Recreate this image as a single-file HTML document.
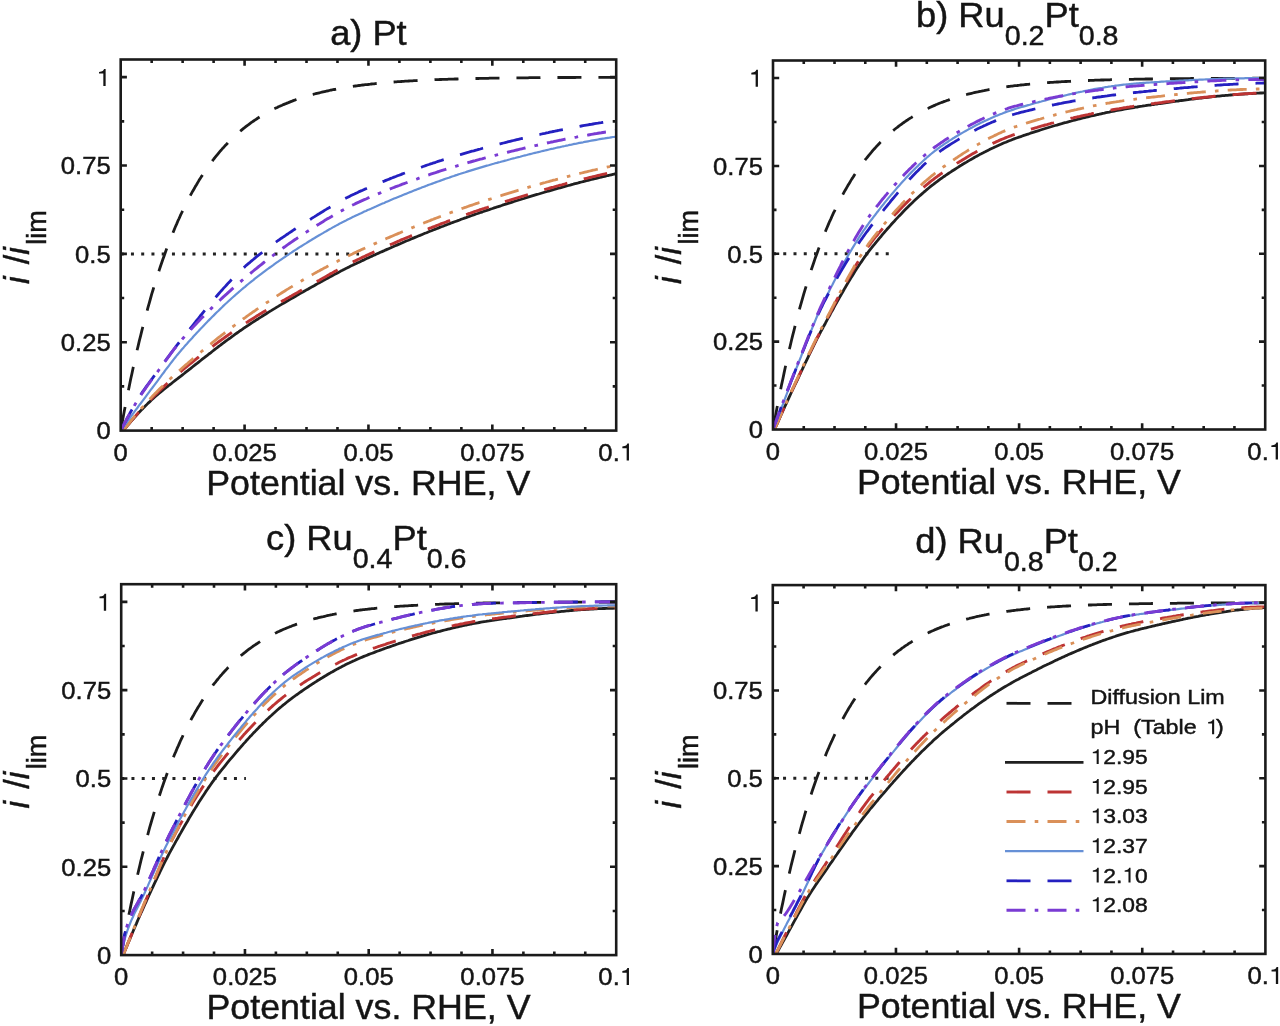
<!DOCTYPE html>
<html><head><meta charset="utf-8"><title>Figure</title>
<style>html,body{margin:0;padding:0;background:#fff;width:1280px;height:1026px;overflow:hidden}svg{display:block;filter:blur(0.45px)}
text{font-family:"Liberation Sans", sans-serif}</style></head>
<body>
<svg width="1280" height="1026" viewBox="0 0 1280 1026">
<rect width="1280" height="1026" fill="#ffffff"/>
<defs>
<clipPath id="clipa"><rect x="120.7" y="59.5" width="495.50000000000006" height="371.1"/></clipPath>
<clipPath id="clipb"><rect x="773.0" y="60.5" width="492.20000000000005" height="369.0"/></clipPath>
<clipPath id="clipc"><rect x="121.2" y="584.2" width="495.00000000000006" height="370.9"/></clipPath>
<clipPath id="clipd"><rect x="772.8" y="585.1" width="492.60000000000014" height="368.79999999999995"/></clipPath>
</defs>
<g clip-path="url(#clipa)" fill="none" stroke-linejoin="round">
<path d="M120.7 430.6 L121.9 423.8 L123.2 417.1 L124.4 410.5 L125.7 404.1 L126.9 397.8 L128.2 391.6 L129.4 385.5 L130.6 379.5 L131.9 373.7 L133.1 368.0 L134.4 362.3 L135.6 356.8 L136.8 351.4 L138.1 346.1 L139.3 340.9 L140.6 335.8 L141.8 330.8 L143.1 325.9 L144.3 321.1 L145.5 316.4 L146.8 311.8 L148.0 307.3 L149.3 302.8 L150.5 298.5 L151.7 294.2 L153.0 290.0 L154.2 285.9 L155.5 281.8 L156.7 277.9 L158.0 274.0 L159.2 270.2 L160.4 266.5 L161.7 262.8 L162.9 259.2 L164.2 255.7 L165.4 252.3 L166.6 248.9 L167.9 245.6 L169.1 242.3 L170.4 239.1 L171.6 236.0 L172.9 232.9 L174.1 229.9 L175.3 227.0 L176.6 224.1 L177.8 221.2 L179.1 218.5 L180.3 215.7 L181.6 213.0 L182.8 210.4 L184.0 207.8 L185.3 205.3 L186.5 202.8 L187.8 200.4 L189.0 198.0 L190.2 195.7 L191.5 193.4 L192.7 191.2 L194.0 189.0 L195.2 186.8 L196.5 184.7 L197.7 182.6 L198.9 180.6 L200.2 178.6 L201.4 176.6 L202.7 174.7 L203.9 172.8 L205.1 171.0 L206.4 169.2 L207.6 167.4 L208.9 165.6 L210.1 163.9 L211.4 162.2 L212.6 160.6 L213.8 159.0 L215.1 157.4 L216.3 155.9 L217.6 154.3 L218.8 152.8 L220.0 151.4 L221.3 150.0 L222.5 148.5 L223.8 147.2 L225.0 145.8 L226.3 144.5 L227.5 143.2 L228.7 141.9 L230.0 140.7 L231.2 139.4 L232.5 138.2 L233.7 137.1 L235.0 135.9 L236.2 134.8 L237.4 133.6 L238.7 132.6 L239.9 131.5 L241.2 130.4 L242.4 129.4 L243.6 128.4 L244.9 127.4 L246.1 126.4 L247.4 125.5 L248.6 124.6 L249.9 123.6 L251.1 122.7 L252.3 121.9 L253.6 121.0 L254.8 120.2 L256.1 119.3 L257.3 118.5 L258.5 117.7 L259.8 116.9 L261.0 116.2 L262.3 115.4 L263.5 114.7 L264.8 113.9 L266.0 113.2 L267.2 112.5 L268.5 111.9 L269.7 111.2 L271.0 110.5 L272.2 109.9 L273.4 109.2 L274.7 108.6 L275.9 108.0 L277.2 107.4 L278.4 106.8 L279.7 106.3 L280.9 105.7 L282.1 105.2 L283.4 104.6 L284.6 104.1 L285.9 103.6 L287.1 103.1 L288.4 102.6 L289.6 102.1 L290.8 101.6 L292.1 101.1 L293.3 100.6 L294.6 100.2 L295.8 99.7 L297.0 99.3 L298.3 98.9 L299.5 98.5 L300.8 98.1 L302.0 97.7 L303.3 97.3 L304.5 96.9 L305.7 96.5 L307.0 96.1 L308.2 95.7 L309.5 95.4 L310.7 95.0 L311.9 94.7 L313.2 94.4 L314.4 94.0 L315.7 93.7 L316.9 93.4 L318.2 93.1 L319.4 92.8 L320.6 92.5 L321.9 92.2 L323.1 91.9 L324.4 91.6 L325.6 91.3 L326.8 91.0 L328.1 90.8 L329.3 90.5 L330.6 90.2 L331.8 90.0 L333.1 89.7 L334.3 89.5 L335.5 89.3 L336.8 89.0 L338.0 88.8 L339.3 88.6 L340.5 88.4 L341.8 88.1 L343.0 87.9 L344.2 87.7 L345.5 87.5 L346.7 87.3 L348.0 87.1 L349.2 86.9 L350.4 86.7 L351.7 86.6 L352.9 86.4 L354.2 86.2 L355.4 86.0 L356.7 85.9 L357.9 85.7 L359.1 85.5 L360.4 85.4 L361.6 85.2 L362.9 85.0 L364.1 84.9 L365.3 84.7 L366.6 84.6 L367.8 84.5 L369.1 84.3 L370.3 84.2 L371.6 84.0 L372.8 83.9 L374.0 83.8 L375.3 83.6 L376.5 83.5 L377.8 83.4 L379.0 83.3 L380.2 83.2 L381.5 83.0 L382.7 82.9 L384.0 82.8 L385.2 82.7 L386.5 82.6 L387.7 82.5 L388.9 82.4 L390.2 82.3 L391.4 82.2 L392.7 82.1 L393.9 82.0 L395.1 81.9 L396.4 81.8 L397.6 81.7 L398.9 81.6 L400.1 81.6 L401.4 81.5 L402.6 81.4 L403.8 81.3 L405.1 81.2 L406.3 81.1 L407.6 81.1 L408.8 81.0 L410.1 80.9 L411.3 80.9 L412.5 80.8 L413.8 80.7 L415.0 80.6 L416.3 80.6 L417.5 80.5 L418.7 80.4 L420.0 80.4 L421.2 80.3 L422.5 80.3 L423.7 80.2 L425.0 80.1 L426.2 80.1 L427.4 80.0 L428.7 80.0 L429.9 79.9 L431.2 79.9 L432.4 79.8 L433.6 79.8 L434.9 79.7 L436.1 79.7 L437.4 79.6 L438.6 79.6 L439.9 79.5 L441.1 79.5 L442.3 79.4 L443.6 79.4 L444.8 79.3 L446.1 79.3 L447.3 79.3 L448.5 79.2 L449.8 79.2 L451.0 79.1 L452.3 79.1 L453.5 79.1 L454.8 79.0 L456.0 79.0 L457.2 79.0 L458.5 78.9 L459.7 78.9 L461.0 78.9 L462.2 78.8 L463.5 78.8 L464.7 78.8 L465.9 78.7 L467.2 78.7 L468.4 78.7 L469.7 78.6 L470.9 78.6 L472.1 78.6 L473.4 78.6 L474.6 78.5 L475.9 78.5 L477.1 78.5 L478.4 78.5 L479.6 78.4 L480.8 78.4 L482.1 78.4 L483.3 78.4 L484.6 78.3 L485.8 78.3 L487.0 78.3 L488.3 78.3 L489.5 78.2 L490.8 78.2 L492.0 78.2 L493.3 78.2 L494.5 78.2 L495.7 78.1 L497.0 78.1 L498.2 78.1 L499.5 78.1 L500.7 78.1 L501.9 78.1 L503.2 78.0 L504.4 78.0 L505.7 78.0 L506.9 78.0 L508.2 78.0 L509.4 78.0 L510.6 77.9 L511.9 77.9 L513.1 77.9 L514.4 77.9 L515.6 77.9 L516.9 77.9 L518.1 77.9 L519.3 77.8 L520.6 77.8 L521.8 77.8 L523.1 77.8 L524.3 77.8 L525.5 77.8 L526.8 77.8 L528.0 77.8 L529.3 77.7 L530.5 77.7 L531.8 77.7 L533.0 77.7 L534.2 77.7 L535.5 77.7 L536.7 77.7 L538.0 77.7 L539.2 77.7 L540.4 77.7 L541.7 77.6 L542.9 77.6 L544.2 77.6 L545.4 77.6 L546.7 77.6 L547.9 77.6 L549.1 77.6 L550.4 77.6 L551.6 77.6 L552.9 77.6 L554.1 77.6 L555.3 77.6 L556.6 77.5 L557.8 77.5 L559.1 77.5 L560.3 77.5 L561.6 77.5 L562.8 77.5 L564.0 77.5 L565.3 77.5 L566.5 77.5 L567.8 77.5 L569.0 77.5 L570.3 77.5 L571.5 77.5 L572.7 77.5 L574.0 77.5 L575.2 77.5 L576.5 77.4 L577.7 77.4 L578.9 77.4 L580.2 77.4 L581.4 77.4 L582.7 77.4 L583.9 77.4 L585.2 77.4 L586.4 77.4 L587.6 77.4 L588.9 77.4 L590.1 77.4 L591.4 77.4 L592.6 77.4 L593.8 77.4 L595.1 77.4 L596.3 77.4 L597.6 77.4 L598.8 77.4 L600.1 77.4 L601.3 77.4 L602.5 77.4 L603.8 77.4 L605.0 77.3 L606.3 77.3 L607.5 77.3 L608.7 77.3 L610.0 77.3 L611.2 77.3 L612.5 77.3 L613.7 77.3 L615.0 77.3 L616.2 77.3" stroke="#1c1c1c" stroke-width="2.8" stroke-dasharray="24 17"/>
<path d="M120.70 253.89 H359.04" stroke="#222" stroke-width="3" stroke-dasharray="3 7.25"/>
<path d="M123.2 430.6 L124.8 428.6 L126.5 426.7 L128.1 424.7 L129.8 422.8 L131.4 420.9 L133.1 419.1 L134.7 417.2 L136.4 415.4 L138.0 413.6 L139.7 411.8 L141.3 410.1 L143.0 408.4 L144.6 406.7 L146.3 405.1 L147.9 403.4 L149.6 401.9 L151.2 400.3 L152.9 398.8 L154.5 397.3 L156.2 395.8 L157.8 394.4 L159.5 393.0 L161.1 391.6 L162.8 390.3 L164.4 388.9 L166.0 387.6 L167.7 386.3 L169.3 385.0 L171.0 383.8 L172.6 382.5 L174.3 381.2 L175.9 379.9 L177.6 378.7 L179.2 377.4 L180.9 376.1 L182.5 374.8 L184.2 373.5 L185.8 372.2 L187.5 370.9 L189.1 369.6 L190.8 368.3 L192.4 367.0 L194.1 365.7 L195.7 364.4 L197.4 363.1 L199.0 361.8 L200.7 360.5 L202.3 359.2 L204.0 357.9 L205.6 356.6 L207.3 355.3 L208.9 354.0 L210.6 352.8 L212.2 351.5 L213.9 350.2 L215.5 348.9 L217.2 347.7 L218.8 346.4 L220.5 345.2 L222.1 343.9 L223.8 342.7 L225.4 341.4 L227.1 340.2 L228.7 339.0 L230.4 337.8 L232.0 336.6 L233.7 335.4 L235.3 334.2 L237.0 333.0 L238.6 331.9 L240.2 330.7 L241.9 329.6 L243.5 328.4 L245.2 327.3 L246.8 326.2 L248.5 325.1 L250.1 324.0 L251.8 322.9 L253.4 321.9 L255.1 320.8 L256.7 319.7 L258.4 318.7 L260.0 317.6 L261.7 316.6 L263.3 315.5 L265.0 314.5 L266.6 313.5 L268.3 312.4 L269.9 311.4 L271.6 310.4 L273.2 309.4 L274.9 308.4 L276.5 307.4 L278.2 306.4 L279.8 305.4 L281.5 304.4 L283.1 303.4 L284.8 302.5 L286.4 301.5 L288.1 300.5 L289.7 299.6 L291.4 298.6 L293.0 297.7 L294.7 296.7 L296.3 295.7 L298.0 294.8 L299.6 293.9 L301.3 292.9 L302.9 292.0 L304.6 291.0 L306.2 290.1 L307.9 289.2 L309.5 288.2 L311.2 287.3 L312.8 286.4 L314.5 285.5 L316.1 284.5 L317.7 283.6 L319.4 282.7 L321.0 281.8 L322.7 280.9 L324.3 280.0 L326.0 279.1 L327.6 278.2 L329.3 277.3 L330.9 276.4 L332.6 275.5 L334.2 274.6 L335.9 273.7 L337.5 272.9 L339.2 272.0 L340.8 271.1 L342.5 270.3 L344.1 269.4 L345.8 268.6 L347.4 267.8 L349.1 266.9 L350.7 266.1 L352.4 265.3 L354.0 264.5 L355.7 263.7 L357.3 262.9 L359.0 262.2 L360.6 261.4 L362.3 260.6 L363.9 259.9 L365.6 259.1 L367.2 258.3 L368.9 257.6 L370.5 256.8 L372.2 256.1 L373.8 255.3 L375.5 254.6 L377.1 253.8 L378.8 253.1 L380.4 252.3 L382.1 251.6 L383.7 250.9 L385.4 250.1 L387.0 249.4 L388.7 248.7 L390.3 248.0 L391.9 247.2 L393.6 246.5 L395.2 245.8 L396.9 245.1 L398.5 244.4 L400.2 243.7 L401.8 243.0 L403.5 242.2 L405.1 241.5 L406.8 240.8 L408.4 240.2 L410.1 239.5 L411.7 238.8 L413.4 238.1 L415.0 237.4 L416.7 236.7 L418.3 236.0 L420.0 235.4 L421.6 234.7 L423.3 234.0 L424.9 233.3 L426.6 232.7 L428.2 232.0 L429.9 231.3 L431.5 230.7 L433.2 230.0 L434.8 229.4 L436.5 228.7 L438.1 228.1 L439.8 227.4 L441.4 226.8 L443.1 226.2 L444.7 225.5 L446.4 224.9 L448.0 224.3 L449.7 223.6 L451.3 223.0 L453.0 222.4 L454.6 221.8 L456.3 221.2 L457.9 220.6 L459.6 220.0 L461.2 219.3 L462.9 218.7 L464.5 218.1 L466.1 217.6 L467.8 217.0 L469.4 216.4 L471.1 215.8 L472.7 215.2 L474.4 214.6 L476.0 214.0 L477.7 213.5 L479.3 212.9 L481.0 212.3 L482.6 211.8 L484.3 211.2 L485.9 210.7 L487.6 210.1 L489.2 209.6 L490.9 209.0 L492.5 208.5 L494.2 207.9 L495.8 207.4 L497.5 206.8 L499.1 206.3 L500.8 205.8 L502.4 205.2 L504.1 204.7 L505.7 204.2 L507.4 203.6 L509.0 203.1 L510.7 202.6 L512.3 202.1 L514.0 201.5 L515.6 201.0 L517.3 200.5 L518.9 200.0 L520.6 199.5 L522.2 199.0 L523.9 198.5 L525.5 197.9 L527.2 197.4 L528.8 196.9 L530.5 196.4 L532.1 195.9 L533.8 195.4 L535.4 194.9 L537.1 194.4 L538.7 194.0 L540.4 193.5 L542.0 193.0 L543.6 192.5 L545.3 192.0 L546.9 191.5 L548.6 191.1 L550.2 190.6 L551.9 190.1 L553.5 189.6 L555.2 189.2 L556.8 188.7 L558.5 188.2 L560.1 187.8 L561.8 187.3 L563.4 186.9 L565.1 186.4 L566.7 186.0 L568.4 185.5 L570.0 185.1 L571.7 184.6 L573.3 184.2 L575.0 183.7 L576.6 183.3 L578.3 182.9 L579.9 182.4 L581.6 182.0 L583.2 181.6 L584.9 181.2 L586.5 180.7 L588.2 180.3 L589.8 179.9 L591.5 179.5 L593.1 179.1 L594.8 178.7 L596.4 178.3 L598.1 177.9 L599.7 177.5 L601.4 177.1 L603.0 176.7 L604.7 176.3 L606.3 175.9 L608.0 175.5 L609.6 175.2 L611.3 174.8 L612.9 174.4 L614.6 174.0 L616.2 173.7" stroke="#202020" stroke-width="2.8"/>
<path d="M123.2 430.6 L124.8 428.6 L126.5 426.6 L128.1 424.6 L129.8 422.7 L131.4 420.7 L133.1 418.8 L134.7 416.9 L136.4 415.0 L138.0 413.1 L139.7 411.3 L141.3 409.5 L143.0 407.6 L144.6 405.9 L146.3 404.1 L147.9 402.4 L149.6 400.6 L151.2 399.0 L152.9 397.3 L154.5 395.6 L156.2 394.0 L157.8 392.4 L159.5 390.8 L161.1 389.2 L162.8 387.6 L164.4 386.1 L166.0 384.5 L167.7 383.0 L169.3 381.5 L171.0 380.0 L172.6 378.6 L174.3 377.1 L175.9 375.7 L177.6 374.3 L179.2 372.8 L180.9 371.5 L182.5 370.1 L184.2 368.7 L185.8 367.3 L187.5 366.0 L189.1 364.6 L190.8 363.3 L192.4 362.0 L194.1 360.6 L195.7 359.3 L197.4 358.0 L199.0 356.7 L200.7 355.4 L202.3 354.1 L204.0 352.9 L205.6 351.6 L207.3 350.3 L208.9 349.1 L210.6 347.8 L212.2 346.6 L213.9 345.4 L215.5 344.1 L217.2 342.9 L218.8 341.7 L220.5 340.5 L222.1 339.3 L223.8 338.2 L225.4 337.0 L227.1 335.8 L228.7 334.6 L230.4 333.5 L232.0 332.3 L233.7 331.2 L235.3 330.1 L237.0 329.0 L238.6 327.8 L240.2 326.7 L241.9 325.6 L243.5 324.5 L245.2 323.5 L246.8 322.4 L248.5 321.3 L250.1 320.3 L251.8 319.2 L253.4 318.2 L255.1 317.1 L256.7 316.1 L258.4 315.1 L260.0 314.1 L261.7 313.1 L263.3 312.1 L265.0 311.1 L266.6 310.1 L268.3 309.2 L269.9 308.2 L271.6 307.2 L273.2 306.3 L274.9 305.3 L276.5 304.4 L278.2 303.4 L279.8 302.5 L281.5 301.5 L283.1 300.6 L284.8 299.7 L286.4 298.7 L288.1 297.8 L289.7 296.9 L291.4 296.0 L293.0 295.0 L294.7 294.1 L296.3 293.2 L298.0 292.3 L299.6 291.3 L301.3 290.4 L302.9 289.5 L304.6 288.6 L306.2 287.6 L307.9 286.7 L309.5 285.8 L311.2 284.8 L312.8 283.9 L314.5 283.0 L316.1 282.0 L317.7 281.1 L319.4 280.2 L321.0 279.2 L322.7 278.3 L324.3 277.4 L326.0 276.4 L327.6 275.5 L329.3 274.6 L330.9 273.6 L332.6 272.7 L334.2 271.8 L335.9 270.9 L337.5 270.0 L339.2 269.1 L340.8 268.2 L342.5 267.3 L344.1 266.5 L345.8 265.6 L347.4 264.7 L349.1 263.9 L350.7 263.0 L352.4 262.2 L354.0 261.4 L355.7 260.6 L357.3 259.8 L359.0 259.0 L360.6 258.2 L362.3 257.4 L363.9 256.7 L365.6 255.9 L367.2 255.1 L368.9 254.4 L370.5 253.6 L372.2 252.9 L373.8 252.1 L375.5 251.4 L377.1 250.6 L378.8 249.9 L380.4 249.1 L382.1 248.4 L383.7 247.6 L385.4 246.9 L387.0 246.2 L388.7 245.5 L390.3 244.7 L391.9 244.0 L393.6 243.3 L395.2 242.6 L396.9 241.9 L398.5 241.2 L400.2 240.4 L401.8 239.7 L403.5 239.0 L405.1 238.3 L406.8 237.7 L408.4 237.0 L410.1 236.3 L411.7 235.6 L413.4 234.9 L415.0 234.2 L416.7 233.5 L418.3 232.9 L420.0 232.2 L421.6 231.5 L423.3 230.9 L424.9 230.2 L426.6 229.5 L428.2 228.9 L429.9 228.2 L431.5 227.6 L433.2 226.9 L434.8 226.3 L436.5 225.6 L438.1 225.0 L439.8 224.4 L441.4 223.7 L443.1 223.1 L444.7 222.5 L446.4 221.9 L448.0 221.2 L449.7 220.6 L451.3 220.0 L453.0 219.4 L454.6 218.8 L456.3 218.2 L457.9 217.6 L459.6 217.0 L461.2 216.4 L462.9 215.8 L464.5 215.2 L466.1 214.6 L467.8 214.0 L469.4 213.5 L471.1 212.9 L472.7 212.3 L474.4 211.7 L476.0 211.2 L477.7 210.6 L479.3 210.0 L481.0 209.5 L482.6 208.9 L484.3 208.4 L485.9 207.8 L487.6 207.3 L489.2 206.7 L490.9 206.2 L492.5 205.6 L494.2 205.1 L495.8 204.6 L497.5 204.0 L499.1 203.5 L500.8 203.0 L502.4 202.5 L504.1 201.9 L505.7 201.4 L507.4 200.9 L509.0 200.4 L510.7 199.8 L512.3 199.3 L514.0 198.8 L515.6 198.3 L517.3 197.8 L518.9 197.3 L520.6 196.8 L522.2 196.3 L523.9 195.8 L525.5 195.3 L527.2 194.8 L528.8 194.3 L530.5 193.8 L532.1 193.3 L533.8 192.8 L535.4 192.3 L537.1 191.8 L538.7 191.3 L540.4 190.8 L542.0 190.4 L543.6 189.9 L545.3 189.4 L546.9 188.9 L548.6 188.5 L550.2 188.0 L551.9 187.5 L553.5 187.1 L555.2 186.6 L556.8 186.1 L558.5 185.7 L560.1 185.2 L561.8 184.8 L563.4 184.3 L565.1 183.9 L566.7 183.4 L568.4 183.0 L570.0 182.6 L571.7 182.1 L573.3 181.7 L575.0 181.3 L576.6 180.8 L578.3 180.4 L579.9 180.0 L581.6 179.6 L583.2 179.1 L584.9 178.7 L586.5 178.3 L588.2 177.9 L589.8 177.5 L591.5 177.1 L593.1 176.7 L594.8 176.3 L596.4 175.9 L598.1 175.5 L599.7 175.1 L601.4 174.7 L603.0 174.3 L604.7 174.0 L606.3 173.6 L608.0 173.2 L609.6 172.8 L611.3 172.5 L612.9 172.1 L614.6 171.7 L616.2 171.4" stroke="#bd3434" stroke-width="2.9" stroke-dasharray="24 17"/>
<path d="M123.2 430.6 L124.8 428.5 L126.5 426.4 L128.1 424.3 L129.8 422.3 L131.4 420.2 L133.1 418.2 L134.7 416.2 L136.4 414.3 L138.0 412.3 L139.7 410.4 L141.3 408.5 L143.0 406.6 L144.6 404.8 L146.3 402.9 L147.9 401.1 L149.6 399.3 L151.2 397.6 L152.9 395.8 L154.5 394.1 L156.2 392.4 L157.8 390.8 L159.5 389.1 L161.1 387.5 L162.8 385.9 L164.4 384.3 L166.0 382.7 L167.7 381.2 L169.3 379.7 L171.0 378.1 L172.6 376.6 L174.3 375.1 L175.9 373.6 L177.6 372.2 L179.2 370.7 L180.9 369.2 L182.5 367.8 L184.2 366.3 L185.8 364.9 L187.5 363.5 L189.1 362.0 L190.8 360.6 L192.4 359.2 L194.1 357.8 L195.7 356.4 L197.4 355.0 L199.0 353.6 L200.7 352.2 L202.3 350.8 L204.0 349.5 L205.6 348.1 L207.3 346.7 L208.9 345.4 L210.6 344.1 L212.2 342.7 L213.9 341.4 L215.5 340.1 L217.2 338.7 L218.8 337.4 L220.5 336.1 L222.1 334.8 L223.8 333.6 L225.4 332.3 L227.1 331.0 L228.7 329.7 L230.4 328.5 L232.0 327.2 L233.7 326.0 L235.3 324.8 L237.0 323.5 L238.6 322.3 L240.2 321.1 L241.9 319.9 L243.5 318.7 L245.2 317.6 L246.8 316.4 L248.5 315.2 L250.1 314.0 L251.8 312.9 L253.4 311.7 L255.1 310.6 L256.7 309.4 L258.4 308.3 L260.0 307.2 L261.7 306.0 L263.3 304.9 L265.0 303.8 L266.6 302.7 L268.3 301.6 L269.9 300.5 L271.6 299.4 L273.2 298.3 L274.9 297.3 L276.5 296.2 L278.2 295.1 L279.8 294.1 L281.5 293.0 L283.1 292.0 L284.8 291.0 L286.4 289.9 L288.1 288.9 L289.7 287.9 L291.4 286.9 L293.0 285.9 L294.7 284.9 L296.3 283.9 L298.0 282.9 L299.6 281.9 L301.3 281.0 L302.9 280.0 L304.6 279.0 L306.2 278.1 L307.9 277.2 L309.5 276.2 L311.2 275.3 L312.8 274.4 L314.5 273.4 L316.1 272.5 L317.7 271.6 L319.4 270.7 L321.0 269.8 L322.7 268.9 L324.3 268.0 L326.0 267.2 L327.6 266.3 L329.3 265.4 L330.9 264.6 L332.6 263.7 L334.2 262.9 L335.9 262.0 L337.5 261.2 L339.2 260.3 L340.8 259.5 L342.5 258.7 L344.1 257.9 L345.8 257.1 L347.4 256.3 L349.1 255.5 L350.7 254.7 L352.4 253.9 L354.0 253.1 L355.7 252.4 L357.3 251.6 L359.0 250.8 L360.6 250.1 L362.3 249.3 L363.9 248.6 L365.6 247.8 L367.2 247.1 L368.9 246.4 L370.5 245.6 L372.2 244.9 L373.8 244.1 L375.5 243.4 L377.1 242.7 L378.8 242.0 L380.4 241.2 L382.1 240.5 L383.7 239.8 L385.4 239.1 L387.0 238.3 L388.7 237.6 L390.3 236.9 L391.9 236.2 L393.6 235.5 L395.2 234.8 L396.9 234.1 L398.5 233.4 L400.2 232.7 L401.8 232.0 L403.5 231.3 L405.1 230.6 L406.8 229.9 L408.4 229.2 L410.1 228.6 L411.7 227.9 L413.4 227.2 L415.0 226.5 L416.7 225.8 L418.3 225.2 L420.0 224.5 L421.6 223.8 L423.3 223.2 L424.9 222.5 L426.6 221.9 L428.2 221.2 L429.9 220.6 L431.5 219.9 L433.2 219.3 L434.8 218.6 L436.5 218.0 L438.1 217.4 L439.8 216.7 L441.4 216.1 L443.1 215.5 L444.7 214.9 L446.4 214.2 L448.0 213.6 L449.7 213.0 L451.3 212.4 L453.0 211.8 L454.6 211.2 L456.3 210.6 L457.9 210.0 L459.6 209.4 L461.2 208.8 L462.9 208.2 L464.5 207.6 L466.1 207.1 L467.8 206.5 L469.4 205.9 L471.1 205.3 L472.7 204.8 L474.4 204.2 L476.0 203.6 L477.7 203.1 L479.3 202.5 L481.0 202.0 L482.6 201.4 L484.3 200.9 L485.9 200.4 L487.6 199.8 L489.2 199.3 L490.9 198.8 L492.5 198.2 L494.2 197.7 L495.8 197.2 L497.5 196.7 L499.1 196.2 L500.8 195.7 L502.4 195.1 L504.1 194.6 L505.7 194.1 L507.4 193.6 L509.0 193.1 L510.7 192.6 L512.3 192.1 L514.0 191.6 L515.6 191.1 L517.3 190.6 L518.9 190.1 L520.6 189.6 L522.2 189.1 L523.9 188.6 L525.5 188.1 L527.2 187.7 L528.8 187.2 L530.5 186.7 L532.1 186.2 L533.8 185.7 L535.4 185.3 L537.1 184.8 L538.7 184.3 L540.4 183.9 L542.0 183.4 L543.6 182.9 L545.3 182.5 L546.9 182.0 L548.6 181.6 L550.2 181.1 L551.9 180.7 L553.5 180.2 L555.2 179.8 L556.8 179.3 L558.5 178.9 L560.1 178.4 L561.8 178.0 L563.4 177.6 L565.1 177.1 L566.7 176.7 L568.4 176.3 L570.0 175.9 L571.7 175.5 L573.3 175.0 L575.0 174.6 L576.6 174.2 L578.3 173.8 L579.9 173.4 L581.6 173.0 L583.2 172.6 L584.9 172.2 L586.5 171.8 L588.2 171.4 L589.8 171.0 L591.5 170.6 L593.1 170.2 L594.8 169.9 L596.4 169.5 L598.1 169.1 L599.7 168.7 L601.4 168.4 L603.0 168.0 L604.7 167.6 L606.3 167.3 L608.0 166.9 L609.6 166.6 L611.3 166.2 L612.9 165.9 L614.6 165.5 L616.2 165.2" stroke="#da9059" stroke-width="2.8" stroke-dasharray="19 9.2 3.6 9.2"/>
<path d="M120.7 430.6 L122.4 428.3 L124.0 426.0 L125.7 423.8 L127.3 421.5 L129.0 419.2 L130.6 417.0 L132.3 414.7 L134.0 412.4 L135.6 410.2 L137.3 408.0 L138.9 405.7 L140.6 403.5 L142.2 401.3 L143.9 399.1 L145.6 396.8 L147.2 394.6 L148.9 392.4 L150.5 390.2 L152.2 388.0 L153.8 385.8 L155.5 383.6 L157.2 381.4 L158.8 379.2 L160.5 376.9 L162.1 374.7 L163.8 372.5 L165.4 370.2 L167.1 368.0 L168.8 365.8 L170.4 363.7 L172.1 361.5 L173.7 359.4 L175.4 357.3 L177.0 355.2 L178.7 353.2 L180.4 351.3 L182.0 349.3 L183.7 347.4 L185.3 345.5 L187.0 343.7 L188.6 341.8 L190.3 340.0 L192.0 338.2 L193.6 336.3 L195.3 334.5 L196.9 332.7 L198.6 331.0 L200.2 329.2 L201.9 327.5 L203.6 325.7 L205.2 324.0 L206.9 322.3 L208.5 320.6 L210.2 318.9 L211.8 317.2 L213.5 315.6 L215.2 313.9 L216.8 312.3 L218.5 310.7 L220.1 309.1 L221.8 307.5 L223.4 305.9 L225.1 304.3 L226.8 302.8 L228.4 301.3 L230.1 299.7 L231.7 298.2 L233.4 296.7 L235.0 295.3 L236.7 293.8 L238.4 292.4 L240.0 291.0 L241.7 289.5 L243.3 288.1 L245.0 286.8 L246.6 285.4 L248.3 284.0 L250.0 282.7 L251.6 281.4 L253.3 280.1 L254.9 278.7 L256.6 277.4 L258.2 276.2 L259.9 274.9 L261.6 273.6 L263.2 272.4 L264.9 271.1 L266.5 269.9 L268.2 268.7 L269.8 267.5 L271.5 266.3 L273.2 265.1 L274.8 263.9 L276.5 262.7 L278.1 261.6 L279.8 260.4 L281.4 259.3 L283.1 258.1 L284.8 257.0 L286.4 255.9 L288.1 254.8 L289.7 253.7 L291.4 252.6 L293.0 251.5 L294.7 250.4 L296.4 249.3 L298.0 248.3 L299.7 247.2 L301.3 246.2 L303.0 245.1 L304.6 244.1 L306.3 243.1 L308.0 242.0 L309.6 241.0 L311.3 240.0 L312.9 239.0 L314.6 238.0 L316.2 237.0 L317.9 236.0 L319.6 235.0 L321.2 234.1 L322.9 233.1 L324.5 232.1 L326.2 231.2 L327.8 230.2 L329.5 229.3 L331.2 228.4 L332.8 227.4 L334.5 226.5 L336.1 225.6 L337.8 224.7 L339.4 223.8 L341.1 222.9 L342.8 222.1 L344.4 221.2 L346.1 220.4 L347.7 219.5 L349.4 218.7 L351.0 217.9 L352.7 217.1 L354.4 216.3 L356.0 215.5 L357.7 214.7 L359.3 213.9 L361.0 213.2 L362.6 212.4 L364.3 211.6 L366.0 210.9 L367.6 210.1 L369.3 209.4 L370.9 208.7 L372.6 207.9 L374.3 207.2 L375.9 206.5 L377.6 205.7 L379.2 205.0 L380.9 204.3 L382.5 203.6 L384.2 202.9 L385.9 202.1 L387.5 201.4 L389.2 200.7 L390.8 200.0 L392.5 199.3 L394.1 198.6 L395.8 197.9 L397.5 197.2 L399.1 196.6 L400.8 195.9 L402.4 195.2 L404.1 194.5 L405.7 193.9 L407.4 193.2 L409.1 192.5 L410.7 191.9 L412.4 191.2 L414.0 190.5 L415.7 189.9 L417.3 189.2 L419.0 188.6 L420.7 188.0 L422.3 187.3 L424.0 186.7 L425.6 186.1 L427.3 185.4 L428.9 184.8 L430.6 184.2 L432.3 183.6 L433.9 183.0 L435.6 182.4 L437.2 181.8 L438.9 181.2 L440.5 180.6 L442.2 180.0 L443.9 179.4 L445.5 178.8 L447.2 178.2 L448.8 177.7 L450.5 177.1 L452.1 176.5 L453.8 176.0 L455.5 175.4 L457.1 174.9 L458.8 174.3 L460.4 173.8 L462.1 173.2 L463.7 172.7 L465.4 172.2 L467.1 171.6 L468.7 171.1 L470.4 170.6 L472.0 170.1 L473.7 169.6 L475.3 169.1 L477.0 168.6 L478.7 168.1 L480.3 167.6 L482.0 167.1 L483.6 166.6 L485.3 166.1 L486.9 165.6 L488.6 165.2 L490.3 164.7 L491.9 164.2 L493.6 163.8 L495.2 163.3 L496.9 162.9 L498.5 162.4 L500.2 162.0 L501.9 161.5 L503.5 161.1 L505.2 160.6 L506.8 160.2 L508.5 159.7 L510.1 159.3 L511.8 158.8 L513.5 158.4 L515.1 158.0 L516.8 157.5 L518.4 157.1 L520.1 156.7 L521.7 156.2 L523.4 155.8 L525.1 155.4 L526.7 155.0 L528.4 154.5 L530.0 154.1 L531.7 153.7 L533.3 153.3 L535.0 152.9 L536.7 152.5 L538.3 152.1 L540.0 151.7 L541.6 151.3 L543.3 150.9 L544.9 150.5 L546.6 150.1 L548.3 149.7 L549.9 149.3 L551.6 148.9 L553.2 148.6 L554.9 148.2 L556.5 147.8 L558.2 147.4 L559.9 147.1 L561.5 146.7 L563.2 146.3 L564.8 146.0 L566.5 145.6 L568.1 145.3 L569.8 144.9 L571.5 144.6 L573.1 144.2 L574.8 143.9 L576.4 143.6 L578.1 143.2 L579.7 142.9 L581.4 142.6 L583.1 142.3 L584.7 141.9 L586.4 141.6 L588.0 141.3 L589.7 141.0 L591.3 140.7 L593.0 140.4 L594.7 140.1 L596.3 139.8 L598.0 139.5 L599.6 139.2 L601.3 138.9 L602.9 138.6 L604.6 138.4 L606.3 138.1 L607.9 137.8 L609.6 137.6 L611.2 137.3 L612.9 137.0 L614.5 136.8 L616.2 136.5" stroke="#6690d6" stroke-width="2.2"/>
<path d="M120.7 430.6 L122.4 427.4 L124.0 424.2 L125.7 421.1 L127.3 418.0 L129.0 415.0 L130.6 412.0 L132.3 409.0 L134.0 406.1 L135.6 403.2 L137.3 400.4 L138.9 397.7 L140.6 395.0 L142.2 392.4 L143.9 390.0 L145.6 387.6 L147.2 385.3 L148.9 383.0 L150.5 380.8 L152.2 378.6 L153.8 376.4 L155.5 374.2 L157.2 372.0 L158.8 369.7 L160.5 367.4 L162.1 365.2 L163.8 362.9 L165.4 360.7 L167.1 358.4 L168.8 356.2 L170.4 353.9 L172.1 351.7 L173.7 349.5 L175.4 347.3 L177.0 345.1 L178.7 343.0 L180.4 340.9 L182.0 338.8 L183.7 336.7 L185.3 334.6 L187.0 332.6 L188.6 330.5 L190.3 328.4 L192.0 326.3 L193.6 324.3 L195.3 322.2 L196.9 320.1 L198.6 318.1 L200.2 316.0 L201.9 314.0 L203.6 311.9 L205.2 309.9 L206.9 307.8 L208.5 305.8 L210.2 303.8 L211.8 301.8 L213.5 299.9 L215.2 297.9 L216.8 296.0 L218.5 294.0 L220.1 292.1 L221.8 290.3 L223.4 288.4 L225.1 286.6 L226.8 284.7 L228.4 282.9 L230.1 281.2 L231.7 279.4 L233.4 277.7 L235.0 276.0 L236.7 274.4 L238.4 272.8 L240.0 271.2 L241.7 269.6 L243.3 268.1 L245.0 266.6 L246.6 265.1 L248.3 263.7 L250.0 262.3 L251.6 260.9 L253.3 259.5 L254.9 258.1 L256.6 256.7 L258.2 255.4 L259.9 254.1 L261.6 252.8 L263.2 251.5 L264.9 250.2 L266.5 249.0 L268.2 247.7 L269.8 246.5 L271.5 245.3 L273.2 244.1 L274.8 242.9 L276.5 241.7 L278.1 240.5 L279.8 239.4 L281.4 238.2 L283.1 237.1 L284.8 236.0 L286.4 234.8 L288.1 233.7 L289.7 232.6 L291.4 231.5 L293.0 230.4 L294.7 229.3 L296.4 228.2 L298.0 227.2 L299.7 226.1 L301.3 225.0 L303.0 224.0 L304.6 222.9 L306.3 221.9 L308.0 220.8 L309.6 219.7 L311.3 218.7 L312.9 217.6 L314.6 216.6 L316.2 215.6 L317.9 214.5 L319.6 213.5 L321.2 212.5 L322.9 211.5 L324.5 210.4 L326.2 209.4 L327.8 208.4 L329.5 207.5 L331.2 206.5 L332.8 205.5 L334.5 204.5 L336.1 203.6 L337.8 202.6 L339.4 201.7 L341.1 200.8 L342.8 199.9 L344.4 199.0 L346.1 198.1 L347.7 197.3 L349.4 196.4 L351.0 195.6 L352.7 194.8 L354.4 194.0 L356.0 193.2 L357.7 192.4 L359.3 191.6 L361.0 190.9 L362.6 190.2 L364.3 189.4 L366.0 188.7 L367.6 188.0 L369.3 187.3 L370.9 186.6 L372.6 185.9 L374.3 185.2 L375.9 184.5 L377.6 183.8 L379.2 183.1 L380.9 182.4 L382.5 181.7 L384.2 181.1 L385.9 180.4 L387.5 179.7 L389.2 179.1 L390.8 178.4 L392.5 177.8 L394.1 177.1 L395.8 176.5 L397.5 175.8 L399.1 175.2 L400.8 174.6 L402.4 173.9 L404.1 173.3 L405.7 172.7 L407.4 172.1 L409.1 171.5 L410.7 170.9 L412.4 170.3 L414.0 169.7 L415.7 169.1 L417.3 168.5 L419.0 167.9 L420.7 167.3 L422.3 166.8 L424.0 166.2 L425.6 165.6 L427.3 165.0 L428.9 164.5 L430.6 163.9 L432.3 163.4 L433.9 162.8 L435.6 162.3 L437.2 161.7 L438.9 161.2 L440.5 160.7 L442.2 160.1 L443.9 159.6 L445.5 159.1 L447.2 158.6 L448.8 158.1 L450.5 157.5 L452.1 157.0 L453.8 156.5 L455.5 156.0 L457.1 155.5 L458.8 155.0 L460.4 154.6 L462.1 154.1 L463.7 153.6 L465.4 153.1 L467.1 152.6 L468.7 152.2 L470.4 151.7 L472.0 151.2 L473.7 150.8 L475.3 150.3 L477.0 149.9 L478.7 149.4 L480.3 149.0 L482.0 148.5 L483.6 148.1 L485.3 147.6 L486.9 147.2 L488.6 146.8 L490.3 146.3 L491.9 145.9 L493.6 145.5 L495.2 145.1 L496.9 144.6 L498.5 144.2 L500.2 143.8 L501.9 143.4 L503.5 143.0 L505.2 142.6 L506.8 142.2 L508.5 141.7 L510.1 141.3 L511.8 140.9 L513.5 140.5 L515.1 140.1 L516.8 139.7 L518.4 139.3 L520.1 138.9 L521.7 138.5 L523.4 138.2 L525.1 137.8 L526.7 137.4 L528.4 137.0 L530.0 136.6 L531.7 136.2 L533.3 135.9 L535.0 135.5 L536.7 135.1 L538.3 134.7 L540.0 134.4 L541.6 134.0 L543.3 133.6 L544.9 133.3 L546.6 132.9 L548.3 132.6 L549.9 132.2 L551.6 131.8 L553.2 131.5 L554.9 131.2 L556.5 130.8 L558.2 130.5 L559.9 130.1 L561.5 129.8 L563.2 129.5 L564.8 129.1 L566.5 128.8 L568.1 128.5 L569.8 128.2 L571.5 127.8 L573.1 127.5 L574.8 127.2 L576.4 126.9 L578.1 126.6 L579.7 126.3 L581.4 126.0 L583.1 125.7 L584.7 125.4 L586.4 125.1 L588.0 124.8 L589.7 124.5 L591.3 124.3 L593.0 124.0 L594.7 123.7 L596.3 123.4 L598.0 123.2 L599.6 122.9 L601.3 122.7 L602.9 122.4 L604.6 122.1 L606.3 121.9 L607.9 121.6 L609.6 121.4 L611.2 121.2 L612.9 120.9 L614.5 120.7 L616.2 120.5" stroke="#2420c0" stroke-width="2.8" stroke-dasharray="24 17"/>
<path d="M120.7 430.6 L122.4 427.3 L124.0 424.1 L125.7 421.0 L127.3 417.9 L129.0 414.9 L130.6 412.0 L132.3 409.1 L134.0 406.3 L135.6 403.6 L137.3 400.9 L138.9 398.2 L140.6 395.7 L142.2 393.1 L143.9 390.7 L145.6 388.3 L147.2 385.9 L148.9 383.6 L150.5 381.3 L152.2 379.1 L153.8 376.8 L155.5 374.6 L157.2 372.3 L158.8 370.0 L160.5 367.7 L162.1 365.4 L163.8 363.1 L165.4 360.9 L167.1 358.6 L168.8 356.3 L170.4 354.1 L172.1 351.9 L173.7 349.7 L175.4 347.5 L177.0 345.4 L178.7 343.4 L180.4 341.4 L182.0 339.4 L183.7 337.5 L185.3 335.6 L187.0 333.8 L188.6 331.9 L190.3 330.1 L192.0 328.3 L193.6 326.5 L195.3 324.8 L196.9 323.0 L198.6 321.3 L200.2 319.5 L201.9 317.8 L203.6 316.1 L205.2 314.5 L206.9 312.8 L208.5 311.1 L210.2 309.5 L211.8 307.9 L213.5 306.3 L215.2 304.7 L216.8 303.1 L218.5 301.5 L220.1 300.0 L221.8 298.4 L223.4 296.9 L225.1 295.4 L226.8 293.9 L228.4 292.4 L230.1 290.9 L231.7 289.4 L233.4 287.9 L235.0 286.5 L236.7 285.0 L238.4 283.6 L240.0 282.2 L241.7 280.7 L243.3 279.3 L245.0 277.9 L246.6 276.5 L248.3 275.1 L250.0 273.8 L251.6 272.4 L253.3 271.0 L254.9 269.7 L256.6 268.3 L258.2 267.0 L259.9 265.7 L261.6 264.3 L263.2 263.0 L264.9 261.7 L266.5 260.4 L268.2 259.1 L269.8 257.9 L271.5 256.6 L273.2 255.3 L274.8 254.1 L276.5 252.9 L278.1 251.6 L279.8 250.4 L281.4 249.2 L283.1 248.0 L284.8 246.8 L286.4 245.6 L288.1 244.4 L289.7 243.3 L291.4 242.1 L293.0 241.0 L294.7 239.8 L296.4 238.7 L298.0 237.6 L299.7 236.5 L301.3 235.4 L303.0 234.3 L304.6 233.2 L306.3 232.1 L308.0 231.0 L309.6 230.0 L311.3 228.9 L312.9 227.9 L314.6 226.8 L316.2 225.8 L317.9 224.7 L319.6 223.7 L321.2 222.7 L322.9 221.7 L324.5 220.6 L326.2 219.6 L327.8 218.6 L329.5 217.7 L331.2 216.7 L332.8 215.7 L334.5 214.7 L336.1 213.8 L337.8 212.9 L339.4 211.9 L341.1 211.0 L342.8 210.1 L344.4 209.2 L346.1 208.4 L347.7 207.5 L349.4 206.6 L351.0 205.8 L352.7 205.0 L354.4 204.2 L356.0 203.4 L357.7 202.6 L359.3 201.9 L361.0 201.1 L362.6 200.4 L364.3 199.7 L366.0 199.0 L367.6 198.2 L369.3 197.5 L370.9 196.8 L372.6 196.1 L374.3 195.4 L375.9 194.7 L377.6 194.0 L379.2 193.3 L380.9 192.7 L382.5 192.0 L384.2 191.3 L385.9 190.6 L387.5 190.0 L389.2 189.3 L390.8 188.7 L392.5 188.0 L394.1 187.4 L395.8 186.7 L397.5 186.1 L399.1 185.5 L400.8 184.8 L402.4 184.2 L404.1 183.6 L405.7 183.0 L407.4 182.4 L409.1 181.7 L410.7 181.1 L412.4 180.5 L414.0 179.9 L415.7 179.3 L417.3 178.8 L419.0 178.2 L420.7 177.6 L422.3 177.0 L424.0 176.4 L425.6 175.9 L427.3 175.3 L428.9 174.8 L430.6 174.2 L432.3 173.6 L433.9 173.1 L435.6 172.6 L437.2 172.0 L438.9 171.5 L440.5 170.9 L442.2 170.4 L443.9 169.9 L445.5 169.4 L447.2 168.8 L448.8 168.3 L450.5 167.8 L452.1 167.3 L453.8 166.8 L455.5 166.3 L457.1 165.8 L458.8 165.3 L460.4 164.8 L462.1 164.3 L463.7 163.9 L465.4 163.4 L467.1 162.9 L468.7 162.4 L470.4 162.0 L472.0 161.5 L473.7 161.0 L475.3 160.6 L477.0 160.1 L478.7 159.7 L480.3 159.2 L482.0 158.8 L483.6 158.3 L485.3 157.9 L486.9 157.5 L488.6 157.0 L490.3 156.6 L491.9 156.2 L493.6 155.7 L495.2 155.3 L496.9 154.9 L498.5 154.5 L500.2 154.0 L501.9 153.6 L503.5 153.2 L505.2 152.8 L506.8 152.4 L508.5 152.0 L510.1 151.6 L511.8 151.2 L513.5 150.8 L515.1 150.4 L516.8 150.0 L518.4 149.6 L520.1 149.2 L521.7 148.8 L523.4 148.4 L525.1 148.0 L526.7 147.6 L528.4 147.2 L530.0 146.8 L531.7 146.4 L533.3 146.1 L535.0 145.7 L536.7 145.3 L538.3 144.9 L540.0 144.6 L541.6 144.2 L543.3 143.8 L544.9 143.5 L546.6 143.1 L548.3 142.7 L549.9 142.4 L551.6 142.0 L553.2 141.7 L554.9 141.3 L556.5 141.0 L558.2 140.6 L559.9 140.3 L561.5 140.0 L563.2 139.6 L564.8 139.3 L566.5 139.0 L568.1 138.6 L569.8 138.3 L571.5 138.0 L573.1 137.7 L574.8 137.4 L576.4 137.1 L578.1 136.7 L579.7 136.4 L581.4 136.1 L583.1 135.8 L584.7 135.5 L586.4 135.2 L588.0 135.0 L589.7 134.7 L591.3 134.4 L593.0 134.1 L594.7 133.8 L596.3 133.6 L598.0 133.3 L599.6 133.0 L601.3 132.8 L602.9 132.5 L604.6 132.2 L606.3 132.0 L607.9 131.7 L609.6 131.5 L611.2 131.2 L612.9 131.0 L614.5 130.8 L616.2 130.5" stroke="#7a3bd3" stroke-width="2.9" stroke-dasharray="19 9.2 3.6 9.2"/>
</g>
<g stroke="#1a1a1a" stroke-width="2.6" fill="none">
<rect x="120.7" y="59.5" width="495.50" height="371.10"/>
<path d="M151.67 430.60V427.10M151.67 59.50V63.00M182.64 430.60V427.10M182.64 59.50V63.00M213.61 430.60V427.10M213.61 59.50V63.00M244.58 430.60V424.40M244.58 59.50V65.70M275.54 430.60V427.10M275.54 59.50V63.00M306.51 430.60V427.10M306.51 59.50V63.00M337.48 430.60V427.10M337.48 59.50V63.00M368.45 430.60V424.40M368.45 59.50V65.70M399.42 430.60V427.10M399.42 59.50V63.00M430.39 430.60V427.10M430.39 59.50V63.00M461.36 430.60V427.10M461.36 59.50V63.00M492.33 430.60V424.40M492.33 59.50V65.70M523.29 430.60V427.10M523.29 59.50V63.00M554.26 430.60V427.10M554.26 59.50V63.00M585.23 430.60V427.10M585.23 59.50V63.00M120.70 386.42H124.20M616.20 386.42H612.70M120.70 342.24H126.90M616.20 342.24H610.00M120.70 298.06H124.20M616.20 298.06H612.70M120.70 253.89H126.90M616.20 253.89H610.00M120.70 209.71H124.20M616.20 209.71H612.70M120.70 165.53H126.90M616.20 165.53H610.00M120.70 121.35H124.20M616.20 121.35H612.70M120.70 77.17H126.90M616.20 77.17H610.00"/>
</g>
<g font-family="'Liberation Sans', sans-serif" fill="#141414" stroke="#141414" stroke-width="0.45">
<text transform="translate(110.70,439.40) scale(1.06,1)" font-size="24.2" text-anchor="end" >0</text>
<text transform="translate(110.70,351.04) scale(1.06,1)" font-size="24.2" text-anchor="end" >0.25</text>
<text transform="translate(110.70,262.69) scale(1.06,1)" font-size="24.2" text-anchor="end" >0.5</text>
<text transform="translate(110.70,174.33) scale(1.06,1)" font-size="24.2" text-anchor="end" >0.75</text>
<text transform="translate(96.43,85.97) scale(1.06,1)" font-size="24.2" text-anchor="start" >&#8199;</text><path transform="translate(96.43,85.97) scale(0.02565,-0.02420)" d="M359 0L359 703L297 703C282 640 238 590 101 582L101 514L269 514L269 0Z"/>
<text transform="translate(120.70,460.60) scale(1.06,1)" font-size="24.2" text-anchor="middle" >0</text>
<text transform="translate(244.58,460.60) scale(1.06,1)" font-size="24.2" text-anchor="middle" >0.025</text>
<text transform="translate(368.45,460.60) scale(1.06,1)" font-size="24.2" text-anchor="middle" >0.05</text>
<text transform="translate(492.32,460.60) scale(1.06,1)" font-size="24.2" text-anchor="middle" >0.075</text>
<text transform="translate(598.37,460.60) scale(1.06,1)" font-size="24.2" text-anchor="start" >0.&#8199;</text><path transform="translate(619.76,460.60) scale(0.02565,-0.02420)" d="M359 0L359 703L297 703C282 640 238 590 101 582L101 514L269 514L269 0Z"/>
<text transform="translate(368.25,494.80) scale(1.046,1)" font-size="34.2" text-anchor="middle" >Potential vs. RHE, V</text>
<text transform="translate(28.70,247.05) rotate(-90)" font-size="34.2" text-anchor="middle"><tspan font-style="italic">i</tspan><tspan dx="2.6"> /</tspan><tspan font-style="italic">i</tspan><tspan font-size="27" dx="2.5" dy="17">lim</tspan></text>
</g>
<g clip-path="url(#clipb)" fill="none" stroke-linejoin="round">
<path d="M773.0 429.5 L774.2 422.7 L775.5 416.1 L776.7 409.5 L777.9 403.1 L779.2 396.8 L780.4 390.7 L781.6 384.6 L782.9 378.7 L784.1 372.9 L785.3 367.2 L786.6 361.6 L787.8 356.1 L789.0 350.8 L790.3 345.5 L791.5 340.3 L792.7 335.3 L794.0 330.3 L795.2 325.4 L796.4 320.7 L797.7 316.0 L798.9 311.4 L800.1 306.9 L801.4 302.4 L802.6 298.1 L803.8 293.9 L805.1 289.7 L806.3 285.6 L807.5 281.6 L808.8 277.7 L810.0 273.8 L811.2 270.0 L812.5 266.3 L813.7 262.7 L814.9 259.1 L816.2 255.6 L817.4 252.2 L818.6 248.8 L819.9 245.5 L821.1 242.3 L822.3 239.1 L823.6 236.0 L824.8 232.9 L826.0 230.0 L827.3 227.0 L828.5 224.1 L829.7 221.3 L831.0 218.6 L832.2 215.8 L833.4 213.2 L834.7 210.6 L835.9 208.0 L837.1 205.5 L838.4 203.0 L839.6 200.6 L840.8 198.3 L842.1 195.9 L843.3 193.7 L844.5 191.4 L845.8 189.2 L847.0 187.1 L848.2 185.0 L849.5 182.9 L850.7 180.9 L851.9 178.9 L853.2 177.0 L854.4 175.0 L855.7 173.2 L856.9 171.3 L858.1 169.5 L859.4 167.8 L860.6 166.0 L861.8 164.3 L863.1 162.7 L864.3 161.0 L865.5 159.4 L866.8 157.9 L868.0 156.3 L869.2 154.8 L870.5 153.3 L871.7 151.9 L872.9 150.4 L874.2 149.0 L875.4 147.7 L876.6 146.3 L877.9 145.0 L879.1 143.7 L880.3 142.4 L881.6 141.2 L882.8 140.0 L884.0 138.8 L885.3 137.6 L886.5 136.5 L887.7 135.3 L889.0 134.2 L890.2 133.1 L891.4 132.1 L892.7 131.0 L893.9 130.0 L895.1 129.0 L896.4 128.0 L897.6 127.1 L898.8 126.1 L900.1 125.2 L901.3 124.3 L902.5 123.4 L903.8 122.5 L905.0 121.7 L906.2 120.8 L907.5 120.0 L908.7 119.2 L909.9 118.4 L911.2 117.6 L912.4 116.8 L913.6 116.1 L914.9 115.4 L916.1 114.6 L917.3 113.9 L918.6 113.2 L919.8 112.6 L921.0 111.9 L922.3 111.2 L923.5 110.6 L924.7 110.0 L926.0 109.3 L927.2 108.7 L928.4 108.2 L929.7 107.6 L930.9 107.0 L932.1 106.4 L933.4 105.9 L934.6 105.4 L935.8 104.8 L937.1 104.3 L938.3 103.8 L939.5 103.3 L940.8 102.8 L942.0 102.3 L943.2 101.9 L944.5 101.4 L945.7 101.0 L946.9 100.5 L948.2 100.1 L949.4 99.7 L950.6 99.2 L951.9 98.8 L953.1 98.4 L954.3 98.0 L955.6 97.7 L956.8 97.3 L958.0 96.9 L959.3 96.5 L960.5 96.2 L961.7 95.8 L963.0 95.5 L964.2 95.2 L965.4 94.8 L966.7 94.5 L967.9 94.2 L969.1 93.9 L970.4 93.6 L971.6 93.3 L972.8 93.0 L974.1 92.7 L975.3 92.4 L976.5 92.1 L977.8 91.9 L979.0 91.6 L980.2 91.3 L981.5 91.1 L982.7 90.8 L983.9 90.6 L985.2 90.3 L986.4 90.1 L987.6 89.9 L988.9 89.6 L990.1 89.4 L991.3 89.2 L992.6 89.0 L993.8 88.8 L995.0 88.6 L996.3 88.4 L997.5 88.2 L998.7 88.0 L1000.0 87.8 L1001.2 87.6 L1002.4 87.4 L1003.7 87.2 L1004.9 87.0 L1006.1 86.9 L1007.4 86.7 L1008.6 86.5 L1009.8 86.4 L1011.1 86.2 L1012.3 86.1 L1013.5 85.9 L1014.8 85.7 L1016.0 85.6 L1017.2 85.5 L1018.5 85.3 L1019.7 85.2 L1021.0 85.0 L1022.2 84.9 L1023.4 84.8 L1024.7 84.6 L1025.9 84.5 L1027.1 84.4 L1028.4 84.3 L1029.6 84.1 L1030.8 84.0 L1032.1 83.9 L1033.3 83.8 L1034.5 83.7 L1035.8 83.6 L1037.0 83.5 L1038.2 83.4 L1039.5 83.3 L1040.7 83.2 L1041.9 83.1 L1043.2 83.0 L1044.4 82.9 L1045.6 82.8 L1046.9 82.7 L1048.1 82.6 L1049.3 82.5 L1050.6 82.4 L1051.8 82.3 L1053.0 82.3 L1054.3 82.2 L1055.5 82.1 L1056.7 82.0 L1058.0 82.0 L1059.2 81.9 L1060.4 81.8 L1061.7 81.7 L1062.9 81.7 L1064.1 81.6 L1065.4 81.5 L1066.6 81.5 L1067.8 81.4 L1069.1 81.3 L1070.3 81.3 L1071.5 81.2 L1072.8 81.1 L1074.0 81.1 L1075.2 81.0 L1076.5 81.0 L1077.7 80.9 L1078.9 80.9 L1080.2 80.8 L1081.4 80.7 L1082.6 80.7 L1083.9 80.6 L1085.1 80.6 L1086.3 80.5 L1087.6 80.5 L1088.8 80.5 L1090.0 80.4 L1091.3 80.4 L1092.5 80.3 L1093.7 80.3 L1095.0 80.2 L1096.2 80.2 L1097.4 80.1 L1098.7 80.1 L1099.9 80.1 L1101.1 80.0 L1102.4 80.0 L1103.6 80.0 L1104.8 79.9 L1106.1 79.9 L1107.3 79.8 L1108.5 79.8 L1109.8 79.8 L1111.0 79.7 L1112.2 79.7 L1113.5 79.7 L1114.7 79.7 L1115.9 79.6 L1117.2 79.6 L1118.4 79.6 L1119.6 79.5 L1120.9 79.5 L1122.1 79.5 L1123.3 79.5 L1124.6 79.4 L1125.8 79.4 L1127.0 79.4 L1128.3 79.3 L1129.5 79.3 L1130.7 79.3 L1132.0 79.3 L1133.2 79.3 L1134.4 79.2 L1135.7 79.2 L1136.9 79.2 L1138.1 79.2 L1139.4 79.1 L1140.6 79.1 L1141.8 79.1 L1143.1 79.1 L1144.3 79.1 L1145.5 79.0 L1146.8 79.0 L1148.0 79.0 L1149.2 79.0 L1150.5 79.0 L1151.7 79.0 L1152.9 78.9 L1154.2 78.9 L1155.4 78.9 L1156.6 78.9 L1157.9 78.9 L1159.1 78.9 L1160.3 78.8 L1161.6 78.8 L1162.8 78.8 L1164.0 78.8 L1165.3 78.8 L1166.5 78.8 L1167.7 78.8 L1169.0 78.7 L1170.2 78.7 L1171.4 78.7 L1172.7 78.7 L1173.9 78.7 L1175.1 78.7 L1176.4 78.7 L1177.6 78.7 L1178.8 78.6 L1180.1 78.6 L1181.3 78.6 L1182.5 78.6 L1183.8 78.6 L1185.0 78.6 L1186.3 78.6 L1187.5 78.6 L1188.7 78.6 L1190.0 78.6 L1191.2 78.5 L1192.4 78.5 L1193.7 78.5 L1194.9 78.5 L1196.1 78.5 L1197.4 78.5 L1198.6 78.5 L1199.8 78.5 L1201.1 78.5 L1202.3 78.5 L1203.5 78.5 L1204.8 78.5 L1206.0 78.4 L1207.2 78.4 L1208.5 78.4 L1209.7 78.4 L1210.9 78.4 L1212.2 78.4 L1213.4 78.4 L1214.6 78.4 L1215.9 78.4 L1217.1 78.4 L1218.3 78.4 L1219.6 78.4 L1220.8 78.4 L1222.0 78.4 L1223.3 78.4 L1224.5 78.3 L1225.7 78.3 L1227.0 78.3 L1228.2 78.3 L1229.4 78.3 L1230.7 78.3 L1231.9 78.3 L1233.1 78.3 L1234.4 78.3 L1235.6 78.3 L1236.8 78.3 L1238.1 78.3 L1239.3 78.3 L1240.5 78.3 L1241.8 78.3 L1243.0 78.3 L1244.2 78.3 L1245.5 78.3 L1246.7 78.3 L1247.9 78.3 L1249.2 78.3 L1250.4 78.3 L1251.6 78.3 L1252.9 78.2 L1254.1 78.2 L1255.3 78.2 L1256.6 78.2 L1257.8 78.2 L1259.0 78.2 L1260.3 78.2 L1261.5 78.2 L1262.7 78.2 L1264.0 78.2 L1265.2 78.2" stroke="#1c1c1c" stroke-width="2.8" stroke-dasharray="24 17"/>
<path d="M773.00 253.79 H889.16" stroke="#222" stroke-width="3" stroke-dasharray="3 7.25"/>
<path d="M774.5 429.5 L776.1 425.8 L777.8 422.2 L779.4 418.6 L781.0 414.9 L782.7 411.3 L784.3 407.7 L786.0 404.2 L787.6 400.6 L789.2 397.1 L790.9 393.5 L792.5 390.0 L794.2 386.5 L795.8 383.0 L797.5 379.6 L799.1 376.1 L800.7 372.6 L802.4 369.2 L804.0 365.7 L805.7 362.2 L807.3 358.8 L808.9 355.3 L810.6 351.9 L812.2 348.6 L813.9 345.2 L815.5 341.9 L817.1 338.7 L818.8 335.5 L820.4 332.3 L822.1 329.3 L823.7 326.2 L825.4 323.2 L827.0 320.2 L828.6 317.2 L830.3 314.2 L831.9 311.2 L833.6 308.2 L835.2 305.2 L836.8 302.3 L838.5 299.4 L840.1 296.4 L841.8 293.6 L843.4 290.7 L845.0 287.9 L846.7 285.1 L848.3 282.3 L850.0 279.6 L851.6 276.9 L853.3 274.2 L854.9 271.6 L856.5 269.0 L858.2 266.5 L859.8 264.0 L861.5 261.6 L863.1 259.2 L864.7 256.9 L866.4 254.6 L868.0 252.4 L869.7 250.2 L871.3 248.2 L872.9 246.1 L874.6 244.1 L876.2 242.1 L877.9 240.1 L879.5 238.1 L881.2 236.2 L882.8 234.2 L884.4 232.3 L886.1 230.4 L887.7 228.5 L889.4 226.7 L891.0 224.8 L892.6 223.0 L894.3 221.2 L895.9 219.4 L897.6 217.6 L899.2 215.9 L900.9 214.2 L902.5 212.5 L904.1 210.8 L905.8 209.1 L907.4 207.5 L909.1 205.8 L910.7 204.2 L912.3 202.7 L914.0 201.1 L915.6 199.6 L917.3 198.0 L918.9 196.5 L920.5 195.1 L922.2 193.6 L923.8 192.2 L925.5 190.8 L927.1 189.4 L928.8 188.0 L930.4 186.7 L932.0 185.4 L933.7 184.1 L935.3 182.8 L937.0 181.6 L938.6 180.3 L940.2 179.1 L941.9 178.0 L943.5 176.8 L945.2 175.7 L946.8 174.6 L948.4 173.5 L950.1 172.4 L951.7 171.3 L953.4 170.2 L955.0 169.2 L956.7 168.1 L958.3 167.1 L959.9 166.0 L961.6 165.0 L963.2 164.0 L964.9 163.0 L966.5 162.1 L968.1 161.1 L969.8 160.1 L971.4 159.2 L973.1 158.3 L974.7 157.3 L976.3 156.4 L978.0 155.5 L979.6 154.6 L981.3 153.8 L982.9 152.9 L984.6 152.1 L986.2 151.2 L987.8 150.4 L989.5 149.6 L991.1 148.8 L992.8 148.0 L994.4 147.2 L996.0 146.5 L997.7 145.7 L999.3 145.0 L1001.0 144.3 L1002.6 143.5 L1004.2 142.8 L1005.9 142.2 L1007.5 141.5 L1009.2 140.8 L1010.8 140.2 L1012.5 139.5 L1014.1 138.9 L1015.7 138.3 L1017.4 137.7 L1019.0 137.1 L1020.7 136.6 L1022.3 136.0 L1023.9 135.4 L1025.6 134.9 L1027.2 134.3 L1028.9 133.8 L1030.5 133.2 L1032.1 132.7 L1033.8 132.1 L1035.4 131.6 L1037.1 131.1 L1038.7 130.6 L1040.4 130.0 L1042.0 129.5 L1043.6 129.0 L1045.3 128.5 L1046.9 128.0 L1048.6 127.5 L1050.2 127.0 L1051.8 126.5 L1053.5 126.0 L1055.1 125.5 L1056.8 125.1 L1058.4 124.6 L1060.0 124.1 L1061.7 123.7 L1063.3 123.2 L1065.0 122.7 L1066.6 122.3 L1068.3 121.8 L1069.9 121.4 L1071.5 121.0 L1073.2 120.5 L1074.8 120.1 L1076.5 119.7 L1078.1 119.2 L1079.7 118.8 L1081.4 118.4 L1083.0 118.0 L1084.7 117.6 L1086.3 117.2 L1087.9 116.8 L1089.6 116.4 L1091.2 116.0 L1092.9 115.6 L1094.5 115.3 L1096.2 114.9 L1097.8 114.5 L1099.4 114.2 L1101.1 113.8 L1102.7 113.4 L1104.4 113.1 L1106.0 112.7 L1107.6 112.4 L1109.3 112.1 L1110.9 111.7 L1112.6 111.4 L1114.2 111.1 L1115.8 110.7 L1117.5 110.4 L1119.1 110.1 L1120.8 109.8 L1122.4 109.5 L1124.1 109.2 L1125.7 108.9 L1127.3 108.6 L1129.0 108.3 L1130.6 108.0 L1132.3 107.8 L1133.9 107.5 L1135.5 107.2 L1137.2 107.0 L1138.8 106.7 L1140.5 106.4 L1142.1 106.2 L1143.8 105.9 L1145.4 105.7 L1147.0 105.4 L1148.7 105.2 L1150.3 105.0 L1152.0 104.7 L1153.6 104.5 L1155.2 104.2 L1156.9 104.0 L1158.5 103.7 L1160.2 103.5 L1161.8 103.3 L1163.4 103.0 L1165.1 102.8 L1166.7 102.6 L1168.4 102.3 L1170.0 102.1 L1171.7 101.9 L1173.3 101.6 L1174.9 101.4 L1176.6 101.2 L1178.2 101.0 L1179.9 100.7 L1181.5 100.5 L1183.1 100.3 L1184.8 100.1 L1186.4 99.9 L1188.1 99.7 L1189.7 99.4 L1191.3 99.2 L1193.0 99.0 L1194.6 98.8 L1196.3 98.6 L1197.9 98.4 L1199.6 98.2 L1201.2 98.0 L1202.8 97.8 L1204.5 97.7 L1206.1 97.5 L1207.8 97.3 L1209.4 97.1 L1211.0 96.9 L1212.7 96.7 L1214.3 96.6 L1216.0 96.4 L1217.6 96.2 L1219.2 96.1 L1220.9 95.9 L1222.5 95.7 L1224.2 95.6 L1225.8 95.4 L1227.5 95.3 L1229.1 95.1 L1230.7 95.0 L1232.4 94.9 L1234.0 94.7 L1235.7 94.6 L1237.3 94.5 L1238.9 94.3 L1240.6 94.2 L1242.2 94.1 L1243.9 94.0 L1245.5 93.9 L1247.1 93.8 L1248.8 93.7 L1250.4 93.6 L1252.1 93.5 L1253.7 93.4 L1255.4 93.3 L1257.0 93.2 L1258.6 93.1 L1260.3 93.0 L1261.9 93.0 L1263.6 92.9 L1265.2 92.8" stroke="#202020" stroke-width="2.8"/>
<path d="M774.5 429.5 L776.1 425.8 L777.8 422.1 L779.4 418.4 L781.0 414.7 L782.7 411.0 L784.3 407.4 L786.0 403.8 L787.6 400.2 L789.2 396.6 L790.9 393.0 L792.5 389.4 L794.2 385.9 L795.8 382.4 L797.5 378.9 L799.1 375.4 L800.7 371.9 L802.4 368.4 L804.0 364.9 L805.7 361.5 L807.3 358.0 L808.9 354.6 L810.6 351.2 L812.2 347.8 L813.9 344.4 L815.5 341.1 L817.1 337.8 L818.8 334.6 L820.4 331.4 L822.1 328.2 L823.7 325.1 L825.4 321.9 L827.0 318.8 L828.6 315.6 L830.3 312.5 L831.9 309.3 L833.6 306.1 L835.2 303.0 L836.8 299.8 L838.5 296.7 L840.1 293.6 L841.8 290.5 L843.4 287.4 L845.0 284.4 L846.7 281.4 L848.3 278.4 L850.0 275.5 L851.6 272.6 L853.3 269.8 L854.9 267.0 L856.5 264.2 L858.2 261.5 L859.8 258.9 L861.5 256.3 L863.1 253.8 L864.7 251.4 L866.4 249.0 L868.0 246.7 L869.7 244.5 L871.3 242.4 L872.9 240.3 L874.6 238.2 L876.2 236.2 L877.9 234.2 L879.5 232.2 L881.2 230.3 L882.8 228.3 L884.4 226.4 L886.1 224.5 L887.7 222.7 L889.4 220.8 L891.0 219.0 L892.6 217.2 L894.3 215.4 L895.9 213.6 L897.6 211.9 L899.2 210.2 L900.9 208.5 L902.5 206.8 L904.1 205.2 L905.8 203.5 L907.4 201.9 L909.1 200.3 L910.7 198.8 L912.3 197.2 L914.0 195.7 L915.6 194.2 L917.3 192.7 L918.9 191.3 L920.5 189.9 L922.2 188.4 L923.8 187.1 L925.5 185.7 L927.1 184.3 L928.8 183.0 L930.4 181.7 L932.0 180.4 L933.7 179.2 L935.3 177.9 L937.0 176.7 L938.6 175.5 L940.2 174.3 L941.9 173.2 L943.5 172.0 L945.2 170.9 L946.8 169.8 L948.4 168.7 L950.1 167.7 L951.7 166.6 L953.4 165.5 L955.0 164.5 L956.7 163.4 L958.3 162.4 L959.9 161.4 L961.6 160.4 L963.2 159.4 L964.9 158.4 L966.5 157.4 L968.1 156.5 L969.8 155.5 L971.4 154.6 L973.1 153.6 L974.7 152.7 L976.3 151.8 L978.0 150.9 L979.6 150.0 L981.3 149.1 L982.9 148.3 L984.6 147.4 L986.2 146.6 L987.8 145.8 L989.5 145.0 L991.1 144.2 L992.8 143.4 L994.4 142.7 L996.0 141.9 L997.7 141.2 L999.3 140.4 L1001.0 139.7 L1002.6 139.0 L1004.2 138.4 L1005.9 137.7 L1007.5 137.0 L1009.2 136.4 L1010.8 135.8 L1012.5 135.2 L1014.1 134.6 L1015.7 134.0 L1017.4 133.5 L1019.0 132.9 L1020.7 132.4 L1022.3 131.9 L1023.9 131.3 L1025.6 130.8 L1027.2 130.3 L1028.9 129.8 L1030.5 129.3 L1032.1 128.8 L1033.8 128.3 L1035.4 127.8 L1037.1 127.4 L1038.7 126.9 L1040.4 126.4 L1042.0 125.9 L1043.6 125.5 L1045.3 125.0 L1046.9 124.6 L1048.6 124.1 L1050.2 123.7 L1051.8 123.2 L1053.5 122.8 L1055.1 122.3 L1056.8 121.9 L1058.4 121.5 L1060.0 121.1 L1061.7 120.7 L1063.3 120.2 L1065.0 119.8 L1066.6 119.4 L1068.3 119.0 L1069.9 118.6 L1071.5 118.2 L1073.2 117.9 L1074.8 117.5 L1076.5 117.1 L1078.1 116.7 L1079.7 116.4 L1081.4 116.0 L1083.0 115.6 L1084.7 115.3 L1086.3 114.9 L1087.9 114.6 L1089.6 114.2 L1091.2 113.9 L1092.9 113.5 L1094.5 113.2 L1096.2 112.9 L1097.8 112.6 L1099.4 112.2 L1101.1 111.9 L1102.7 111.6 L1104.4 111.3 L1106.0 111.0 L1107.6 110.7 L1109.3 110.4 L1110.9 110.1 L1112.6 109.8 L1114.2 109.5 L1115.8 109.2 L1117.5 108.9 L1119.1 108.7 L1120.8 108.4 L1122.4 108.1 L1124.1 107.8 L1125.7 107.6 L1127.3 107.3 L1129.0 107.1 L1130.6 106.8 L1132.3 106.6 L1133.9 106.3 L1135.5 106.1 L1137.2 105.8 L1138.8 105.6 L1140.5 105.4 L1142.1 105.1 L1143.8 104.9 L1145.4 104.7 L1147.0 104.5 L1148.7 104.2 L1150.3 104.0 L1152.0 103.8 L1153.6 103.6 L1155.2 103.3 L1156.9 103.1 L1158.5 102.9 L1160.2 102.7 L1161.8 102.5 L1163.4 102.2 L1165.1 102.0 L1166.7 101.8 L1168.4 101.6 L1170.0 101.4 L1171.7 101.2 L1173.3 101.0 L1174.9 100.8 L1176.6 100.6 L1178.2 100.4 L1179.9 100.2 L1181.5 100.0 L1183.1 99.8 L1184.8 99.6 L1186.4 99.4 L1188.1 99.2 L1189.7 99.0 L1191.3 98.8 L1193.0 98.6 L1194.6 98.4 L1196.3 98.2 L1197.9 98.0 L1199.6 97.9 L1201.2 97.7 L1202.8 97.5 L1204.5 97.3 L1206.1 97.2 L1207.8 97.0 L1209.4 96.8 L1211.0 96.7 L1212.7 96.5 L1214.3 96.3 L1216.0 96.2 L1217.6 96.0 L1219.2 95.9 L1220.9 95.7 L1222.5 95.6 L1224.2 95.4 L1225.8 95.3 L1227.5 95.2 L1229.1 95.0 L1230.7 94.9 L1232.4 94.8 L1234.0 94.6 L1235.7 94.5 L1237.3 94.4 L1238.9 94.3 L1240.6 94.2 L1242.2 94.0 L1243.9 93.9 L1245.5 93.8 L1247.1 93.7 L1248.8 93.6 L1250.4 93.5 L1252.1 93.4 L1253.7 93.3 L1255.4 93.3 L1257.0 93.2 L1258.6 93.1 L1260.3 93.0 L1261.9 93.0 L1263.6 92.9 L1265.2 92.8" stroke="#bd3434" stroke-width="2.9" stroke-dasharray="24 17"/>
<path d="M774.5 429.5 L776.1 425.7 L777.8 421.9 L779.4 418.2 L781.0 414.5 L782.7 410.7 L784.3 407.1 L786.0 403.4 L787.6 399.7 L789.2 396.1 L790.9 392.5 L792.5 388.9 L794.2 385.3 L795.8 381.7 L797.5 378.2 L799.1 374.6 L800.7 371.1 L802.4 367.6 L804.0 364.1 L805.7 360.6 L807.3 357.1 L808.9 353.7 L810.6 350.3 L812.2 346.9 L813.9 343.5 L815.5 340.1 L817.1 336.8 L818.8 333.6 L820.4 330.3 L822.1 327.2 L823.7 324.0 L825.4 320.8 L827.0 317.7 L828.6 314.5 L830.3 311.3 L831.9 308.1 L833.6 304.9 L835.2 301.7 L836.8 298.6 L838.5 295.4 L840.1 292.3 L841.8 289.2 L843.4 286.1 L845.0 283.0 L846.7 280.0 L848.3 277.0 L850.0 274.0 L851.6 271.1 L853.3 268.2 L854.9 265.3 L856.5 262.6 L858.2 259.8 L859.8 257.1 L861.5 254.5 L863.1 252.0 L864.7 249.5 L866.4 247.1 L868.0 244.7 L869.7 242.4 L871.3 240.3 L872.9 238.1 L874.6 236.0 L876.2 233.9 L877.9 231.8 L879.5 229.8 L881.2 227.8 L882.8 225.7 L884.4 223.8 L886.1 221.8 L887.7 219.9 L889.4 217.9 L891.0 216.0 L892.6 214.2 L894.3 212.3 L895.9 210.5 L897.6 208.6 L899.2 206.9 L900.9 205.1 L902.5 203.3 L904.1 201.6 L905.8 199.9 L907.4 198.2 L909.1 196.6 L910.7 194.9 L912.3 193.3 L914.0 191.7 L915.6 190.2 L917.3 188.6 L918.9 187.1 L920.5 185.6 L922.2 184.1 L923.8 182.6 L925.5 181.2 L927.1 179.8 L928.8 178.4 L930.4 177.0 L932.0 175.6 L933.7 174.3 L935.3 173.0 L937.0 171.7 L938.6 170.5 L940.2 169.2 L941.9 168.0 L943.5 166.8 L945.2 165.7 L946.8 164.5 L948.4 163.4 L950.1 162.2 L951.7 161.1 L953.4 160.0 L955.0 158.9 L956.7 157.8 L958.3 156.7 L959.9 155.6 L961.6 154.5 L963.2 153.4 L964.9 152.4 L966.5 151.4 L968.1 150.3 L969.8 149.3 L971.4 148.3 L973.1 147.3 L974.7 146.3 L976.3 145.4 L978.0 144.4 L979.6 143.5 L981.3 142.6 L982.9 141.6 L984.6 140.7 L986.2 139.9 L987.8 139.0 L989.5 138.1 L991.1 137.3 L992.8 136.5 L994.4 135.6 L996.0 134.9 L997.7 134.1 L999.3 133.3 L1001.0 132.6 L1002.6 131.8 L1004.2 131.1 L1005.9 130.4 L1007.5 129.8 L1009.2 129.1 L1010.8 128.5 L1012.5 127.8 L1014.1 127.2 L1015.7 126.7 L1017.4 126.1 L1019.0 125.5 L1020.7 125.0 L1022.3 124.5 L1023.9 124.0 L1025.6 123.4 L1027.2 122.9 L1028.9 122.4 L1030.5 121.9 L1032.1 121.4 L1033.8 120.9 L1035.4 120.4 L1037.1 119.9 L1038.7 119.4 L1040.4 119.0 L1042.0 118.5 L1043.6 118.0 L1045.3 117.5 L1046.9 117.1 L1048.6 116.6 L1050.2 116.2 L1051.8 115.7 L1053.5 115.3 L1055.1 114.8 L1056.8 114.4 L1058.4 114.0 L1060.0 113.6 L1061.7 113.1 L1063.3 112.7 L1065.0 112.3 L1066.6 111.9 L1068.3 111.5 L1069.9 111.1 L1071.5 110.7 L1073.2 110.3 L1074.8 109.9 L1076.5 109.6 L1078.1 109.2 L1079.7 108.8 L1081.4 108.5 L1083.0 108.1 L1084.7 107.7 L1086.3 107.4 L1087.9 107.0 L1089.6 106.7 L1091.2 106.4 L1092.9 106.0 L1094.5 105.7 L1096.2 105.4 L1097.8 105.1 L1099.4 104.7 L1101.1 104.4 L1102.7 104.1 L1104.4 103.8 L1106.0 103.5 L1107.6 103.2 L1109.3 103.0 L1110.9 102.7 L1112.6 102.4 L1114.2 102.1 L1115.8 101.9 L1117.5 101.6 L1119.1 101.4 L1120.8 101.1 L1122.4 100.9 L1124.1 100.6 L1125.7 100.4 L1127.3 100.1 L1129.0 99.9 L1130.6 99.7 L1132.3 99.5 L1133.9 99.3 L1135.5 99.1 L1137.2 98.9 L1138.8 98.7 L1140.5 98.5 L1142.1 98.3 L1143.8 98.1 L1145.4 97.9 L1147.0 97.7 L1148.7 97.5 L1150.3 97.4 L1152.0 97.2 L1153.6 97.0 L1155.2 96.8 L1156.9 96.6 L1158.5 96.4 L1160.2 96.3 L1161.8 96.1 L1163.4 95.9 L1165.1 95.7 L1166.7 95.5 L1168.4 95.4 L1170.0 95.2 L1171.7 95.0 L1173.3 94.8 L1174.9 94.7 L1176.6 94.5 L1178.2 94.3 L1179.9 94.2 L1181.5 94.0 L1183.1 93.8 L1184.8 93.7 L1186.4 93.5 L1188.1 93.4 L1189.7 93.2 L1191.3 93.0 L1193.0 92.9 L1194.6 92.7 L1196.3 92.6 L1197.9 92.4 L1199.6 92.3 L1201.2 92.1 L1202.8 92.0 L1204.5 91.9 L1206.1 91.7 L1207.8 91.6 L1209.4 91.5 L1211.0 91.3 L1212.7 91.2 L1214.3 91.1 L1216.0 91.0 L1217.6 90.8 L1219.2 90.7 L1220.9 90.6 L1222.5 90.5 L1224.2 90.4 L1225.8 90.3 L1227.5 90.2 L1229.1 90.1 L1230.7 90.0 L1232.4 89.9 L1234.0 89.8 L1235.7 89.8 L1237.3 89.7 L1238.9 89.6 L1240.6 89.5 L1242.2 89.5 L1243.9 89.4 L1245.5 89.3 L1247.1 89.3 L1248.8 89.2 L1250.4 89.2 L1252.1 89.1 L1253.7 89.1 L1255.4 89.1 L1257.0 89.0 L1258.6 89.0 L1260.3 89.0 L1261.9 89.0 L1263.6 89.0 L1265.2 89.0" stroke="#da9059" stroke-width="2.8" stroke-dasharray="19 9.2 3.6 9.2"/>
<path d="M773.0 429.5 L774.6 425.6 L776.3 421.5 L777.9 417.3 L779.6 413.0 L781.2 408.7 L782.9 404.3 L784.5 399.9 L786.2 395.5 L787.8 391.0 L789.5 386.6 L791.1 382.2 L792.8 377.8 L794.4 373.5 L796.0 369.2 L797.7 365.0 L799.3 360.8 L801.0 356.6 L802.6 352.3 L804.3 348.1 L805.9 343.9 L807.6 339.7 L809.2 335.5 L810.9 331.3 L812.5 327.3 L814.2 323.3 L815.8 319.3 L817.4 315.5 L819.1 311.8 L820.7 308.2 L822.4 304.8 L824.0 301.4 L825.7 298.0 L827.3 294.7 L829.0 291.4 L830.6 288.1 L832.3 284.9 L833.9 281.7 L835.6 278.5 L837.2 275.4 L838.8 272.3 L840.5 269.2 L842.1 266.2 L843.8 263.2 L845.4 260.3 L847.1 257.3 L848.7 254.5 L850.4 251.7 L852.0 248.9 L853.7 246.1 L855.3 243.5 L857.0 240.8 L858.6 238.2 L860.2 235.7 L861.9 233.2 L863.5 230.7 L865.2 228.3 L866.8 226.0 L868.5 223.7 L870.1 221.4 L871.8 219.3 L873.4 217.1 L875.1 215.0 L876.7 212.8 L878.4 210.7 L880.0 208.6 L881.6 206.5 L883.3 204.5 L884.9 202.4 L886.6 200.4 L888.2 198.4 L889.9 196.4 L891.5 194.4 L893.2 192.5 L894.8 190.6 L896.5 188.6 L898.1 186.8 L899.8 184.9 L901.4 183.0 L903.0 181.2 L904.7 179.4 L906.3 177.6 L908.0 175.9 L909.6 174.1 L911.3 172.4 L912.9 170.8 L914.6 169.1 L916.2 167.5 L917.9 165.9 L919.5 164.3 L921.2 162.7 L922.8 161.2 L924.4 159.7 L926.1 158.3 L927.7 156.8 L929.4 155.4 L931.0 154.0 L932.7 152.7 L934.3 151.4 L936.0 150.1 L937.6 148.8 L939.3 147.6 L940.9 146.4 L942.6 145.3 L944.2 144.1 L945.8 143.1 L947.5 142.0 L949.1 140.9 L950.8 139.9 L952.4 138.8 L954.1 137.8 L955.7 136.8 L957.4 135.8 L959.0 134.8 L960.7 133.8 L962.3 132.9 L964.0 131.9 L965.6 131.0 L967.2 130.1 L968.9 129.1 L970.5 128.2 L972.2 127.4 L973.8 126.5 L975.5 125.6 L977.1 124.8 L978.8 123.9 L980.4 123.1 L982.1 122.3 L983.7 121.5 L985.4 120.7 L987.0 120.0 L988.6 119.2 L990.3 118.5 L991.9 117.7 L993.6 117.0 L995.2 116.3 L996.9 115.6 L998.5 115.0 L1000.2 114.3 L1001.8 113.7 L1003.5 113.0 L1005.1 112.4 L1006.8 111.8 L1008.4 111.2 L1010.0 110.7 L1011.7 110.1 L1013.3 109.6 L1015.0 109.0 L1016.6 108.5 L1018.3 108.0 L1019.9 107.5 L1021.6 107.0 L1023.2 106.6 L1024.9 106.1 L1026.5 105.6 L1028.2 105.1 L1029.8 104.7 L1031.4 104.2 L1033.1 103.7 L1034.7 103.3 L1036.4 102.8 L1038.0 102.4 L1039.7 101.9 L1041.3 101.5 L1043.0 101.0 L1044.6 100.6 L1046.3 100.1 L1047.9 99.7 L1049.6 99.3 L1051.2 98.8 L1052.8 98.4 L1054.5 98.0 L1056.1 97.6 L1057.8 97.2 L1059.4 96.8 L1061.1 96.4 L1062.7 95.9 L1064.4 95.6 L1066.0 95.2 L1067.7 94.8 L1069.3 94.4 L1071.0 94.0 L1072.6 93.6 L1074.2 93.3 L1075.9 92.9 L1077.5 92.5 L1079.2 92.2 L1080.8 91.8 L1082.5 91.5 L1084.1 91.1 L1085.8 90.8 L1087.4 90.5 L1089.1 90.2 L1090.7 89.8 L1092.4 89.5 L1094.0 89.2 L1095.6 88.9 L1097.3 88.6 L1098.9 88.3 L1100.6 88.0 L1102.2 87.8 L1103.9 87.5 L1105.5 87.2 L1107.2 87.0 L1108.8 86.7 L1110.5 86.5 L1112.1 86.2 L1113.8 86.0 L1115.4 85.7 L1117.0 85.5 L1118.7 85.3 L1120.3 85.1 L1122.0 84.9 L1123.6 84.7 L1125.3 84.5 L1126.9 84.3 L1128.6 84.2 L1130.2 84.0 L1131.9 83.8 L1133.5 83.7 L1135.2 83.5 L1136.8 83.4 L1138.4 83.3 L1140.1 83.1 L1141.7 83.0 L1143.4 82.9 L1145.0 82.8 L1146.7 82.7 L1148.3 82.6 L1150.0 82.5 L1151.6 82.4 L1153.3 82.3 L1154.9 82.2 L1156.6 82.1 L1158.2 82.0 L1159.8 81.8 L1161.5 81.7 L1163.1 81.6 L1164.8 81.5 L1166.4 81.4 L1168.1 81.4 L1169.7 81.3 L1171.4 81.2 L1173.0 81.1 L1174.7 81.0 L1176.3 80.9 L1178.0 80.8 L1179.6 80.7 L1181.2 80.6 L1182.9 80.5 L1184.5 80.4 L1186.2 80.3 L1187.8 80.3 L1189.5 80.2 L1191.1 80.1 L1192.8 80.0 L1194.4 79.9 L1196.1 79.9 L1197.7 79.8 L1199.4 79.7 L1201.0 79.6 L1202.6 79.6 L1204.3 79.5 L1205.9 79.4 L1207.6 79.3 L1209.2 79.3 L1210.9 79.2 L1212.5 79.1 L1214.2 79.1 L1215.8 79.0 L1217.5 79.0 L1219.1 78.9 L1220.8 78.8 L1222.4 78.8 L1224.0 78.7 L1225.7 78.7 L1227.3 78.6 L1229.0 78.6 L1230.6 78.6 L1232.3 78.5 L1233.9 78.5 L1235.6 78.4 L1237.2 78.4 L1238.9 78.4 L1240.5 78.3 L1242.2 78.3 L1243.8 78.3 L1245.4 78.2 L1247.1 78.2 L1248.7 78.2 L1250.4 78.2 L1252.0 78.1 L1253.7 78.1 L1255.3 78.1 L1257.0 78.1 L1258.6 78.1 L1260.3 78.1 L1261.9 78.1 L1263.6 78.1 L1265.2 78.1" stroke="#6690d6" stroke-width="2.2"/>
<path d="M773.0 429.5 L774.6 424.8 L776.3 420.3 L777.9 415.8 L779.6 411.4 L781.2 407.0 L782.9 402.6 L784.5 398.3 L786.2 394.0 L787.8 389.7 L789.5 385.5 L791.1 381.3 L792.8 377.1 L794.4 372.9 L796.0 368.8 L797.7 364.6 L799.3 360.5 L801.0 356.3 L802.6 352.1 L804.3 347.9 L805.9 343.7 L807.6 339.6 L809.2 335.5 L810.9 331.4 L812.5 327.4 L814.2 323.4 L815.8 319.6 L817.4 315.9 L819.1 312.3 L820.7 308.8 L822.4 305.5 L824.0 302.2 L825.7 299.0 L827.3 295.9 L829.0 292.8 L830.6 289.7 L832.3 286.7 L833.9 283.7 L835.6 280.7 L837.2 277.8 L838.8 274.9 L840.5 272.1 L842.1 269.3 L843.8 266.5 L845.4 263.8 L847.1 261.1 L848.7 258.5 L850.4 255.9 L852.0 253.3 L853.7 250.8 L855.3 248.3 L857.0 245.8 L858.6 243.4 L860.2 241.0 L861.9 238.7 L863.5 236.3 L865.2 234.0 L866.8 231.8 L868.5 229.6 L870.1 227.4 L871.8 225.2 L873.4 223.1 L875.1 221.0 L876.7 218.9 L878.4 216.7 L880.0 214.6 L881.6 212.6 L883.3 210.5 L884.9 208.4 L886.6 206.3 L888.2 204.3 L889.9 202.3 L891.5 200.2 L893.2 198.3 L894.8 196.3 L896.5 194.3 L898.1 192.4 L899.8 190.4 L901.4 188.5 L903.0 186.6 L904.7 184.8 L906.3 182.9 L908.0 181.1 L909.6 179.3 L911.3 177.5 L912.9 175.8 L914.6 174.0 L916.2 172.3 L917.9 170.7 L919.5 169.0 L921.2 167.4 L922.8 165.8 L924.4 164.3 L926.1 162.8 L927.7 161.3 L929.4 159.8 L931.0 158.4 L932.7 157.0 L934.3 155.7 L936.0 154.4 L937.6 153.1 L939.3 151.8 L940.9 150.6 L942.6 149.5 L944.2 148.4 L945.8 147.3 L947.5 146.2 L949.1 145.2 L950.8 144.1 L952.4 143.1 L954.1 142.1 L955.7 141.1 L957.4 140.1 L959.0 139.1 L960.7 138.1 L962.3 137.2 L964.0 136.2 L965.6 135.3 L967.2 134.4 L968.9 133.5 L970.5 132.6 L972.2 131.7 L973.8 130.8 L975.5 130.0 L977.1 129.1 L978.8 128.3 L980.4 127.5 L982.1 126.7 L983.7 125.9 L985.4 125.2 L987.0 124.4 L988.6 123.7 L990.3 123.0 L991.9 122.2 L993.6 121.6 L995.2 120.9 L996.9 120.2 L998.5 119.6 L1000.2 118.9 L1001.8 118.3 L1003.5 117.7 L1005.1 117.1 L1006.8 116.6 L1008.4 116.0 L1010.0 115.5 L1011.7 115.0 L1013.3 114.5 L1015.0 114.0 L1016.6 113.5 L1018.3 113.1 L1019.9 112.6 L1021.6 112.2 L1023.2 111.8 L1024.9 111.4 L1026.5 111.0 L1028.2 110.6 L1029.8 110.2 L1031.4 109.8 L1033.1 109.4 L1034.7 109.0 L1036.4 108.6 L1038.0 108.2 L1039.7 107.8 L1041.3 107.5 L1043.0 107.1 L1044.6 106.7 L1046.3 106.4 L1047.9 106.0 L1049.6 105.7 L1051.2 105.3 L1052.8 105.0 L1054.5 104.7 L1056.1 104.3 L1057.8 104.0 L1059.4 103.7 L1061.1 103.4 L1062.7 103.0 L1064.4 102.7 L1066.0 102.4 L1067.7 102.1 L1069.3 101.8 L1071.0 101.5 L1072.6 101.2 L1074.2 100.9 L1075.9 100.7 L1077.5 100.4 L1079.2 100.1 L1080.8 99.8 L1082.5 99.5 L1084.1 99.3 L1085.8 99.0 L1087.4 98.7 L1089.1 98.5 L1090.7 98.2 L1092.4 98.0 L1094.0 97.7 L1095.6 97.5 L1097.3 97.2 L1098.9 97.0 L1100.6 96.8 L1102.2 96.5 L1103.9 96.3 L1105.5 96.1 L1107.2 95.9 L1108.8 95.6 L1110.5 95.4 L1112.1 95.2 L1113.8 95.0 L1115.4 94.8 L1117.0 94.6 L1118.7 94.4 L1120.3 94.2 L1122.0 94.0 L1123.6 93.8 L1125.3 93.6 L1126.9 93.4 L1128.6 93.2 L1130.2 93.0 L1131.9 92.9 L1133.5 92.7 L1135.2 92.5 L1136.8 92.3 L1138.4 92.2 L1140.1 92.0 L1141.7 91.8 L1143.4 91.7 L1145.0 91.5 L1146.7 91.3 L1148.3 91.2 L1150.0 91.0 L1151.6 90.8 L1153.3 90.7 L1154.9 90.5 L1156.6 90.3 L1158.2 90.2 L1159.8 90.0 L1161.5 89.9 L1163.1 89.7 L1164.8 89.5 L1166.4 89.4 L1168.1 89.2 L1169.7 89.1 L1171.4 88.9 L1173.0 88.8 L1174.7 88.6 L1176.3 88.5 L1178.0 88.3 L1179.6 88.2 L1181.2 88.0 L1182.9 87.9 L1184.5 87.7 L1186.2 87.6 L1187.8 87.5 L1189.5 87.3 L1191.1 87.2 L1192.8 87.0 L1194.4 86.9 L1196.1 86.8 L1197.7 86.6 L1199.4 86.5 L1201.0 86.4 L1202.6 86.2 L1204.3 86.1 L1205.9 86.0 L1207.6 85.9 L1209.2 85.7 L1210.9 85.6 L1212.5 85.5 L1214.2 85.4 L1215.8 85.3 L1217.5 85.2 L1219.1 85.1 L1220.8 85.0 L1222.4 84.9 L1224.0 84.7 L1225.7 84.6 L1227.3 84.6 L1229.0 84.5 L1230.6 84.4 L1232.3 84.3 L1233.9 84.2 L1235.6 84.1 L1237.2 84.0 L1238.9 83.9 L1240.5 83.8 L1242.2 83.8 L1243.8 83.7 L1245.4 83.6 L1247.1 83.6 L1248.7 83.5 L1250.4 83.4 L1252.0 83.4 L1253.7 83.3 L1255.3 83.3 L1257.0 83.2 L1258.6 83.2 L1260.3 83.1 L1261.9 83.1 L1263.6 83.0 L1265.2 83.0" stroke="#2420c0" stroke-width="2.8" stroke-dasharray="24 17"/>
<path d="M773.0 429.5 L774.6 424.8 L776.3 420.3 L777.9 415.8 L779.6 411.3 L781.2 406.8 L782.9 402.4 L784.5 398.1 L786.2 393.7 L787.8 389.4 L789.5 385.1 L791.1 380.8 L792.8 376.6 L794.4 372.3 L796.0 368.1 L797.7 363.9 L799.3 359.7 L801.0 355.5 L802.6 351.3 L804.3 347.0 L805.9 342.8 L807.6 338.6 L809.2 334.4 L810.9 330.3 L812.5 326.2 L814.2 322.2 L815.8 318.2 L817.4 314.3 L819.1 310.6 L820.7 306.9 L822.4 303.3 L824.0 299.8 L825.7 296.3 L827.3 292.8 L829.0 289.4 L830.6 285.9 L832.3 282.5 L833.9 279.1 L835.6 275.7 L837.2 272.4 L838.8 269.1 L840.5 265.8 L842.1 262.5 L843.8 259.3 L845.4 256.2 L847.1 253.0 L848.7 249.9 L850.4 246.9 L852.0 243.9 L853.7 241.0 L855.3 238.1 L857.0 235.3 L858.6 232.6 L860.2 229.9 L861.9 227.2 L863.5 224.7 L865.2 222.2 L866.8 219.7 L868.5 217.4 L870.1 215.1 L871.8 212.9 L873.4 210.8 L875.1 208.7 L876.7 206.5 L878.4 204.5 L880.0 202.4 L881.6 200.3 L883.3 198.3 L884.9 196.3 L886.6 194.4 L888.2 192.4 L889.9 190.5 L891.5 188.6 L893.2 186.7 L894.8 184.8 L896.5 183.0 L898.1 181.2 L899.8 179.4 L901.4 177.6 L903.0 175.9 L904.7 174.1 L906.3 172.4 L908.0 170.8 L909.6 169.1 L911.3 167.5 L912.9 165.9 L914.6 164.3 L916.2 162.8 L917.9 161.3 L919.5 159.8 L921.2 158.3 L922.8 156.9 L924.4 155.5 L926.1 154.1 L927.7 152.7 L929.4 151.4 L931.0 150.1 L932.7 148.8 L934.3 147.5 L936.0 146.3 L937.6 145.1 L939.3 144.0 L940.9 142.8 L942.6 141.7 L944.2 140.6 L945.8 139.6 L947.5 138.5 L949.1 137.5 L950.8 136.4 L952.4 135.4 L954.1 134.4 L955.7 133.4 L957.4 132.4 L959.0 131.5 L960.7 130.5 L962.3 129.5 L964.0 128.6 L965.6 127.6 L967.2 126.7 L968.9 125.8 L970.5 124.9 L972.2 124.0 L973.8 123.2 L975.5 122.3 L977.1 121.4 L978.8 120.6 L980.4 119.8 L982.1 119.0 L983.7 118.2 L985.4 117.4 L987.0 116.7 L988.6 115.9 L990.3 115.2 L991.9 114.5 L993.6 113.8 L995.2 113.1 L996.9 112.4 L998.5 111.8 L1000.2 111.1 L1001.8 110.5 L1003.5 109.9 L1005.1 109.3 L1006.8 108.8 L1008.4 108.2 L1010.0 107.7 L1011.7 107.2 L1013.3 106.7 L1015.0 106.2 L1016.6 105.8 L1018.3 105.3 L1019.9 104.9 L1021.6 104.5 L1023.2 104.1 L1024.9 103.7 L1026.5 103.3 L1028.2 102.9 L1029.8 102.6 L1031.4 102.2 L1033.1 101.8 L1034.7 101.4 L1036.4 101.1 L1038.0 100.7 L1039.7 100.3 L1041.3 100.0 L1043.0 99.6 L1044.6 99.3 L1046.3 98.9 L1047.9 98.6 L1049.6 98.2 L1051.2 97.9 L1052.8 97.6 L1054.5 97.3 L1056.1 96.9 L1057.8 96.6 L1059.4 96.3 L1061.1 96.0 L1062.7 95.7 L1064.4 95.4 L1066.0 95.1 L1067.7 94.8 L1069.3 94.5 L1071.0 94.2 L1072.6 93.9 L1074.2 93.6 L1075.9 93.4 L1077.5 93.1 L1079.2 92.8 L1080.8 92.6 L1082.5 92.3 L1084.1 92.1 L1085.8 91.8 L1087.4 91.6 L1089.1 91.3 L1090.7 91.1 L1092.4 90.8 L1094.0 90.6 L1095.6 90.4 L1097.3 90.2 L1098.9 89.9 L1100.6 89.7 L1102.2 89.5 L1103.9 89.3 L1105.5 89.1 L1107.2 88.9 L1108.8 88.7 L1110.5 88.5 L1112.1 88.3 L1113.8 88.1 L1115.4 87.9 L1117.0 87.7 L1118.7 87.6 L1120.3 87.4 L1122.0 87.2 L1123.6 87.1 L1125.3 86.9 L1126.9 86.7 L1128.6 86.6 L1130.2 86.4 L1131.9 86.3 L1133.5 86.1 L1135.2 86.0 L1136.8 85.9 L1138.4 85.7 L1140.1 85.6 L1141.7 85.5 L1143.4 85.4 L1145.0 85.2 L1146.7 85.1 L1148.3 85.0 L1150.0 84.9 L1151.6 84.8 L1153.3 84.6 L1154.9 84.5 L1156.6 84.4 L1158.2 84.3 L1159.8 84.1 L1161.5 84.0 L1163.1 83.9 L1164.8 83.8 L1166.4 83.7 L1168.1 83.6 L1169.7 83.4 L1171.4 83.3 L1173.0 83.2 L1174.7 83.1 L1176.3 83.0 L1178.0 82.9 L1179.6 82.8 L1181.2 82.7 L1182.9 82.6 L1184.5 82.5 L1186.2 82.4 L1187.8 82.2 L1189.5 82.1 L1191.1 82.0 L1192.8 81.9 L1194.4 81.8 L1196.1 81.7 L1197.7 81.7 L1199.4 81.6 L1201.0 81.5 L1202.6 81.4 L1204.3 81.3 L1205.9 81.2 L1207.6 81.1 L1209.2 81.0 L1210.9 80.9 L1212.5 80.9 L1214.2 80.8 L1215.8 80.7 L1217.5 80.6 L1219.1 80.6 L1220.8 80.5 L1222.4 80.4 L1224.0 80.4 L1225.7 80.3 L1227.3 80.2 L1229.0 80.2 L1230.6 80.1 L1232.3 80.1 L1233.9 80.0 L1235.6 79.9 L1237.2 79.9 L1238.9 79.9 L1240.5 79.8 L1242.2 79.8 L1243.8 79.7 L1245.4 79.7 L1247.1 79.7 L1248.7 79.6 L1250.4 79.6 L1252.0 79.6 L1253.7 79.6 L1255.3 79.5 L1257.0 79.5 L1258.6 79.5 L1260.3 79.5 L1261.9 79.5 L1263.6 79.5 L1265.2 79.5" stroke="#7a3bd3" stroke-width="2.9" stroke-dasharray="19 9.2 3.6 9.2"/>
</g>
<g stroke="#1a1a1a" stroke-width="2.6" fill="none">
<rect x="773.0" y="60.5" width="492.20" height="369.00"/>
<path d="M803.76 429.50V426.00M803.76 60.50V64.00M834.52 429.50V426.00M834.52 60.50V64.00M865.29 429.50V426.00M865.29 60.50V64.00M896.05 429.50V423.30M896.05 60.50V66.70M926.81 429.50V426.00M926.81 60.50V64.00M957.58 429.50V426.00M957.58 60.50V64.00M988.34 429.50V426.00M988.34 60.50V64.00M1019.10 429.50V423.30M1019.10 60.50V66.70M1049.86 429.50V426.00M1049.86 60.50V64.00M1080.62 429.50V426.00M1080.62 60.50V64.00M1111.39 429.50V426.00M1111.39 60.50V64.00M1142.15 429.50V423.30M1142.15 60.50V66.70M1172.91 429.50V426.00M1172.91 60.50V64.00M1203.68 429.50V426.00M1203.68 60.50V64.00M1234.44 429.50V426.00M1234.44 60.50V64.00M773.00 385.57H776.50M1265.20 385.57H1261.70M773.00 341.64H779.20M1265.20 341.64H1259.00M773.00 297.71H776.50M1265.20 297.71H1261.70M773.00 253.79H779.20M1265.20 253.79H1259.00M773.00 209.86H776.50M1265.20 209.86H1261.70M773.00 165.93H779.20M1265.20 165.93H1259.00M773.00 122.00H776.50M1265.20 122.00H1261.70M773.00 78.07H779.20M1265.20 78.07H1259.00"/>
</g>
<g font-family="'Liberation Sans', sans-serif" fill="#141414" stroke="#141414" stroke-width="0.45">
<text transform="translate(763.00,438.30) scale(1.06,1)" font-size="24.2" text-anchor="end" >0</text>
<text transform="translate(763.00,350.44) scale(1.06,1)" font-size="24.2" text-anchor="end" >0.25</text>
<text transform="translate(763.00,262.59) scale(1.06,1)" font-size="24.2" text-anchor="end" >0.5</text>
<text transform="translate(763.00,174.73) scale(1.06,1)" font-size="24.2" text-anchor="end" >0.75</text>
<text transform="translate(748.73,86.87) scale(1.06,1)" font-size="24.2" text-anchor="start" >&#8199;</text><path transform="translate(748.73,86.87) scale(0.02565,-0.02420)" d="M359 0L359 703L297 703C282 640 238 590 101 582L101 514L269 514L269 0Z"/>
<text transform="translate(773.00,459.50) scale(1.06,1)" font-size="24.2" text-anchor="middle" >0</text>
<text transform="translate(896.05,459.50) scale(1.06,1)" font-size="24.2" text-anchor="middle" >0.025</text>
<text transform="translate(1019.10,459.50) scale(1.06,1)" font-size="24.2" text-anchor="middle" >0.05</text>
<text transform="translate(1142.15,459.50) scale(1.06,1)" font-size="24.2" text-anchor="middle" >0.075</text>
<text transform="translate(1247.37,459.50) scale(1.06,1)" font-size="24.2" text-anchor="start" >0.&#8199;</text><path transform="translate(1268.76,459.50) scale(0.02565,-0.02420)" d="M359 0L359 703L297 703C282 640 238 590 101 582L101 514L269 514L269 0Z"/>
<text transform="translate(1018.90,493.70) scale(1.046,1)" font-size="34.2" text-anchor="middle" >Potential vs. RHE, V</text>
<text transform="translate(681.00,247.00) rotate(-90)" font-size="34.2" text-anchor="middle"><tspan font-style="italic">i</tspan><tspan dx="2.6"> /</tspan><tspan font-style="italic">i</tspan><tspan font-size="27" dx="2.5" dy="17">lim</tspan></text>
</g>
<g clip-path="url(#clipc)" fill="none" stroke-linejoin="round">
<path d="M121.2 955.1 L122.4 948.3 L123.7 941.6 L124.9 935.0 L126.2 928.6 L127.4 922.3 L128.6 916.1 L129.9 910.0 L131.1 904.1 L132.4 898.2 L133.6 892.5 L134.8 886.9 L136.1 881.4 L137.3 876.0 L138.6 870.7 L139.8 865.5 L141.0 860.4 L142.3 855.4 L143.5 850.5 L144.8 845.7 L146.0 841.0 L147.3 836.4 L148.5 831.8 L149.7 827.4 L151.0 823.0 L152.2 818.8 L153.5 814.6 L154.7 810.5 L155.9 806.4 L157.2 802.5 L158.4 798.6 L159.7 794.8 L160.9 791.1 L162.1 787.4 L163.4 783.8 L164.6 780.3 L165.9 776.9 L167.1 773.5 L168.3 770.2 L169.6 766.9 L170.8 763.7 L172.1 760.6 L173.3 757.5 L174.5 754.5 L175.8 751.6 L177.0 748.7 L178.3 745.9 L179.5 743.1 L180.7 740.3 L182.0 737.7 L183.2 735.0 L184.5 732.5 L185.7 729.9 L187.0 727.5 L188.2 725.0 L189.4 722.7 L190.7 720.3 L191.9 718.0 L193.2 715.8 L194.4 713.6 L195.6 711.4 L196.9 709.3 L198.1 707.2 L199.4 705.2 L200.6 703.2 L201.8 701.3 L203.1 699.3 L204.3 697.5 L205.6 695.6 L206.8 693.8 L208.0 692.0 L209.3 690.3 L210.5 688.6 L211.8 686.9 L213.0 685.2 L214.2 683.6 L215.5 682.1 L216.7 680.5 L218.0 679.0 L219.2 677.5 L220.4 676.0 L221.7 674.6 L222.9 673.2 L224.2 671.8 L225.4 670.5 L226.7 669.1 L227.9 667.8 L229.1 666.6 L230.4 665.3 L231.6 664.1 L232.9 662.9 L234.1 661.7 L235.3 660.6 L236.6 659.4 L237.8 658.3 L239.1 657.2 L240.3 656.1 L241.5 655.1 L242.8 654.1 L244.0 653.1 L245.3 652.1 L246.5 651.1 L247.7 650.2 L249.0 649.2 L250.2 648.3 L251.5 647.4 L252.7 646.5 L253.9 645.7 L255.2 644.8 L256.4 644.0 L257.7 643.2 L258.9 642.4 L260.1 641.6 L261.4 640.8 L262.6 640.1 L263.9 639.3 L265.1 638.6 L266.4 637.9 L267.6 637.2 L268.8 636.5 L270.1 635.9 L271.3 635.2 L272.6 634.6 L273.8 633.9 L275.0 633.3 L276.3 632.7 L277.5 632.1 L278.8 631.5 L280.0 630.9 L281.2 630.4 L282.5 629.8 L283.7 629.3 L285.0 628.8 L286.2 628.2 L287.4 627.7 L288.7 627.2 L289.9 626.7 L291.2 626.3 L292.4 625.8 L293.6 625.3 L294.9 624.9 L296.1 624.4 L297.4 624.0 L298.6 623.6 L299.8 623.1 L301.1 622.7 L302.3 622.3 L303.6 621.9 L304.8 621.5 L306.0 621.2 L307.3 620.8 L308.5 620.4 L309.8 620.1 L311.0 619.7 L312.3 619.4 L313.5 619.0 L314.7 618.7 L316.0 618.4 L317.2 618.1 L318.5 617.7 L319.7 617.4 L320.9 617.1 L322.2 616.8 L323.4 616.6 L324.7 616.3 L325.9 616.0 L327.1 615.7 L328.4 615.4 L329.6 615.2 L330.9 614.9 L332.1 614.7 L333.3 614.4 L334.6 614.2 L335.8 613.9 L337.1 613.7 L338.3 613.5 L339.5 613.3 L340.8 613.0 L342.0 612.8 L343.3 612.6 L344.5 612.4 L345.7 612.2 L347.0 612.0 L348.2 611.8 L349.5 611.6 L350.7 611.4 L352.0 611.2 L353.2 611.1 L354.4 610.9 L355.7 610.7 L356.9 610.5 L358.2 610.4 L359.4 610.2 L360.6 610.0 L361.9 609.9 L363.1 609.7 L364.4 609.6 L365.6 609.4 L366.8 609.3 L368.1 609.1 L369.3 609.0 L370.6 608.9 L371.8 608.7 L373.0 608.6 L374.3 608.5 L375.5 608.3 L376.8 608.2 L378.0 608.1 L379.2 608.0 L380.5 607.9 L381.7 607.7 L383.0 607.6 L384.2 607.5 L385.4 607.4 L386.7 607.3 L387.9 607.2 L389.2 607.1 L390.4 607.0 L391.7 606.9 L392.9 606.8 L394.1 606.7 L395.4 606.6 L396.6 606.5 L397.9 606.4 L399.1 606.3 L400.3 606.2 L401.6 606.2 L402.8 606.1 L404.1 606.0 L405.3 605.9 L406.5 605.8 L407.8 605.8 L409.0 605.7 L410.3 605.6 L411.5 605.5 L412.7 605.5 L414.0 605.4 L415.2 605.3 L416.5 605.3 L417.7 605.2 L418.9 605.1 L420.2 605.1 L421.4 605.0 L422.7 604.9 L423.9 604.9 L425.1 604.8 L426.4 604.8 L427.6 604.7 L428.9 604.7 L430.1 604.6 L431.4 604.6 L432.6 604.5 L433.8 604.5 L435.1 604.4 L436.3 604.4 L437.6 604.3 L438.8 604.3 L440.0 604.2 L441.3 604.2 L442.5 604.1 L443.8 604.1 L445.0 604.0 L446.2 604.0 L447.5 604.0 L448.7 603.9 L450.0 603.9 L451.2 603.8 L452.4 603.8 L453.7 603.8 L454.9 603.7 L456.2 603.7 L457.4 603.6 L458.6 603.6 L459.9 603.6 L461.1 603.5 L462.4 603.5 L463.6 603.5 L464.8 603.5 L466.1 603.4 L467.3 603.4 L468.6 603.4 L469.8 603.3 L471.0 603.3 L472.3 603.3 L473.5 603.2 L474.8 603.2 L476.0 603.2 L477.3 603.2 L478.5 603.1 L479.7 603.1 L481.0 603.1 L482.2 603.1 L483.5 603.0 L484.7 603.0 L485.9 603.0 L487.2 603.0 L488.4 603.0 L489.7 602.9 L490.9 602.9 L492.1 602.9 L493.4 602.9 L494.6 602.9 L495.9 602.8 L497.1 602.8 L498.3 602.8 L499.6 602.8 L500.8 602.8 L502.1 602.7 L503.3 602.7 L504.5 602.7 L505.8 602.7 L507.0 602.7 L508.3 602.7 L509.5 602.6 L510.7 602.6 L512.0 602.6 L513.2 602.6 L514.5 602.6 L515.7 602.6 L517.0 602.6 L518.2 602.5 L519.4 602.5 L520.7 602.5 L521.9 602.5 L523.2 602.5 L524.4 602.5 L525.6 602.5 L526.9 602.5 L528.1 602.4 L529.4 602.4 L530.6 602.4 L531.8 602.4 L533.1 602.4 L534.3 602.4 L535.6 602.4 L536.8 602.4 L538.0 602.4 L539.3 602.4 L540.5 602.3 L541.8 602.3 L543.0 602.3 L544.2 602.3 L545.5 602.3 L546.7 602.3 L548.0 602.3 L549.2 602.3 L550.4 602.3 L551.7 602.3 L552.9 602.3 L554.2 602.3 L555.4 602.2 L556.7 602.2 L557.9 602.2 L559.1 602.2 L560.4 602.2 L561.6 602.2 L562.9 602.2 L564.1 602.2 L565.3 602.2 L566.6 602.2 L567.8 602.2 L569.1 602.2 L570.3 602.2 L571.5 602.2 L572.8 602.2 L574.0 602.1 L575.3 602.1 L576.5 602.1 L577.7 602.1 L579.0 602.1 L580.2 602.1 L581.5 602.1 L582.7 602.1 L583.9 602.1 L585.2 602.1 L586.4 602.1 L587.7 602.1 L588.9 602.1 L590.1 602.1 L591.4 602.1 L592.6 602.1 L593.9 602.1 L595.1 602.1 L596.4 602.1 L597.6 602.1 L598.8 602.1 L600.1 602.1 L601.3 602.0 L602.6 602.0 L603.8 602.0 L605.0 602.0 L606.3 602.0 L607.5 602.0 L608.8 602.0 L610.0 602.0 L611.2 602.0 L612.5 602.0 L613.7 602.0 L615.0 602.0 L616.2 602.0" stroke="#1c1c1c" stroke-width="2.8" stroke-dasharray="24 17"/>
<path d="M121.20 778.48 H245.94" stroke="#222" stroke-width="3" stroke-dasharray="3 7.25"/>
<path d="M123.2 955.1 L124.8 951.0 L126.5 947.0 L128.1 943.0 L129.8 939.1 L131.4 935.2 L133.1 931.3 L134.7 927.4 L136.4 923.6 L138.0 919.8 L139.7 916.0 L141.3 912.3 L143.0 908.6 L144.6 904.9 L146.3 901.3 L147.9 897.6 L149.6 894.0 L151.2 890.5 L152.9 886.9 L154.5 883.4 L156.2 879.9 L157.8 876.4 L159.5 873.0 L161.1 869.6 L162.8 866.2 L164.4 862.9 L166.1 859.7 L167.7 856.5 L169.3 853.4 L171.0 850.4 L172.6 847.4 L174.3 844.4 L175.9 841.4 L177.6 838.5 L179.2 835.5 L180.9 832.6 L182.5 829.7 L184.2 826.8 L185.8 824.0 L187.5 821.2 L189.1 818.3 L190.8 815.6 L192.4 812.8 L194.1 810.1 L195.7 807.4 L197.4 804.7 L199.0 802.1 L200.7 799.5 L202.3 797.0 L204.0 794.4 L205.6 791.9 L207.3 789.5 L208.9 787.1 L210.6 784.7 L212.2 782.4 L213.9 780.1 L215.5 777.9 L217.2 775.7 L218.8 773.5 L220.5 771.4 L222.1 769.4 L223.8 767.3 L225.4 765.3 L227.1 763.2 L228.7 761.2 L230.4 759.2 L232.0 757.3 L233.7 755.3 L235.3 753.4 L237.0 751.4 L238.6 749.5 L240.3 747.6 L241.9 745.8 L243.5 743.9 L245.2 742.1 L246.8 740.2 L248.5 738.4 L250.1 736.6 L251.8 734.9 L253.4 733.1 L255.1 731.4 L256.7 729.7 L258.4 728.0 L260.0 726.3 L261.7 724.7 L263.3 723.0 L265.0 721.4 L266.6 719.8 L268.3 718.3 L269.9 716.7 L271.6 715.2 L273.2 713.7 L274.9 712.2 L276.5 710.8 L278.2 709.3 L279.8 707.9 L281.5 706.5 L283.1 705.1 L284.8 703.8 L286.4 702.5 L288.1 701.2 L289.7 699.9 L291.4 698.6 L293.0 697.4 L294.7 696.2 L296.3 695.0 L298.0 693.8 L299.6 692.7 L301.3 691.5 L302.9 690.4 L304.6 689.2 L306.2 688.1 L307.9 687.0 L309.5 685.9 L311.2 684.8 L312.8 683.7 L314.5 682.6 L316.1 681.6 L317.7 680.5 L319.4 679.5 L321.0 678.5 L322.7 677.5 L324.3 676.5 L326.0 675.5 L327.6 674.5 L329.3 673.5 L330.9 672.6 L332.6 671.7 L334.2 670.7 L335.9 669.8 L337.5 668.9 L339.2 668.0 L340.8 667.2 L342.5 666.3 L344.1 665.5 L345.8 664.6 L347.4 663.8 L349.1 663.0 L350.7 662.2 L352.4 661.4 L354.0 660.7 L355.7 659.9 L357.3 659.2 L359.0 658.5 L360.6 657.8 L362.3 657.1 L363.9 656.4 L365.6 655.7 L367.2 655.1 L368.9 654.4 L370.5 653.8 L372.2 653.2 L373.8 652.6 L375.5 651.9 L377.1 651.3 L378.8 650.7 L380.4 650.1 L382.1 649.5 L383.7 648.9 L385.4 648.3 L387.0 647.7 L388.7 647.2 L390.3 646.6 L392.0 646.0 L393.6 645.4 L395.2 644.9 L396.9 644.3 L398.5 643.7 L400.2 643.2 L401.8 642.6 L403.5 642.1 L405.1 641.5 L406.8 641.0 L408.4 640.5 L410.1 639.9 L411.7 639.4 L413.4 638.9 L415.0 638.4 L416.7 637.9 L418.3 637.4 L420.0 636.9 L421.6 636.4 L423.3 635.9 L424.9 635.4 L426.6 634.9 L428.2 634.4 L429.9 634.0 L431.5 633.5 L433.2 633.0 L434.8 632.6 L436.5 632.1 L438.1 631.7 L439.8 631.3 L441.4 630.8 L443.1 630.4 L444.7 630.0 L446.4 629.6 L448.0 629.2 L449.7 628.8 L451.3 628.4 L453.0 628.0 L454.6 627.6 L456.3 627.2 L457.9 626.8 L459.6 626.4 L461.2 626.1 L462.9 625.7 L464.5 625.4 L466.2 625.0 L467.8 624.7 L469.4 624.4 L471.1 624.0 L472.7 623.7 L474.4 623.4 L476.0 623.1 L477.7 622.8 L479.3 622.5 L481.0 622.2 L482.6 621.9 L484.3 621.6 L485.9 621.4 L487.6 621.1 L489.2 620.9 L490.9 620.6 L492.5 620.4 L494.2 620.1 L495.8 619.9 L497.5 619.6 L499.1 619.4 L500.8 619.2 L502.4 618.9 L504.1 618.7 L505.7 618.5 L507.4 618.2 L509.0 618.0 L510.7 617.8 L512.3 617.5 L514.0 617.3 L515.6 617.1 L517.3 616.8 L518.9 616.6 L520.6 616.4 L522.2 616.2 L523.9 615.9 L525.5 615.7 L527.2 615.5 L528.8 615.3 L530.5 615.1 L532.1 614.9 L533.8 614.6 L535.4 614.4 L537.1 614.2 L538.7 614.0 L540.4 613.8 L542.0 613.6 L543.6 613.4 L545.3 613.2 L546.9 613.0 L548.6 612.8 L550.2 612.7 L551.9 612.5 L553.5 612.3 L555.2 612.1 L556.8 611.9 L558.5 611.8 L560.1 611.6 L561.8 611.4 L563.4 611.3 L565.1 611.1 L566.7 610.9 L568.4 610.8 L570.0 610.6 L571.7 610.5 L573.3 610.4 L575.0 610.2 L576.6 610.1 L578.3 609.9 L579.9 609.8 L581.6 609.7 L583.2 609.6 L584.9 609.5 L586.5 609.4 L588.2 609.3 L589.8 609.2 L591.5 609.1 L593.1 609.0 L594.8 608.9 L596.4 608.8 L598.1 608.7 L599.7 608.7 L601.4 608.6 L603.0 608.5 L604.7 608.5 L606.3 608.4 L608.0 608.4 L609.6 608.3 L611.3 608.3 L612.9 608.3 L614.6 608.2 L616.2 608.2" stroke="#202020" stroke-width="2.8"/>
<path d="M123.2 955.1 L124.8 951.0 L126.5 947.0 L128.1 942.9 L129.8 938.9 L131.4 934.9 L133.1 930.8 L134.7 926.8 L136.4 922.9 L138.0 918.9 L139.7 914.9 L141.3 911.0 L143.0 907.0 L144.6 903.1 L146.3 899.2 L147.9 895.3 L149.6 891.4 L151.2 887.5 L152.9 883.5 L154.5 879.6 L156.2 875.6 L157.8 871.6 L159.5 867.6 L161.1 863.6 L162.8 859.8 L164.4 856.0 L166.1 852.3 L167.7 848.7 L169.3 845.3 L171.0 842.0 L172.6 838.8 L174.3 835.7 L175.9 832.6 L177.6 829.5 L179.2 826.4 L180.9 823.4 L182.5 820.4 L184.2 817.5 L185.8 814.6 L187.5 811.7 L189.1 808.9 L190.8 806.1 L192.4 803.3 L194.1 800.6 L195.7 797.9 L197.4 795.3 L199.0 792.7 L200.7 790.1 L202.3 787.6 L204.0 785.1 L205.6 782.6 L207.3 780.2 L208.9 777.9 L210.6 775.5 L212.2 773.2 L213.9 771.0 L215.5 768.8 L217.2 766.6 L218.8 764.5 L220.5 762.4 L222.1 760.4 L223.8 758.3 L225.4 756.3 L227.1 754.3 L228.7 752.3 L230.4 750.3 L232.0 748.4 L233.7 746.4 L235.3 744.5 L237.0 742.6 L238.6 740.7 L240.3 738.8 L241.9 737.0 L243.5 735.1 L245.2 733.3 L246.8 731.5 L248.5 729.7 L250.1 728.0 L251.8 726.2 L253.4 724.5 L255.1 722.8 L256.7 721.1 L258.4 719.4 L260.0 717.8 L261.7 716.2 L263.3 714.6 L265.0 713.0 L266.6 711.4 L268.3 709.9 L269.9 708.4 L271.6 706.9 L273.2 705.4 L274.9 704.0 L276.5 702.6 L278.2 701.2 L279.8 699.8 L281.5 698.5 L283.1 697.1 L284.8 695.9 L286.4 694.6 L288.1 693.3 L289.7 692.1 L291.4 690.9 L293.0 689.8 L294.7 688.6 L296.3 687.5 L298.0 686.4 L299.6 685.3 L301.3 684.2 L302.9 683.1 L304.6 682.0 L306.2 681.0 L307.9 679.9 L309.5 678.9 L311.2 677.9 L312.8 676.9 L314.5 675.9 L316.1 674.9 L317.7 673.9 L319.4 672.9 L321.0 672.0 L322.7 671.1 L324.3 670.1 L326.0 669.2 L327.6 668.3 L329.3 667.4 L330.9 666.5 L332.6 665.7 L334.2 664.8 L335.9 664.0 L337.5 663.2 L339.2 662.3 L340.8 661.5 L342.5 660.7 L344.1 660.0 L345.8 659.2 L347.4 658.4 L349.1 657.7 L350.7 657.0 L352.4 656.3 L354.0 655.6 L355.7 654.9 L357.3 654.2 L359.0 653.5 L360.6 652.9 L362.3 652.3 L363.9 651.6 L365.6 651.0 L367.2 650.4 L368.9 649.8 L370.5 649.3 L372.2 648.7 L373.8 648.1 L375.5 647.6 L377.1 647.0 L378.8 646.4 L380.4 645.9 L382.1 645.3 L383.7 644.8 L385.4 644.3 L387.0 643.7 L388.7 643.2 L390.3 642.7 L392.0 642.1 L393.6 641.6 L395.2 641.1 L396.9 640.6 L398.5 640.1 L400.2 639.5 L401.8 639.0 L403.5 638.5 L405.1 638.1 L406.8 637.6 L408.4 637.1 L410.1 636.6 L411.7 636.1 L413.4 635.6 L415.0 635.2 L416.7 634.7 L418.3 634.2 L420.0 633.8 L421.6 633.3 L423.3 632.9 L424.9 632.5 L426.6 632.0 L428.2 631.6 L429.9 631.2 L431.5 630.7 L433.2 630.3 L434.8 629.9 L436.5 629.5 L438.1 629.1 L439.8 628.7 L441.4 628.3 L443.1 627.9 L444.7 627.5 L446.4 627.1 L448.0 626.8 L449.7 626.4 L451.3 626.0 L453.0 625.7 L454.6 625.3 L456.3 625.0 L457.9 624.7 L459.6 624.3 L461.2 624.0 L462.9 623.7 L464.5 623.3 L466.2 623.0 L467.8 622.7 L469.4 622.4 L471.1 622.1 L472.7 621.8 L474.4 621.5 L476.0 621.3 L477.7 621.0 L479.3 620.7 L481.0 620.5 L482.6 620.2 L484.3 620.0 L485.9 619.7 L487.6 619.5 L489.2 619.2 L490.9 619.0 L492.5 618.8 L494.2 618.6 L495.8 618.4 L497.5 618.2 L499.1 617.9 L500.8 617.7 L502.4 617.5 L504.1 617.3 L505.7 617.1 L507.4 616.9 L509.0 616.7 L510.7 616.5 L512.3 616.2 L514.0 616.0 L515.6 615.8 L517.3 615.6 L518.9 615.4 L520.6 615.2 L522.2 615.0 L523.9 614.8 L525.5 614.6 L527.2 614.4 L528.8 614.2 L530.5 614.0 L532.1 613.8 L533.8 613.6 L535.4 613.4 L537.1 613.3 L538.7 613.1 L540.4 612.9 L542.0 612.7 L543.6 612.5 L545.3 612.4 L546.9 612.2 L548.6 612.0 L550.2 611.8 L551.9 611.7 L553.5 611.5 L555.2 611.3 L556.8 611.2 L558.5 611.0 L560.1 610.9 L561.8 610.7 L563.4 610.6 L565.1 610.4 L566.7 610.3 L568.4 610.2 L570.0 610.0 L571.7 609.9 L573.3 609.8 L575.0 609.6 L576.6 609.5 L578.3 609.4 L579.9 609.3 L581.6 609.2 L583.2 609.1 L584.9 609.0 L586.5 608.9 L588.2 608.8 L589.8 608.7 L591.5 608.6 L593.1 608.5 L594.8 608.4 L596.4 608.4 L598.1 608.3 L599.7 608.2 L601.4 608.2 L603.0 608.1 L604.7 608.1 L606.3 608.0 L608.0 608.0 L609.6 608.0 L611.3 607.9 L612.9 607.9 L614.6 607.9 L616.2 607.9" stroke="#bd3434" stroke-width="2.9" stroke-dasharray="24 17"/>
<path d="M123.2 955.1 L124.8 950.9 L126.5 946.8 L128.1 942.6 L129.8 938.5 L131.4 934.4 L133.1 930.4 L134.7 926.3 L136.4 922.3 L138.0 918.3 L139.7 914.3 L141.3 910.3 L143.0 906.3 L144.6 902.4 L146.3 898.5 L147.9 894.6 L149.6 890.7 L151.2 886.8 L152.9 882.9 L154.5 879.0 L156.2 875.1 L157.8 871.2 L159.5 867.3 L161.1 863.5 L162.8 859.7 L164.4 856.0 L166.1 852.3 L167.7 848.8 L169.3 845.3 L171.0 842.0 L172.6 838.7 L174.3 835.4 L175.9 832.2 L177.6 829.0 L179.2 825.7 L180.9 822.6 L182.5 819.4 L184.2 816.3 L185.8 813.2 L187.5 810.1 L189.1 807.0 L190.8 804.0 L192.4 801.0 L194.1 798.1 L195.7 795.2 L197.4 792.3 L199.0 789.4 L200.7 786.6 L202.3 783.9 L204.0 781.2 L205.6 778.5 L207.3 775.8 L208.9 773.3 L210.6 770.7 L212.2 768.2 L213.9 765.8 L215.5 763.4 L217.2 761.1 L218.8 758.8 L220.5 756.6 L222.1 754.4 L223.8 752.2 L225.4 750.0 L227.1 747.9 L228.7 745.8 L230.4 743.6 L232.0 741.5 L233.7 739.5 L235.3 737.4 L237.0 735.3 L238.6 733.3 L240.3 731.3 L241.9 729.3 L243.5 727.3 L245.2 725.4 L246.8 723.5 L248.5 721.5 L250.1 719.7 L251.8 717.8 L253.4 715.9 L255.1 714.1 L256.7 712.3 L258.4 710.5 L260.0 708.8 L261.7 707.0 L263.3 705.3 L265.0 703.6 L266.6 702.0 L268.3 700.4 L269.9 698.7 L271.6 697.2 L273.2 695.6 L274.9 694.1 L276.5 692.6 L278.2 691.1 L279.8 689.7 L281.5 688.3 L283.1 686.9 L284.8 685.5 L286.4 684.2 L288.1 682.9 L289.7 681.6 L291.4 680.4 L293.0 679.2 L294.7 678.0 L296.3 676.9 L298.0 675.7 L299.6 674.6 L301.3 673.5 L302.9 672.3 L304.6 671.2 L306.2 670.1 L307.9 669.1 L309.5 668.0 L311.2 666.9 L312.8 665.9 L314.5 664.9 L316.1 663.8 L317.7 662.8 L319.4 661.8 L321.0 660.8 L322.7 659.9 L324.3 658.9 L326.0 658.0 L327.6 657.0 L329.3 656.1 L330.9 655.2 L332.6 654.3 L334.2 653.5 L335.9 652.6 L337.5 651.8 L339.2 650.9 L340.8 650.1 L342.5 649.3 L344.1 648.6 L345.8 647.8 L347.4 647.1 L349.1 646.3 L350.7 645.6 L352.4 644.9 L354.0 644.3 L355.7 643.6 L357.3 643.0 L359.0 642.3 L360.6 641.7 L362.3 641.1 L363.9 640.6 L365.6 640.0 L367.2 639.5 L368.9 639.0 L370.5 638.5 L372.2 638.0 L373.8 637.5 L375.5 637.1 L377.1 636.6 L378.8 636.1 L380.4 635.6 L382.1 635.2 L383.7 634.7 L385.4 634.3 L387.0 633.8 L388.7 633.4 L390.3 632.9 L392.0 632.5 L393.6 632.0 L395.2 631.6 L396.9 631.2 L398.5 630.8 L400.2 630.4 L401.8 629.9 L403.5 629.5 L405.1 629.1 L406.8 628.7 L408.4 628.3 L410.1 628.0 L411.7 627.6 L413.4 627.2 L415.0 626.8 L416.7 626.4 L418.3 626.1 L420.0 625.7 L421.6 625.4 L423.3 625.0 L424.9 624.7 L426.6 624.3 L428.2 624.0 L429.9 623.6 L431.5 623.3 L433.2 623.0 L434.8 622.7 L436.5 622.3 L438.1 622.0 L439.8 621.7 L441.4 621.4 L443.1 621.1 L444.7 620.8 L446.4 620.5 L448.0 620.3 L449.7 620.0 L451.3 619.7 L453.0 619.4 L454.6 619.2 L456.3 618.9 L457.9 618.6 L459.6 618.4 L461.2 618.1 L462.9 617.9 L464.5 617.6 L466.2 617.4 L467.8 617.2 L469.4 616.9 L471.1 616.7 L472.7 616.5 L474.4 616.3 L476.0 616.1 L477.7 615.9 L479.3 615.7 L481.0 615.5 L482.6 615.3 L484.3 615.1 L485.9 614.9 L487.6 614.7 L489.2 614.6 L490.9 614.4 L492.5 614.2 L494.2 614.1 L495.8 613.9 L497.5 613.7 L499.1 613.6 L500.8 613.4 L502.4 613.2 L504.1 613.1 L505.7 612.9 L507.4 612.8 L509.0 612.6 L510.7 612.4 L512.3 612.3 L514.0 612.1 L515.6 612.0 L517.3 611.8 L518.9 611.7 L520.6 611.5 L522.2 611.3 L523.9 611.2 L525.5 611.0 L527.2 610.9 L528.8 610.7 L530.5 610.6 L532.1 610.4 L533.8 610.3 L535.4 610.2 L537.1 610.0 L538.7 609.9 L540.4 609.7 L542.0 609.6 L543.6 609.5 L545.3 609.3 L546.9 609.2 L548.6 609.1 L550.2 608.9 L551.9 608.8 L553.5 608.7 L555.2 608.6 L556.8 608.4 L558.5 608.3 L560.1 608.2 L561.8 608.1 L563.4 608.0 L565.1 607.9 L566.7 607.8 L568.4 607.7 L570.0 607.6 L571.7 607.5 L573.3 607.4 L575.0 607.3 L576.6 607.2 L578.3 607.1 L579.9 607.0 L581.6 607.0 L583.2 606.9 L584.9 606.8 L586.5 606.7 L588.2 606.7 L589.8 606.6 L591.5 606.6 L593.1 606.5 L594.8 606.4 L596.4 606.4 L598.1 606.3 L599.7 606.3 L601.4 606.3 L603.0 606.2 L604.7 606.2 L606.3 606.2 L608.0 606.2 L609.6 606.1 L611.3 606.1 L612.9 606.1 L614.6 606.1 L616.2 606.1" stroke="#da9059" stroke-width="2.8" stroke-dasharray="19 9.2 3.6 9.2"/>
<path d="M121.2 955.1 L122.9 947.0 L124.5 939.8 L126.2 934.3 L127.8 929.4 L129.5 925.0 L131.1 920.9 L132.8 917.2 L134.4 913.6 L136.1 910.3 L137.8 907.0 L139.4 903.7 L141.1 900.4 L142.7 897.0 L144.4 893.5 L146.0 889.8 L147.7 886.1 L149.3 882.4 L151.0 878.7 L152.7 874.9 L154.3 871.2 L156.0 867.6 L157.6 863.9 L159.3 860.3 L160.9 856.7 L162.6 853.2 L164.2 849.7 L165.9 846.3 L167.6 842.9 L169.2 839.6 L170.9 836.4 L172.5 833.3 L174.2 830.2 L175.8 827.0 L177.5 823.9 L179.1 820.8 L180.8 817.8 L182.5 814.7 L184.1 811.7 L185.8 808.7 L187.4 805.7 L189.1 802.7 L190.7 799.8 L192.4 796.9 L194.0 794.0 L195.7 791.2 L197.4 788.4 L199.0 785.6 L200.7 782.9 L202.3 780.2 L204.0 777.5 L205.6 774.9 L207.3 772.3 L208.9 769.8 L210.6 767.3 L212.3 764.8 L213.9 762.4 L215.6 760.1 L217.2 757.8 L218.9 755.5 L220.5 753.3 L222.2 751.1 L223.8 749.0 L225.5 746.8 L227.2 744.7 L228.8 742.5 L230.5 740.4 L232.1 738.3 L233.8 736.2 L235.4 734.2 L237.1 732.1 L238.7 730.1 L240.4 728.1 L242.1 726.0 L243.7 724.1 L245.4 722.1 L247.0 720.1 L248.7 718.2 L250.3 716.3 L252.0 714.4 L253.6 712.5 L255.3 710.7 L257.0 708.9 L258.6 707.1 L260.3 705.3 L261.9 703.5 L263.6 701.8 L265.2 700.1 L266.9 698.5 L268.5 696.8 L270.2 695.2 L271.9 693.6 L273.5 692.0 L275.2 690.5 L276.8 689.0 L278.5 687.5 L280.1 686.1 L281.8 684.7 L283.4 683.3 L285.1 681.9 L286.8 680.6 L288.4 679.4 L290.1 678.1 L291.7 676.9 L293.4 675.7 L295.0 674.6 L296.7 673.5 L298.3 672.4 L300.0 671.3 L301.7 670.2 L303.3 669.1 L305.0 668.0 L306.6 667.0 L308.3 665.9 L309.9 664.9 L311.6 663.9 L313.2 662.9 L314.9 661.9 L316.6 660.9 L318.2 659.9 L319.9 659.0 L321.5 658.0 L323.2 657.1 L324.8 656.2 L326.5 655.3 L328.1 654.4 L329.8 653.6 L331.5 652.7 L333.1 651.9 L334.8 651.0 L336.4 650.2 L338.1 649.4 L339.7 648.6 L341.4 647.9 L343.0 647.1 L344.7 646.4 L346.4 645.7 L348.0 645.0 L349.7 644.3 L351.3 643.6 L353.0 642.9 L354.6 642.3 L356.3 641.7 L357.9 641.1 L359.6 640.5 L361.3 639.9 L362.9 639.3 L364.6 638.8 L366.2 638.3 L367.9 637.8 L369.5 637.3 L371.2 636.8 L372.8 636.3 L374.5 635.9 L376.1 635.4 L377.8 634.9 L379.5 634.5 L381.1 634.0 L382.8 633.6 L384.4 633.1 L386.1 632.7 L387.7 632.2 L389.4 631.8 L391.0 631.4 L392.7 630.9 L394.4 630.5 L396.0 630.1 L397.7 629.7 L399.3 629.3 L401.0 628.9 L402.6 628.5 L404.3 628.1 L405.9 627.7 L407.6 627.3 L409.3 626.9 L410.9 626.5 L412.6 626.2 L414.2 625.8 L415.9 625.4 L417.5 625.1 L419.2 624.7 L420.8 624.3 L422.5 624.0 L424.2 623.7 L425.8 623.3 L427.5 623.0 L429.1 622.6 L430.8 622.3 L432.4 622.0 L434.1 621.7 L435.7 621.4 L437.4 621.1 L439.1 620.7 L440.7 620.4 L442.4 620.1 L444.0 619.9 L445.7 619.6 L447.3 619.3 L449.0 619.0 L450.6 618.7 L452.3 618.5 L454.0 618.2 L455.6 617.9 L457.3 617.7 L458.9 617.4 L460.6 617.2 L462.2 616.9 L463.9 616.7 L465.5 616.5 L467.2 616.2 L468.9 616.0 L470.5 615.8 L472.2 615.6 L473.8 615.3 L475.5 615.1 L477.1 614.9 L478.8 614.7 L480.4 614.5 L482.1 614.4 L483.8 614.2 L485.4 614.0 L487.1 613.8 L488.7 613.6 L490.4 613.5 L492.0 613.3 L493.7 613.2 L495.3 613.0 L497.0 612.8 L498.7 612.7 L500.3 612.5 L502.0 612.4 L503.6 612.2 L505.3 612.0 L506.9 611.9 L508.6 611.7 L510.2 611.6 L511.9 611.4 L513.6 611.3 L515.2 611.1 L516.9 611.0 L518.5 610.8 L520.2 610.7 L521.8 610.5 L523.5 610.4 L525.1 610.2 L526.8 610.1 L528.5 609.9 L530.1 609.8 L531.8 609.6 L533.4 609.5 L535.1 609.4 L536.7 609.2 L538.4 609.1 L540.0 608.9 L541.7 608.8 L543.4 608.7 L545.0 608.5 L546.7 608.4 L548.3 608.3 L550.0 608.2 L551.6 608.0 L553.3 607.9 L554.9 607.8 L556.6 607.7 L558.3 607.6 L559.9 607.5 L561.6 607.3 L563.2 607.2 L564.9 607.1 L566.5 607.0 L568.2 606.9 L569.8 606.8 L571.5 606.7 L573.2 606.7 L574.8 606.6 L576.5 606.5 L578.1 606.4 L579.8 606.3 L581.4 606.2 L583.1 606.2 L584.7 606.1 L586.4 606.0 L588.1 606.0 L589.7 605.9 L591.4 605.8 L593.0 605.8 L594.7 605.7 L596.3 605.7 L598.0 605.6 L599.6 605.6 L601.3 605.6 L603.0 605.5 L604.6 605.5 L606.3 605.5 L607.9 605.4 L609.6 605.4 L611.2 605.4 L612.9 605.4 L614.5 605.4 L616.2 605.4" stroke="#6690d6" stroke-width="2.2"/>
<path d="M121.2 955.1 L122.9 944.2 L124.5 934.8 L126.2 928.7 L127.8 923.7 L129.5 919.3 L131.1 915.3 L132.8 911.8 L134.4 908.6 L136.1 905.6 L137.8 902.7 L139.4 899.8 L141.1 896.9 L142.7 893.7 L144.4 890.3 L146.0 886.6 L147.7 882.9 L149.3 879.2 L151.0 875.4 L152.7 871.7 L154.3 867.9 L156.0 864.1 L157.6 860.3 L159.3 856.6 L160.9 852.9 L162.6 849.2 L164.2 845.6 L165.9 842.0 L167.6 838.5 L169.2 835.2 L170.9 831.8 L172.5 828.6 L174.2 825.3 L175.8 822.1 L177.5 818.9 L179.1 815.7 L180.8 812.5 L182.5 809.3 L184.1 806.2 L185.8 803.0 L187.4 799.9 L189.1 796.8 L190.7 793.8 L192.4 790.8 L194.0 787.8 L195.7 784.8 L197.4 781.9 L199.0 779.0 L200.7 776.2 L202.3 773.3 L204.0 770.6 L205.6 767.8 L207.3 765.2 L208.9 762.5 L210.6 759.9 L212.3 757.4 L213.9 754.9 L215.6 752.5 L217.2 750.1 L218.9 747.8 L220.5 745.5 L222.2 743.3 L223.8 741.1 L225.5 738.9 L227.2 736.7 L228.8 734.5 L230.5 732.4 L232.1 730.2 L233.8 728.1 L235.4 726.0 L237.1 723.9 L238.7 721.8 L240.4 719.8 L242.1 717.8 L243.7 715.8 L245.4 713.8 L247.0 711.8 L248.7 709.8 L250.3 707.9 L252.0 706.0 L253.6 704.1 L255.3 702.3 L257.0 700.4 L258.6 698.6 L260.3 696.8 L261.9 695.0 L263.6 693.3 L265.2 691.6 L266.9 689.9 L268.5 688.2 L270.2 686.6 L271.9 685.0 L273.5 683.4 L275.2 681.8 L276.8 680.3 L278.5 678.8 L280.1 677.3 L281.8 675.9 L283.4 674.4 L285.1 673.0 L286.8 671.7 L288.4 670.4 L290.1 669.1 L291.7 667.8 L293.4 666.6 L295.0 665.4 L296.7 664.2 L298.3 663.0 L300.0 661.8 L301.7 660.7 L303.3 659.5 L305.0 658.4 L306.6 657.3 L308.3 656.1 L309.9 655.0 L311.6 653.9 L313.2 652.8 L314.9 651.8 L316.6 650.7 L318.2 649.7 L319.9 648.6 L321.5 647.6 L323.2 646.6 L324.8 645.6 L326.5 644.6 L328.1 643.6 L329.8 642.7 L331.5 641.7 L333.1 640.8 L334.8 639.9 L336.4 639.0 L338.1 638.2 L339.7 637.3 L341.4 636.5 L343.0 635.7 L344.7 634.9 L346.4 634.1 L348.0 633.3 L349.7 632.6 L351.3 631.9 L353.0 631.2 L354.6 630.5 L356.3 629.9 L357.9 629.2 L359.6 628.6 L361.3 628.0 L362.9 627.5 L364.6 626.9 L366.2 626.4 L367.9 625.9 L369.5 625.4 L371.2 625.0 L372.8 624.5 L374.5 624.0 L376.1 623.6 L377.8 623.1 L379.5 622.7 L381.1 622.2 L382.8 621.8 L384.4 621.3 L386.1 620.9 L387.7 620.4 L389.4 620.0 L391.0 619.6 L392.7 619.1 L394.4 618.7 L396.0 618.3 L397.7 617.9 L399.3 617.5 L401.0 617.0 L402.6 616.6 L404.3 616.2 L405.9 615.8 L407.6 615.4 L409.3 615.0 L410.9 614.6 L412.6 614.3 L414.2 613.9 L415.9 613.5 L417.5 613.1 L419.2 612.8 L420.8 612.4 L422.5 612.1 L424.2 611.7 L425.8 611.4 L427.5 611.0 L429.1 610.7 L430.8 610.4 L432.4 610.1 L434.1 609.8 L435.7 609.4 L437.4 609.1 L439.1 608.8 L440.7 608.6 L442.4 608.3 L444.0 608.0 L445.7 607.7 L447.3 607.5 L449.0 607.2 L450.6 607.0 L452.3 606.7 L454.0 606.5 L455.6 606.3 L457.3 606.0 L458.9 605.8 L460.6 605.6 L462.2 605.4 L463.9 605.2 L465.5 605.0 L467.2 604.9 L468.9 604.7 L470.5 604.6 L472.2 604.4 L473.8 604.3 L475.5 604.1 L477.1 604.0 L478.8 603.9 L480.4 603.8 L482.1 603.7 L483.8 603.6 L485.4 603.5 L487.1 603.4 L488.7 603.4 L490.4 603.3 L492.0 603.3 L493.7 603.2 L495.3 603.2 L497.0 603.2 L498.7 603.1 L500.3 603.1 L502.0 603.1 L503.6 603.0 L505.3 603.0 L506.9 603.0 L508.6 602.9 L510.2 602.9 L511.9 602.9 L513.6 602.9 L515.2 602.8 L516.9 602.8 L518.5 602.8 L520.2 602.7 L521.8 602.7 L523.5 602.7 L525.1 602.7 L526.8 602.6 L528.5 602.6 L530.1 602.6 L531.8 602.5 L533.4 602.5 L535.1 602.5 L536.7 602.5 L538.4 602.4 L540.0 602.4 L541.7 602.4 L543.4 602.4 L545.0 602.4 L546.7 602.3 L548.3 602.3 L550.0 602.3 L551.6 602.3 L553.3 602.2 L554.9 602.2 L556.6 602.2 L558.3 602.2 L559.9 602.2 L561.6 602.2 L563.2 602.1 L564.9 602.1 L566.5 602.1 L568.2 602.1 L569.8 602.1 L571.5 602.1 L573.2 602.0 L574.8 602.0 L576.5 602.0 L578.1 602.0 L579.8 602.0 L581.4 602.0 L583.1 602.0 L584.7 602.0 L586.4 602.0 L588.1 601.9 L589.7 601.9 L591.4 601.9 L593.0 601.9 L594.7 601.9 L596.3 601.9 L598.0 601.9 L599.6 601.9 L601.3 601.9 L603.0 601.9 L604.6 601.9 L606.3 601.9 L607.9 601.9 L609.6 601.9 L611.2 601.9 L612.9 601.9 L614.5 601.9 L616.2 601.9" stroke="#2420c0" stroke-width="2.8" stroke-dasharray="24 17"/>
<path d="M121.2 955.1 L122.9 944.2 L124.5 934.8 L126.2 928.7 L127.8 923.7 L129.5 919.3 L131.1 915.3 L132.8 911.8 L134.4 908.6 L136.1 905.6 L137.8 902.7 L139.4 899.8 L141.1 896.9 L142.7 893.7 L144.4 890.3 L146.0 886.6 L147.7 882.9 L149.3 879.2 L151.0 875.4 L152.7 871.7 L154.3 867.9 L156.0 864.1 L157.6 860.3 L159.3 856.6 L160.9 852.9 L162.6 849.2 L164.2 845.6 L165.9 842.0 L167.6 838.5 L169.2 835.2 L170.9 831.8 L172.5 828.6 L174.2 825.3 L175.8 822.1 L177.5 818.9 L179.1 815.7 L180.8 812.5 L182.5 809.3 L184.1 806.2 L185.8 803.0 L187.4 799.9 L189.1 796.8 L190.7 793.8 L192.4 790.8 L194.0 787.8 L195.7 784.8 L197.4 781.9 L199.0 779.0 L200.7 776.2 L202.3 773.3 L204.0 770.6 L205.6 767.8 L207.3 765.2 L208.9 762.5 L210.6 759.9 L212.3 757.4 L213.9 754.9 L215.6 752.5 L217.2 750.1 L218.9 747.8 L220.5 745.5 L222.2 743.3 L223.8 741.1 L225.5 738.9 L227.2 736.7 L228.8 734.5 L230.5 732.4 L232.1 730.2 L233.8 728.1 L235.4 726.0 L237.1 723.9 L238.7 721.8 L240.4 719.8 L242.1 717.8 L243.7 715.8 L245.4 713.8 L247.0 711.8 L248.7 709.8 L250.3 707.9 L252.0 706.0 L253.6 704.1 L255.3 702.3 L257.0 700.4 L258.6 698.6 L260.3 696.8 L261.9 695.0 L263.6 693.3 L265.2 691.6 L266.9 689.9 L268.5 688.2 L270.2 686.6 L271.9 685.0 L273.5 683.4 L275.2 681.8 L276.8 680.3 L278.5 678.8 L280.1 677.3 L281.8 675.9 L283.4 674.4 L285.1 673.0 L286.8 671.7 L288.4 670.4 L290.1 669.1 L291.7 667.8 L293.4 666.6 L295.0 665.4 L296.7 664.2 L298.3 663.0 L300.0 661.8 L301.7 660.7 L303.3 659.5 L305.0 658.4 L306.6 657.3 L308.3 656.1 L309.9 655.0 L311.6 653.9 L313.2 652.8 L314.9 651.8 L316.6 650.7 L318.2 649.7 L319.9 648.6 L321.5 647.6 L323.2 646.6 L324.8 645.6 L326.5 644.6 L328.1 643.6 L329.8 642.7 L331.5 641.7 L333.1 640.8 L334.8 639.9 L336.4 639.0 L338.1 638.2 L339.7 637.3 L341.4 636.5 L343.0 635.7 L344.7 634.9 L346.4 634.1 L348.0 633.3 L349.7 632.6 L351.3 631.9 L353.0 631.2 L354.6 630.5 L356.3 629.9 L357.9 629.2 L359.6 628.6 L361.3 628.0 L362.9 627.5 L364.6 626.9 L366.2 626.4 L367.9 625.9 L369.5 625.4 L371.2 625.0 L372.8 624.5 L374.5 624.0 L376.1 623.6 L377.8 623.1 L379.5 622.7 L381.1 622.2 L382.8 621.8 L384.4 621.3 L386.1 620.9 L387.7 620.4 L389.4 620.0 L391.0 619.6 L392.7 619.1 L394.4 618.7 L396.0 618.3 L397.7 617.9 L399.3 617.5 L401.0 617.0 L402.6 616.6 L404.3 616.2 L405.9 615.8 L407.6 615.4 L409.3 615.0 L410.9 614.6 L412.6 614.3 L414.2 613.9 L415.9 613.5 L417.5 613.1 L419.2 612.8 L420.8 612.4 L422.5 612.1 L424.2 611.7 L425.8 611.4 L427.5 611.0 L429.1 610.7 L430.8 610.4 L432.4 610.1 L434.1 609.8 L435.7 609.4 L437.4 609.1 L439.1 608.8 L440.7 608.6 L442.4 608.3 L444.0 608.0 L445.7 607.7 L447.3 607.5 L449.0 607.2 L450.6 607.0 L452.3 606.7 L454.0 606.5 L455.6 606.3 L457.3 606.0 L458.9 605.8 L460.6 605.6 L462.2 605.4 L463.9 605.2 L465.5 605.0 L467.2 604.9 L468.9 604.7 L470.5 604.6 L472.2 604.4 L473.8 604.3 L475.5 604.1 L477.1 604.0 L478.8 603.9 L480.4 603.8 L482.1 603.7 L483.8 603.6 L485.4 603.5 L487.1 603.4 L488.7 603.4 L490.4 603.3 L492.0 603.3 L493.7 603.2 L495.3 603.2 L497.0 603.2 L498.7 603.1 L500.3 603.1 L502.0 603.1 L503.6 603.0 L505.3 603.0 L506.9 603.0 L508.6 602.9 L510.2 602.9 L511.9 602.9 L513.6 602.9 L515.2 602.8 L516.9 602.8 L518.5 602.8 L520.2 602.7 L521.8 602.7 L523.5 602.7 L525.1 602.7 L526.8 602.6 L528.5 602.6 L530.1 602.6 L531.8 602.5 L533.4 602.5 L535.1 602.5 L536.7 602.5 L538.4 602.4 L540.0 602.4 L541.7 602.4 L543.4 602.4 L545.0 602.4 L546.7 602.3 L548.3 602.3 L550.0 602.3 L551.6 602.3 L553.3 602.2 L554.9 602.2 L556.6 602.2 L558.3 602.2 L559.9 602.2 L561.6 602.2 L563.2 602.1 L564.9 602.1 L566.5 602.1 L568.2 602.1 L569.8 602.1 L571.5 602.1 L573.2 602.0 L574.8 602.0 L576.5 602.0 L578.1 602.0 L579.8 602.0 L581.4 602.0 L583.1 602.0 L584.7 602.0 L586.4 602.0 L588.1 601.9 L589.7 601.9 L591.4 601.9 L593.0 601.9 L594.7 601.9 L596.3 601.9 L598.0 601.9 L599.6 601.9 L601.3 601.9 L603.0 601.9 L604.6 601.9 L606.3 601.9 L607.9 601.9 L609.6 601.9 L611.2 601.9 L612.9 601.9 L614.5 601.9 L616.2 601.9" stroke="#7a3bd3" stroke-width="2.9" stroke-dasharray="19 9.2 3.6 9.2"/>
</g>
<g stroke="#1a1a1a" stroke-width="2.6" fill="none">
<rect x="121.2" y="584.2" width="495.00" height="370.90"/>
<path d="M152.14 955.10V951.60M152.14 584.20V587.70M183.08 955.10V951.60M183.08 584.20V587.70M214.01 955.10V951.60M214.01 584.20V587.70M244.95 955.10V948.90M244.95 584.20V590.40M275.89 955.10V951.60M275.89 584.20V587.70M306.83 955.10V951.60M306.83 584.20V587.70M337.76 955.10V951.60M337.76 584.20V587.70M368.70 955.10V948.90M368.70 584.20V590.40M399.64 955.10V951.60M399.64 584.20V587.70M430.57 955.10V951.60M430.57 584.20V587.70M461.51 955.10V951.60M461.51 584.20V587.70M492.45 955.10V948.90M492.45 584.20V590.40M523.39 955.10V951.60M523.39 584.20V587.70M554.33 955.10V951.60M554.33 584.20V587.70M585.26 955.10V951.60M585.26 584.20V587.70M121.20 910.95H124.70M616.20 910.95H612.70M121.20 866.79H127.40M616.20 866.79H610.00M121.20 822.64H124.70M616.20 822.64H612.70M121.20 778.48H127.40M616.20 778.48H610.00M121.20 734.33H124.70M616.20 734.33H612.70M121.20 690.17H127.40M616.20 690.17H610.00M121.20 646.02H124.70M616.20 646.02H612.70M121.20 601.86H127.40M616.20 601.86H610.00"/>
</g>
<g font-family="'Liberation Sans', sans-serif" fill="#141414" stroke="#141414" stroke-width="0.45">
<text transform="translate(111.20,963.90) scale(1.06,1)" font-size="24.2" text-anchor="end" >0</text>
<text transform="translate(111.20,875.59) scale(1.06,1)" font-size="24.2" text-anchor="end" >0.25</text>
<text transform="translate(111.20,787.28) scale(1.06,1)" font-size="24.2" text-anchor="end" >0.5</text>
<text transform="translate(111.20,698.97) scale(1.06,1)" font-size="24.2" text-anchor="end" >0.75</text>
<text transform="translate(96.93,610.66) scale(1.06,1)" font-size="24.2" text-anchor="start" >&#8199;</text><path transform="translate(96.93,610.66) scale(0.02565,-0.02420)" d="M359 0L359 703L297 703C282 640 238 590 101 582L101 514L269 514L269 0Z"/>
<text transform="translate(121.20,985.10) scale(1.06,1)" font-size="24.2" text-anchor="middle" >0</text>
<text transform="translate(244.95,985.10) scale(1.06,1)" font-size="24.2" text-anchor="middle" >0.025</text>
<text transform="translate(368.70,985.10) scale(1.06,1)" font-size="24.2" text-anchor="middle" >0.05</text>
<text transform="translate(492.45,985.10) scale(1.06,1)" font-size="24.2" text-anchor="middle" >0.075</text>
<text transform="translate(598.37,985.10) scale(1.06,1)" font-size="24.2" text-anchor="start" >0.&#8199;</text><path transform="translate(619.76,985.10) scale(0.02565,-0.02420)" d="M359 0L359 703L297 703C282 640 238 590 101 582L101 514L269 514L269 0Z"/>
<text transform="translate(368.50,1019.30) scale(1.046,1)" font-size="34.2" text-anchor="middle" >Potential vs. RHE, V</text>
<text transform="translate(29.20,771.65) rotate(-90)" font-size="34.2" text-anchor="middle"><tspan font-style="italic">i</tspan><tspan dx="2.6"> /</tspan><tspan font-style="italic">i</tspan><tspan font-size="27" dx="2.5" dy="17">lim</tspan></text>
</g>
<g clip-path="url(#clipd)" fill="none" stroke-linejoin="round">
<path d="M772.8 953.9 L774.0 947.1 L775.3 940.5 L776.5 933.9 L777.7 927.5 L779.0 921.3 L780.2 915.1 L781.4 909.1 L782.7 903.1 L783.9 897.3 L785.1 891.6 L786.4 886.1 L787.6 880.6 L788.8 875.2 L790.1 870.0 L791.3 864.8 L792.6 859.7 L793.8 854.8 L795.0 849.9 L796.3 845.1 L797.5 840.4 L798.7 835.8 L800.0 831.3 L801.2 826.9 L802.4 822.6 L803.7 818.3 L804.9 814.2 L806.1 810.1 L807.4 806.1 L808.6 802.1 L809.8 798.3 L811.1 794.5 L812.3 790.8 L813.5 787.2 L814.8 783.6 L816.0 780.1 L817.2 776.7 L818.5 773.3 L819.7 770.0 L820.9 766.8 L822.2 763.6 L823.4 760.5 L824.7 757.5 L825.9 754.5 L827.1 751.5 L828.4 748.7 L829.6 745.8 L830.8 743.1 L832.1 740.4 L833.3 737.7 L834.5 735.1 L835.8 732.5 L837.0 730.0 L838.2 727.6 L839.5 725.1 L840.7 722.8 L841.9 720.5 L843.2 718.2 L844.4 716.0 L845.6 713.8 L846.9 711.6 L848.1 709.5 L849.3 707.4 L850.6 705.4 L851.8 703.4 L853.0 701.5 L854.3 699.6 L855.5 697.7 L856.8 695.9 L858.0 694.1 L859.2 692.3 L860.5 690.6 L861.7 688.9 L862.9 687.2 L864.2 685.6 L865.4 684.0 L866.6 682.4 L867.9 680.9 L869.1 679.4 L870.3 677.9 L871.6 676.4 L872.8 675.0 L874.0 673.6 L875.3 672.2 L876.5 670.9 L877.7 669.6 L879.0 668.3 L880.2 667.0 L881.4 665.8 L882.7 664.5 L883.9 663.3 L885.1 662.2 L886.4 661.0 L887.6 659.9 L888.9 658.8 L890.1 657.7 L891.3 656.6 L892.6 655.6 L893.8 654.6 L895.0 653.6 L896.3 652.6 L897.5 651.6 L898.7 650.7 L900.0 649.8 L901.2 648.8 L902.4 647.9 L903.7 647.1 L904.9 646.2 L906.1 645.4 L907.4 644.6 L908.6 643.7 L909.8 642.9 L911.1 642.2 L912.3 641.4 L913.5 640.7 L914.8 639.9 L916.0 639.2 L917.2 638.5 L918.5 637.8 L919.7 637.1 L921.0 636.5 L922.2 635.8 L923.4 635.2 L924.7 634.5 L925.9 633.9 L927.1 633.3 L928.4 632.7 L929.6 632.1 L930.8 631.6 L932.1 631.0 L933.3 630.5 L934.5 629.9 L935.8 629.4 L937.0 628.9 L938.2 628.4 L939.5 627.9 L940.7 627.4 L941.9 626.9 L943.2 626.5 L944.4 626.0 L945.6 625.5 L946.9 625.1 L948.1 624.7 L949.3 624.2 L950.6 623.8 L951.8 623.4 L953.0 623.0 L954.3 622.6 L955.5 622.2 L956.8 621.9 L958.0 621.5 L959.2 621.1 L960.5 620.8 L961.7 620.4 L962.9 620.1 L964.2 619.7 L965.4 619.4 L966.6 619.1 L967.9 618.8 L969.1 618.5 L970.3 618.1 L971.6 617.9 L972.8 617.6 L974.0 617.3 L975.3 617.0 L976.5 616.7 L977.7 616.4 L979.0 616.2 L980.2 615.9 L981.4 615.7 L982.7 615.4 L983.9 615.2 L985.1 614.9 L986.4 614.7 L987.6 614.4 L988.9 614.2 L990.1 614.0 L991.3 613.8 L992.6 613.6 L993.8 613.4 L995.0 613.1 L996.3 612.9 L997.5 612.7 L998.7 612.6 L1000.0 612.4 L1001.2 612.2 L1002.4 612.0 L1003.7 611.8 L1004.9 611.6 L1006.1 611.5 L1007.4 611.3 L1008.6 611.1 L1009.8 611.0 L1011.1 610.8 L1012.3 610.6 L1013.5 610.5 L1014.8 610.3 L1016.0 610.2 L1017.2 610.0 L1018.5 609.9 L1019.7 609.8 L1021.0 609.6 L1022.2 609.5 L1023.4 609.4 L1024.7 609.2 L1025.9 609.1 L1027.1 609.0 L1028.4 608.9 L1029.6 608.7 L1030.8 608.6 L1032.1 608.5 L1033.3 608.4 L1034.5 608.3 L1035.8 608.2 L1037.0 608.1 L1038.2 608.0 L1039.5 607.9 L1040.7 607.8 L1041.9 607.7 L1043.2 607.6 L1044.4 607.5 L1045.6 607.4 L1046.9 607.3 L1048.1 607.2 L1049.3 607.1 L1050.6 607.0 L1051.8 606.9 L1053.1 606.9 L1054.3 606.8 L1055.5 606.7 L1056.8 606.6 L1058.0 606.5 L1059.2 606.5 L1060.5 606.4 L1061.7 606.3 L1062.9 606.2 L1064.2 606.2 L1065.4 606.1 L1066.6 606.0 L1067.9 606.0 L1069.1 605.9 L1070.3 605.9 L1071.6 605.8 L1072.8 605.7 L1074.0 605.7 L1075.3 605.6 L1076.5 605.6 L1077.7 605.5 L1079.0 605.4 L1080.2 605.4 L1081.4 605.3 L1082.7 605.3 L1083.9 605.2 L1085.2 605.2 L1086.4 605.1 L1087.6 605.1 L1088.9 605.0 L1090.1 605.0 L1091.3 605.0 L1092.6 604.9 L1093.8 604.9 L1095.0 604.8 L1096.3 604.8 L1097.5 604.7 L1098.7 604.7 L1100.0 604.7 L1101.2 604.6 L1102.4 604.6 L1103.7 604.5 L1104.9 604.5 L1106.1 604.5 L1107.4 604.4 L1108.6 604.4 L1109.8 604.4 L1111.1 604.3 L1112.3 604.3 L1113.5 604.3 L1114.8 604.2 L1116.0 604.2 L1117.2 604.2 L1118.5 604.2 L1119.7 604.1 L1121.0 604.1 L1122.2 604.1 L1123.4 604.0 L1124.7 604.0 L1125.9 604.0 L1127.1 604.0 L1128.4 603.9 L1129.6 603.9 L1130.8 603.9 L1132.1 603.9 L1133.3 603.8 L1134.5 603.8 L1135.8 603.8 L1137.0 603.8 L1138.2 603.8 L1139.5 603.7 L1140.7 603.7 L1141.9 603.7 L1143.2 603.7 L1144.4 603.7 L1145.6 603.6 L1146.9 603.6 L1148.1 603.6 L1149.3 603.6 L1150.6 603.6 L1151.8 603.5 L1153.1 603.5 L1154.3 603.5 L1155.5 603.5 L1156.8 603.5 L1158.0 603.5 L1159.2 603.4 L1160.5 603.4 L1161.7 603.4 L1162.9 603.4 L1164.2 603.4 L1165.4 603.4 L1166.6 603.4 L1167.9 603.3 L1169.1 603.3 L1170.3 603.3 L1171.6 603.3 L1172.8 603.3 L1174.0 603.3 L1175.3 603.3 L1176.5 603.3 L1177.7 603.2 L1179.0 603.2 L1180.2 603.2 L1181.4 603.2 L1182.7 603.2 L1183.9 603.2 L1185.2 603.2 L1186.4 603.2 L1187.6 603.2 L1188.9 603.2 L1190.1 603.1 L1191.3 603.1 L1192.6 603.1 L1193.8 603.1 L1195.0 603.1 L1196.3 603.1 L1197.5 603.1 L1198.7 603.1 L1200.0 603.1 L1201.2 603.1 L1202.4 603.1 L1203.7 603.0 L1204.9 603.0 L1206.1 603.0 L1207.4 603.0 L1208.6 603.0 L1209.8 603.0 L1211.1 603.0 L1212.3 603.0 L1213.5 603.0 L1214.8 603.0 L1216.0 603.0 L1217.3 603.0 L1218.5 603.0 L1219.7 603.0 L1221.0 603.0 L1222.2 603.0 L1223.4 602.9 L1224.7 602.9 L1225.9 602.9 L1227.1 602.9 L1228.4 602.9 L1229.6 602.9 L1230.8 602.9 L1232.1 602.9 L1233.3 602.9 L1234.5 602.9 L1235.8 602.9 L1237.0 602.9 L1238.2 602.9 L1239.5 602.9 L1240.7 602.9 L1241.9 602.9 L1243.2 602.9 L1244.4 602.9 L1245.6 602.9 L1246.9 602.9 L1248.1 602.9 L1249.4 602.9 L1250.6 602.8 L1251.8 602.8 L1253.1 602.8 L1254.3 602.8 L1255.5 602.8 L1256.8 602.8 L1258.0 602.8 L1259.2 602.8 L1260.5 602.8 L1261.7 602.8 L1262.9 602.8 L1264.2 602.8 L1265.4 602.8" stroke="#1c1c1c" stroke-width="2.8" stroke-dasharray="24 17"/>
<path d="M772.80 778.28 H889.05" stroke="#222" stroke-width="3" stroke-dasharray="3 7.25"/>
<path d="M776.2 953.9 L777.9 951.0 L779.5 948.0 L781.2 945.1 L782.8 942.1 L784.4 939.2 L786.1 936.3 L787.7 933.3 L789.3 930.4 L791.0 927.4 L792.6 924.4 L794.2 921.4 L795.9 918.4 L797.5 915.4 L799.2 912.4 L800.8 909.5 L802.4 906.5 L804.1 903.6 L805.7 900.8 L807.3 898.0 L809.0 895.4 L810.6 892.7 L812.2 890.2 L813.9 887.7 L815.5 885.3 L817.1 882.9 L818.8 880.5 L820.4 878.2 L822.1 875.8 L823.7 873.4 L825.3 871.1 L827.0 868.7 L828.6 866.3 L830.2 863.9 L831.9 861.6 L833.5 859.2 L835.1 856.8 L836.8 854.5 L838.4 852.1 L840.1 849.7 L841.7 847.4 L843.3 845.1 L845.0 842.7 L846.6 840.4 L848.2 838.1 L849.9 835.9 L851.5 833.6 L853.1 831.3 L854.8 829.1 L856.4 826.9 L858.0 824.7 L859.7 822.5 L861.3 820.4 L863.0 818.2 L864.6 816.1 L866.2 814.1 L867.9 812.0 L869.5 810.0 L871.1 808.0 L872.8 806.0 L874.4 804.1 L876.0 802.1 L877.7 800.2 L879.3 798.2 L880.9 796.3 L882.6 794.4 L884.2 792.5 L885.9 790.6 L887.5 788.7 L889.1 786.8 L890.8 784.9 L892.4 783.1 L894.0 781.2 L895.7 779.4 L897.3 777.5 L898.9 775.7 L900.6 773.9 L902.2 772.1 L903.9 770.3 L905.5 768.6 L907.1 766.8 L908.8 765.1 L910.4 763.3 L912.0 761.6 L913.7 759.9 L915.3 758.2 L916.9 756.5 L918.6 754.9 L920.2 753.2 L921.8 751.6 L923.5 750.0 L925.1 748.4 L926.8 746.8 L928.4 745.2 L930.0 743.7 L931.7 742.2 L933.3 740.6 L934.9 739.1 L936.6 737.7 L938.2 736.2 L939.8 734.8 L941.5 733.3 L943.1 731.9 L944.8 730.5 L946.4 729.2 L948.0 727.8 L949.7 726.5 L951.3 725.1 L952.9 723.8 L954.6 722.5 L956.2 721.2 L957.8 719.8 L959.5 718.5 L961.1 717.3 L962.7 716.0 L964.4 714.7 L966.0 713.5 L967.7 712.2 L969.3 711.0 L970.9 709.7 L972.6 708.5 L974.2 707.3 L975.8 706.1 L977.5 704.9 L979.1 703.7 L980.7 702.6 L982.4 701.4 L984.0 700.3 L985.7 699.2 L987.3 698.0 L988.9 696.9 L990.6 695.8 L992.2 694.8 L993.8 693.7 L995.5 692.6 L997.1 691.6 L998.7 690.5 L1000.4 689.5 L1002.0 688.5 L1003.6 687.5 L1005.3 686.5 L1006.9 685.6 L1008.6 684.6 L1010.2 683.7 L1011.8 682.7 L1013.5 681.8 L1015.1 680.9 L1016.7 680.0 L1018.4 679.2 L1020.0 678.3 L1021.6 677.4 L1023.3 676.6 L1024.9 675.7 L1026.5 674.9 L1028.2 674.1 L1029.8 673.2 L1031.5 672.4 L1033.1 671.5 L1034.7 670.7 L1036.4 669.9 L1038.0 669.1 L1039.6 668.3 L1041.3 667.4 L1042.9 666.6 L1044.5 665.8 L1046.2 665.0 L1047.8 664.2 L1049.5 663.5 L1051.1 662.7 L1052.7 661.9 L1054.4 661.1 L1056.0 660.3 L1057.6 659.6 L1059.3 658.8 L1060.9 658.1 L1062.5 657.3 L1064.2 656.6 L1065.8 655.8 L1067.4 655.1 L1069.1 654.3 L1070.7 653.6 L1072.4 652.9 L1074.0 652.2 L1075.6 651.5 L1077.3 650.8 L1078.9 650.1 L1080.5 649.4 L1082.2 648.7 L1083.8 648.0 L1085.4 647.4 L1087.1 646.7 L1088.7 646.0 L1090.4 645.4 L1092.0 644.8 L1093.6 644.1 L1095.3 643.5 L1096.9 642.9 L1098.5 642.2 L1100.2 641.6 L1101.8 641.0 L1103.4 640.4 L1105.1 639.9 L1106.7 639.3 L1108.3 638.7 L1110.0 638.1 L1111.6 637.6 L1113.3 637.0 L1114.9 636.5 L1116.5 635.9 L1118.2 635.4 L1119.8 634.9 L1121.4 634.4 L1123.1 633.9 L1124.7 633.4 L1126.3 632.9 L1128.0 632.4 L1129.6 632.0 L1131.3 631.5 L1132.9 631.1 L1134.5 630.6 L1136.2 630.2 L1137.8 629.8 L1139.4 629.3 L1141.1 628.9 L1142.7 628.5 L1144.3 628.2 L1146.0 627.8 L1147.6 627.4 L1149.2 627.0 L1150.9 626.6 L1152.5 626.2 L1154.2 625.8 L1155.8 625.4 L1157.4 625.0 L1159.1 624.7 L1160.7 624.3 L1162.3 623.9 L1164.0 623.5 L1165.6 623.2 L1167.2 622.8 L1168.9 622.4 L1170.5 622.1 L1172.2 621.7 L1173.8 621.3 L1175.4 621.0 L1177.1 620.6 L1178.7 620.3 L1180.3 619.9 L1182.0 619.6 L1183.6 619.2 L1185.2 618.9 L1186.9 618.5 L1188.5 618.2 L1190.1 617.9 L1191.8 617.5 L1193.4 617.2 L1195.1 616.9 L1196.7 616.6 L1198.3 616.3 L1200.0 615.9 L1201.6 615.6 L1203.2 615.3 L1204.9 615.0 L1206.5 614.7 L1208.1 614.5 L1209.8 614.2 L1211.4 613.9 L1213.0 613.6 L1214.7 613.3 L1216.3 613.1 L1218.0 612.8 L1219.6 612.5 L1221.2 612.3 L1222.9 612.0 L1224.5 611.8 L1226.1 611.6 L1227.8 611.3 L1229.4 611.1 L1231.0 610.9 L1232.7 610.7 L1234.3 610.4 L1236.0 610.2 L1237.6 610.0 L1239.2 609.8 L1240.9 609.6 L1242.5 609.5 L1244.1 609.3 L1245.8 609.1 L1247.4 609.0 L1249.0 608.8 L1250.7 608.6 L1252.3 608.5 L1253.9 608.4 L1255.6 608.2 L1257.2 608.1 L1258.9 608.0 L1260.5 607.9 L1262.1 607.8 L1263.8 607.7 L1265.4 607.6" stroke="#202020" stroke-width="2.8"/>
<path d="M775.8 953.9 L777.4 950.6 L779.0 947.3 L780.7 944.0 L782.3 940.7 L783.9 937.5 L785.6 934.2 L787.2 931.0 L788.9 927.8 L790.5 924.5 L792.1 921.3 L793.8 918.0 L795.4 914.8 L797.0 911.5 L798.7 908.3 L800.3 905.2 L802.0 902.0 L803.6 899.0 L805.2 896.0 L806.9 893.1 L808.5 890.3 L810.1 887.6 L811.8 884.9 L813.4 882.4 L815.1 879.9 L816.7 877.4 L818.3 875.0 L820.0 872.5 L821.6 870.1 L823.2 867.6 L824.9 865.1 L826.5 862.6 L828.2 860.0 L829.8 857.5 L831.4 854.9 L833.1 852.4 L834.7 849.8 L836.3 847.3 L838.0 844.7 L839.6 842.2 L841.3 839.6 L842.9 837.1 L844.5 834.5 L846.2 832.0 L847.8 829.5 L849.4 827.0 L851.1 824.5 L852.7 822.1 L854.4 819.6 L856.0 817.2 L857.6 814.8 L859.3 812.5 L860.9 810.2 L862.5 807.9 L864.2 805.6 L865.8 803.4 L867.5 801.2 L869.1 799.0 L870.7 796.9 L872.4 794.9 L874.0 792.8 L875.6 790.8 L877.3 788.7 L878.9 786.7 L880.6 784.7 L882.2 782.7 L883.8 780.7 L885.5 778.7 L887.1 776.7 L888.8 774.8 L890.4 772.8 L892.0 770.9 L893.7 769.0 L895.3 767.1 L896.9 765.2 L898.6 763.3 L900.2 761.5 L901.9 759.6 L903.5 757.8 L905.1 756.0 L906.8 754.2 L908.4 752.4 L910.0 750.6 L911.7 748.8 L913.3 747.1 L915.0 745.3 L916.6 743.6 L918.2 741.9 L919.9 740.3 L921.5 738.6 L923.1 736.9 L924.8 735.3 L926.4 733.7 L928.1 732.1 L929.7 730.5 L931.3 729.0 L933.0 727.4 L934.6 725.9 L936.2 724.4 L937.9 722.9 L939.5 721.4 L941.2 720.0 L942.8 718.5 L944.4 717.1 L946.1 715.7 L947.7 714.3 L949.3 713.0 L951.0 711.6 L952.6 710.2 L954.3 708.9 L955.9 707.5 L957.5 706.2 L959.2 704.8 L960.8 703.5 L962.4 702.2 L964.1 700.9 L965.7 699.6 L967.4 698.3 L969.0 697.0 L970.6 695.7 L972.3 694.5 L973.9 693.2 L975.5 692.0 L977.2 690.8 L978.8 689.6 L980.5 688.4 L982.1 687.2 L983.7 686.0 L985.4 684.8 L987.0 683.7 L988.6 682.6 L990.3 681.4 L991.9 680.3 L993.6 679.3 L995.2 678.2 L996.8 677.1 L998.5 676.1 L1000.1 675.1 L1001.7 674.1 L1003.4 673.1 L1005.0 672.1 L1006.7 671.2 L1008.3 670.3 L1009.9 669.4 L1011.6 668.5 L1013.2 667.6 L1014.8 666.8 L1016.5 665.9 L1018.1 665.1 L1019.8 664.3 L1021.4 663.6 L1023.0 662.8 L1024.7 662.0 L1026.3 661.2 L1027.9 660.5 L1029.6 659.7 L1031.2 659.0 L1032.9 658.2 L1034.5 657.5 L1036.1 656.7 L1037.8 656.0 L1039.4 655.3 L1041.0 654.6 L1042.7 653.8 L1044.3 653.1 L1046.0 652.4 L1047.6 651.7 L1049.2 651.0 L1050.9 650.3 L1052.5 649.6 L1054.1 648.9 L1055.8 648.3 L1057.4 647.6 L1059.1 646.9 L1060.7 646.3 L1062.3 645.6 L1064.0 645.0 L1065.6 644.3 L1067.2 643.7 L1068.9 643.0 L1070.5 642.4 L1072.2 641.8 L1073.8 641.2 L1075.4 640.6 L1077.1 640.0 L1078.7 639.4 L1080.4 638.8 L1082.0 638.2 L1083.6 637.6 L1085.3 637.1 L1086.9 636.5 L1088.5 636.0 L1090.2 635.4 L1091.8 634.9 L1093.5 634.3 L1095.1 633.8 L1096.7 633.3 L1098.4 632.8 L1100.0 632.3 L1101.6 631.8 L1103.3 631.3 L1104.9 630.8 L1106.6 630.3 L1108.2 629.8 L1109.8 629.4 L1111.5 628.9 L1113.1 628.5 L1114.7 628.0 L1116.4 627.6 L1118.0 627.2 L1119.7 626.8 L1121.3 626.4 L1122.9 626.0 L1124.6 625.6 L1126.2 625.2 L1127.8 624.8 L1129.5 624.4 L1131.1 624.1 L1132.8 623.7 L1134.4 623.4 L1136.0 623.1 L1137.7 622.7 L1139.3 622.4 L1140.9 622.1 L1142.6 621.8 L1144.2 621.5 L1145.9 621.2 L1147.5 620.9 L1149.1 620.6 L1150.8 620.3 L1152.4 620.1 L1154.0 619.8 L1155.7 619.5 L1157.3 619.2 L1159.0 618.9 L1160.6 618.6 L1162.2 618.3 L1163.9 618.0 L1165.5 617.7 L1167.1 617.5 L1168.8 617.2 L1170.4 616.9 L1172.1 616.6 L1173.7 616.3 L1175.3 616.1 L1177.0 615.8 L1178.6 615.5 L1180.2 615.3 L1181.9 615.0 L1183.5 614.7 L1185.2 614.5 L1186.8 614.2 L1188.4 614.0 L1190.1 613.7 L1191.7 613.5 L1193.3 613.2 L1195.0 613.0 L1196.6 612.7 L1198.3 612.5 L1199.9 612.3 L1201.5 612.1 L1203.2 611.8 L1204.8 611.6 L1206.4 611.4 L1208.1 611.2 L1209.7 611.0 L1211.4 610.8 L1213.0 610.6 L1214.6 610.4 L1216.3 610.2 L1217.9 610.0 L1219.5 609.8 L1221.2 609.6 L1222.8 609.4 L1224.5 609.3 L1226.1 609.1 L1227.7 608.9 L1229.4 608.8 L1231.0 608.6 L1232.6 608.5 L1234.3 608.4 L1235.9 608.2 L1237.6 608.1 L1239.2 608.0 L1240.8 607.9 L1242.5 607.8 L1244.1 607.6 L1245.7 607.5 L1247.4 607.5 L1249.0 607.4 L1250.7 607.3 L1252.3 607.2 L1253.9 607.2 L1255.6 607.1 L1257.2 607.0 L1258.8 607.0 L1260.5 607.0 L1262.1 606.9 L1263.8 606.9 L1265.4 606.9" stroke="#bd3434" stroke-width="2.9" stroke-dasharray="24 17"/>
<path d="M775.8 953.9 L777.4 950.7 L779.0 947.5 L780.7 944.3 L782.3 941.1 L783.9 937.9 L785.6 934.8 L787.2 931.6 L788.9 928.5 L790.5 925.3 L792.1 922.1 L793.8 918.9 L795.4 915.7 L797.0 912.5 L798.7 909.4 L800.3 906.3 L802.0 903.2 L803.6 900.2 L805.2 897.3 L806.9 894.4 L808.5 891.7 L810.1 889.1 L811.8 886.5 L813.4 884.1 L815.1 881.7 L816.7 879.3 L818.3 877.0 L820.0 874.7 L821.6 872.4 L823.2 870.0 L824.9 867.6 L826.5 865.3 L828.2 862.9 L829.8 860.5 L831.4 858.2 L833.1 855.8 L834.7 853.4 L836.3 851.1 L838.0 848.7 L839.6 846.4 L841.3 844.0 L842.9 841.7 L844.5 839.4 L846.2 837.0 L847.8 834.7 L849.4 832.4 L851.1 830.1 L852.7 827.9 L854.4 825.6 L856.0 823.4 L857.6 821.1 L859.3 818.9 L860.9 816.7 L862.5 814.6 L864.2 812.4 L865.8 810.3 L867.5 808.2 L869.1 806.1 L870.7 804.0 L872.4 802.0 L874.0 799.9 L875.6 797.9 L877.3 795.9 L878.9 793.8 L880.6 791.8 L882.2 789.8 L883.8 787.8 L885.5 785.8 L887.1 783.8 L888.8 781.8 L890.4 779.8 L892.0 777.9 L893.7 775.9 L895.3 773.9 L896.9 772.0 L898.6 770.0 L900.2 768.1 L901.9 766.2 L903.5 764.3 L905.1 762.4 L906.8 760.5 L908.4 758.6 L910.0 756.8 L911.7 754.9 L913.3 753.1 L915.0 751.3 L916.6 749.5 L918.2 747.7 L919.9 745.9 L921.5 744.2 L923.1 742.5 L924.8 740.7 L926.4 739.0 L928.1 737.3 L929.7 735.7 L931.3 734.0 L933.0 732.4 L934.6 730.8 L936.2 729.2 L937.9 727.6 L939.5 726.1 L941.2 724.5 L942.8 723.0 L944.4 721.6 L946.1 720.1 L947.7 718.6 L949.3 717.2 L951.0 715.7 L952.6 714.3 L954.3 712.8 L955.9 711.4 L957.5 710.0 L959.2 708.5 L960.8 707.1 L962.4 705.7 L964.1 704.3 L965.7 702.9 L967.4 701.6 L969.0 700.2 L970.6 698.8 L972.3 697.5 L973.9 696.1 L975.5 694.8 L977.2 693.5 L978.8 692.2 L980.5 690.9 L982.1 689.6 L983.7 688.4 L985.4 687.1 L987.0 685.9 L988.6 684.7 L990.3 683.5 L991.9 682.3 L993.6 681.2 L995.2 680.0 L996.8 678.9 L998.5 677.8 L1000.1 676.7 L1001.7 675.7 L1003.4 674.7 L1005.0 673.6 L1006.7 672.6 L1008.3 671.7 L1009.9 670.7 L1011.6 669.8 L1013.2 668.9 L1014.8 668.0 L1016.5 667.2 L1018.1 666.4 L1019.8 665.6 L1021.4 664.8 L1023.0 664.0 L1024.7 663.2 L1026.3 662.5 L1027.9 661.7 L1029.6 660.9 L1031.2 660.2 L1032.9 659.4 L1034.5 658.7 L1036.1 657.9 L1037.8 657.2 L1039.4 656.5 L1041.0 655.8 L1042.7 655.1 L1044.3 654.4 L1046.0 653.7 L1047.6 653.0 L1049.2 652.3 L1050.9 651.6 L1052.5 650.9 L1054.1 650.2 L1055.8 649.6 L1057.4 648.9 L1059.1 648.3 L1060.7 647.6 L1062.3 647.0 L1064.0 646.3 L1065.6 645.7 L1067.2 645.1 L1068.9 644.5 L1070.5 643.9 L1072.2 643.3 L1073.8 642.7 L1075.4 642.1 L1077.1 641.5 L1078.7 640.9 L1080.4 640.4 L1082.0 639.8 L1083.6 639.2 L1085.3 638.7 L1086.9 638.1 L1088.5 637.6 L1090.2 637.1 L1091.8 636.5 L1093.5 636.0 L1095.1 635.5 L1096.7 635.0 L1098.4 634.5 L1100.0 634.0 L1101.6 633.5 L1103.3 633.0 L1104.9 632.6 L1106.6 632.1 L1108.2 631.7 L1109.8 631.2 L1111.5 630.8 L1113.1 630.3 L1114.7 629.9 L1116.4 629.5 L1118.0 629.1 L1119.7 628.6 L1121.3 628.2 L1122.9 627.9 L1124.6 627.5 L1126.2 627.1 L1127.8 626.7 L1129.5 626.3 L1131.1 626.0 L1132.8 625.6 L1134.4 625.3 L1136.0 625.0 L1137.7 624.6 L1139.3 624.3 L1140.9 624.0 L1142.6 623.7 L1144.2 623.4 L1145.9 623.1 L1147.5 622.8 L1149.1 622.5 L1150.8 622.2 L1152.4 621.9 L1154.0 621.6 L1155.7 621.3 L1157.3 621.0 L1159.0 620.7 L1160.6 620.4 L1162.2 620.1 L1163.9 619.8 L1165.5 619.5 L1167.1 619.2 L1168.8 618.9 L1170.4 618.6 L1172.1 618.3 L1173.7 618.0 L1175.3 617.8 L1177.0 617.5 L1178.6 617.2 L1180.2 616.9 L1181.9 616.7 L1183.5 616.4 L1185.2 616.1 L1186.8 615.9 L1188.4 615.6 L1190.1 615.3 L1191.7 615.1 L1193.3 614.8 L1195.0 614.6 L1196.6 614.3 L1198.3 614.1 L1199.9 613.9 L1201.5 613.6 L1203.2 613.4 L1204.8 613.2 L1206.4 612.9 L1208.1 612.7 L1209.7 612.5 L1211.4 612.3 L1213.0 612.1 L1214.6 611.9 L1216.3 611.7 L1217.9 611.5 L1219.5 611.3 L1221.2 611.1 L1222.8 610.9 L1224.5 610.7 L1226.1 610.5 L1227.7 610.4 L1229.4 610.2 L1231.0 610.0 L1232.6 609.9 L1234.3 609.7 L1235.9 609.6 L1237.6 609.4 L1239.2 609.3 L1240.8 609.2 L1242.5 609.0 L1244.1 608.9 L1245.7 608.8 L1247.4 608.7 L1249.0 608.6 L1250.7 608.5 L1252.3 608.4 L1253.9 608.3 L1255.6 608.3 L1257.2 608.2 L1258.8 608.1 L1260.5 608.1 L1262.1 608.0 L1263.8 608.0 L1265.4 607.9" stroke="#da9059" stroke-width="2.8" stroke-dasharray="19 9.2 3.6 9.2"/>
<path d="M772.8 953.9 L774.4 949.5 L776.1 945.5 L777.7 941.8 L779.4 938.4 L781.0 935.1 L782.7 931.8 L784.3 928.5 L786.0 925.3 L787.6 922.1 L789.3 919.0 L790.9 915.8 L792.6 912.7 L794.2 909.6 L795.9 906.5 L797.5 903.3 L799.2 900.1 L800.8 896.9 L802.5 893.6 L804.1 890.2 L805.7 886.7 L807.4 883.2 L809.0 879.7 L810.7 876.1 L812.3 872.6 L814.0 869.1 L815.6 865.6 L817.3 862.3 L818.9 859.0 L820.6 855.9 L822.2 852.9 L823.9 850.1 L825.5 847.2 L827.2 844.4 L828.8 841.6 L830.5 838.9 L832.1 836.2 L833.8 833.5 L835.4 830.8 L837.1 828.2 L838.7 825.6 L840.3 823.1 L842.0 820.6 L843.6 818.1 L845.3 815.6 L846.9 813.2 L848.6 810.7 L850.2 808.3 L851.9 806.0 L853.5 803.6 L855.2 801.3 L856.8 799.0 L858.5 796.8 L860.1 794.5 L861.8 792.3 L863.4 790.1 L865.1 787.9 L866.7 785.7 L868.4 783.5 L870.0 781.4 L871.6 779.3 L873.3 777.1 L874.9 775.0 L876.6 772.9 L878.2 770.8 L879.9 768.7 L881.5 766.6 L883.2 764.5 L884.8 762.4 L886.5 760.3 L888.1 758.2 L889.8 756.2 L891.4 754.1 L893.1 752.1 L894.7 750.1 L896.4 748.0 L898.0 746.0 L899.7 744.0 L901.3 742.1 L903.0 740.1 L904.6 738.2 L906.2 736.2 L907.9 734.3 L909.5 732.4 L911.2 730.5 L912.8 728.7 L914.5 726.9 L916.1 725.0 L917.8 723.2 L919.4 721.5 L921.1 719.7 L922.7 718.0 L924.4 716.3 L926.0 714.6 L927.7 713.0 L929.3 711.4 L931.0 709.8 L932.6 708.2 L934.3 706.7 L935.9 705.2 L937.5 703.7 L939.2 702.3 L940.8 700.9 L942.5 699.5 L944.1 698.1 L945.8 696.8 L947.4 695.5 L949.1 694.3 L950.7 693.0 L952.4 691.7 L954.0 690.5 L955.7 689.3 L957.3 688.0 L959.0 686.8 L960.6 685.6 L962.3 684.5 L963.9 683.3 L965.6 682.1 L967.2 681.0 L968.9 679.9 L970.5 678.8 L972.1 677.6 L973.8 676.6 L975.4 675.5 L977.1 674.4 L978.7 673.4 L980.4 672.3 L982.0 671.3 L983.7 670.3 L985.3 669.3 L987.0 668.3 L988.6 667.4 L990.3 666.4 L991.9 665.5 L993.6 664.5 L995.2 663.6 L996.9 662.7 L998.5 661.8 L1000.2 661.0 L1001.8 660.1 L1003.4 659.3 L1005.1 658.4 L1006.7 657.6 L1008.4 656.8 L1010.0 656.0 L1011.7 655.3 L1013.3 654.5 L1015.0 653.8 L1016.6 653.0 L1018.3 652.3 L1019.9 651.6 L1021.6 650.9 L1023.2 650.2 L1024.9 649.5 L1026.5 648.9 L1028.2 648.2 L1029.8 647.5 L1031.5 646.8 L1033.1 646.1 L1034.8 645.5 L1036.4 644.8 L1038.0 644.1 L1039.7 643.5 L1041.3 642.8 L1043.0 642.1 L1044.6 641.5 L1046.3 640.8 L1047.9 640.2 L1049.6 639.6 L1051.2 638.9 L1052.9 638.3 L1054.5 637.7 L1056.2 637.0 L1057.8 636.4 L1059.5 635.8 L1061.1 635.2 L1062.8 634.6 L1064.4 634.0 L1066.1 633.4 L1067.7 632.8 L1069.3 632.3 L1071.0 631.7 L1072.6 631.1 L1074.3 630.5 L1075.9 630.0 L1077.6 629.4 L1079.2 628.9 L1080.9 628.4 L1082.5 627.8 L1084.2 627.3 L1085.8 626.8 L1087.5 626.3 L1089.1 625.8 L1090.8 625.3 L1092.4 624.8 L1094.1 624.3 L1095.7 623.8 L1097.4 623.3 L1099.0 622.9 L1100.7 622.4 L1102.3 622.0 L1103.9 621.5 L1105.6 621.1 L1107.2 620.7 L1108.9 620.2 L1110.5 619.8 L1112.2 619.4 L1113.8 619.0 L1115.5 618.7 L1117.1 618.3 L1118.8 617.9 L1120.4 617.6 L1122.1 617.2 L1123.7 616.9 L1125.4 616.5 L1127.0 616.2 L1128.7 615.9 L1130.3 615.6 L1132.0 615.3 L1133.6 615.0 L1135.2 614.8 L1136.9 614.5 L1138.5 614.3 L1140.2 614.0 L1141.8 613.8 L1143.5 613.6 L1145.1 613.3 L1146.8 613.1 L1148.4 612.9 L1150.1 612.7 L1151.7 612.4 L1153.4 612.2 L1155.0 612.0 L1156.7 611.8 L1158.3 611.6 L1160.0 611.4 L1161.6 611.1 L1163.3 610.9 L1164.9 610.7 L1166.6 610.5 L1168.2 610.3 L1169.8 610.1 L1171.5 609.9 L1173.1 609.7 L1174.8 609.5 L1176.4 609.3 L1178.1 609.1 L1179.7 608.9 L1181.4 608.7 L1183.0 608.5 L1184.7 608.3 L1186.3 608.1 L1188.0 607.9 L1189.6 607.8 L1191.3 607.6 L1192.9 607.4 L1194.6 607.2 L1196.2 607.0 L1197.9 606.9 L1199.5 606.7 L1201.1 606.5 L1202.8 606.4 L1204.4 606.2 L1206.1 606.1 L1207.7 605.9 L1209.4 605.8 L1211.0 605.6 L1212.7 605.5 L1214.3 605.3 L1216.0 605.2 L1217.6 605.1 L1219.3 604.9 L1220.9 604.8 L1222.6 604.7 L1224.2 604.6 L1225.9 604.4 L1227.5 604.3 L1229.2 604.2 L1230.8 604.1 L1232.5 604.0 L1234.1 603.9 L1235.7 603.8 L1237.4 603.8 L1239.0 603.7 L1240.7 603.6 L1242.3 603.5 L1244.0 603.5 L1245.6 603.4 L1247.3 603.3 L1248.9 603.3 L1250.6 603.2 L1252.2 603.2 L1253.9 603.1 L1255.5 603.1 L1257.2 603.1 L1258.8 603.1 L1260.5 603.0 L1262.1 603.0 L1263.8 603.0 L1265.4 603.0" stroke="#6690d6" stroke-width="2.2"/>
<path d="M772.8 953.9 L774.4 948.4 L776.1 943.7 L777.7 940.0 L779.4 936.9 L781.0 933.9 L782.7 930.7 L784.3 927.6 L786.0 924.4 L787.6 921.2 L789.3 918.1 L790.9 914.9 L792.6 911.8 L794.2 908.6 L795.9 905.4 L797.5 902.2 L799.2 899.0 L800.8 895.8 L802.5 892.5 L804.1 889.2 L805.7 885.8 L807.4 882.3 L809.0 878.8 L810.7 875.4 L812.3 871.9 L814.0 868.5 L815.6 865.1 L817.3 861.8 L818.9 858.6 L820.6 855.5 L822.2 852.6 L823.9 849.7 L825.5 846.9 L827.2 844.1 L828.8 841.3 L830.5 838.5 L832.1 835.8 L833.8 833.1 L835.4 830.5 L837.1 827.9 L838.7 825.3 L840.3 822.7 L842.0 820.2 L843.6 817.6 L845.3 815.2 L846.9 812.7 L848.6 810.3 L850.2 807.9 L851.9 805.5 L853.5 803.1 L855.2 800.8 L856.8 798.5 L858.5 796.2 L860.1 793.9 L861.8 791.6 L863.4 789.4 L865.1 787.2 L866.7 785.0 L868.4 782.8 L870.0 780.7 L871.6 778.6 L873.3 776.4 L874.9 774.3 L876.6 772.2 L878.2 770.1 L879.9 768.0 L881.5 765.9 L883.2 763.8 L884.8 761.7 L886.5 759.6 L888.1 757.5 L889.8 755.4 L891.4 753.4 L893.1 751.4 L894.7 749.3 L896.4 747.3 L898.0 745.3 L899.7 743.3 L901.3 741.3 L903.0 739.4 L904.6 737.4 L906.2 735.5 L907.9 733.6 L909.5 731.7 L911.2 729.8 L912.8 728.0 L914.5 726.1 L916.1 724.3 L917.8 722.5 L919.4 720.8 L921.1 719.0 L922.7 717.3 L924.4 715.6 L926.0 713.9 L927.7 712.3 L929.3 710.7 L931.0 709.1 L932.6 707.5 L934.3 706.0 L935.9 704.5 L937.5 703.0 L939.2 701.6 L940.8 700.2 L942.5 698.8 L944.1 697.4 L945.8 696.1 L947.4 694.8 L949.1 693.6 L950.7 692.3 L952.4 691.0 L954.0 689.8 L955.7 688.6 L957.3 687.3 L959.0 686.1 L960.6 684.9 L962.3 683.7 L963.9 682.6 L965.6 681.4 L967.2 680.3 L968.9 679.2 L970.5 678.0 L972.1 676.9 L973.8 675.8 L975.4 674.8 L977.1 673.7 L978.7 672.6 L980.4 671.6 L982.0 670.6 L983.7 669.6 L985.3 668.6 L987.0 667.6 L988.6 666.6 L990.3 665.7 L991.9 664.7 L993.6 663.8 L995.2 662.9 L996.9 662.0 L998.5 661.1 L1000.2 660.2 L1001.8 659.4 L1003.4 658.5 L1005.1 657.7 L1006.7 656.9 L1008.4 656.1 L1010.0 655.3 L1011.7 654.5 L1013.3 653.8 L1015.0 653.1 L1016.6 652.3 L1018.3 651.6 L1019.9 650.9 L1021.6 650.2 L1023.2 649.5 L1024.9 648.9 L1026.5 648.2 L1028.2 647.5 L1029.8 646.8 L1031.5 646.1 L1033.1 645.5 L1034.8 644.8 L1036.4 644.1 L1038.0 643.5 L1039.7 642.8 L1041.3 642.2 L1043.0 641.5 L1044.6 640.9 L1046.3 640.2 L1047.9 639.6 L1049.6 639.0 L1051.2 638.3 L1052.9 637.7 L1054.5 637.1 L1056.2 636.5 L1057.8 635.9 L1059.5 635.2 L1061.1 634.6 L1062.8 634.0 L1064.4 633.5 L1066.1 632.9 L1067.7 632.3 L1069.3 631.7 L1071.0 631.1 L1072.6 630.6 L1074.3 630.0 L1075.9 629.5 L1077.6 628.9 L1079.2 628.4 L1080.9 627.9 L1082.5 627.3 L1084.2 626.8 L1085.8 626.3 L1087.5 625.8 L1089.1 625.3 L1090.8 624.8 L1092.4 624.3 L1094.1 623.8 L1095.7 623.4 L1097.4 622.9 L1099.0 622.4 L1100.7 622.0 L1102.3 621.5 L1103.9 621.1 L1105.6 620.7 L1107.2 620.3 L1108.9 619.8 L1110.5 619.4 L1112.2 619.0 L1113.8 618.7 L1115.5 618.3 L1117.1 617.9 L1118.8 617.5 L1120.4 617.2 L1122.1 616.8 L1123.7 616.5 L1125.4 616.2 L1127.0 615.9 L1128.7 615.6 L1130.3 615.3 L1132.0 615.0 L1133.6 614.7 L1135.2 614.4 L1136.9 614.2 L1138.5 613.9 L1140.2 613.7 L1141.8 613.4 L1143.5 613.2 L1145.1 613.0 L1146.8 612.8 L1148.4 612.5 L1150.1 612.3 L1151.7 612.1 L1153.4 611.9 L1155.0 611.7 L1156.7 611.4 L1158.3 611.2 L1160.0 611.0 L1161.6 610.8 L1163.3 610.6 L1164.9 610.4 L1166.6 610.2 L1168.2 610.0 L1169.8 609.7 L1171.5 609.5 L1173.1 609.3 L1174.8 609.1 L1176.4 608.9 L1178.1 608.7 L1179.7 608.5 L1181.4 608.3 L1183.0 608.2 L1184.7 608.0 L1186.3 607.8 L1188.0 607.6 L1189.6 607.4 L1191.3 607.2 L1192.9 607.0 L1194.6 606.9 L1196.2 606.7 L1197.9 606.5 L1199.5 606.4 L1201.1 606.2 L1202.8 606.0 L1204.4 605.9 L1206.1 605.7 L1207.7 605.6 L1209.4 605.4 L1211.0 605.3 L1212.7 605.1 L1214.3 605.0 L1216.0 604.8 L1217.6 604.7 L1219.3 604.6 L1220.9 604.5 L1222.6 604.3 L1224.2 604.2 L1225.9 604.1 L1227.5 604.0 L1229.2 603.9 L1230.8 603.8 L1232.5 603.7 L1234.1 603.6 L1235.7 603.5 L1237.4 603.4 L1239.0 603.3 L1240.7 603.2 L1242.3 603.2 L1244.0 603.1 L1245.6 603.0 L1247.3 603.0 L1248.9 602.9 L1250.6 602.9 L1252.2 602.8 L1253.9 602.8 L1255.5 602.8 L1257.2 602.7 L1258.8 602.7 L1260.5 602.7 L1262.1 602.7 L1263.8 602.7 L1265.4 602.7" stroke="#2420c0" stroke-width="2.8" stroke-dasharray="24 17"/>
<path d="M772.8 953.9 L774.4 939.8 L776.1 928.5 L777.7 922.7 L779.4 920.3 L781.0 918.6 L782.7 917.3 L784.3 915.6 L786.0 913.4 L787.6 911.0 L789.3 908.4 L790.9 905.7 L792.6 902.9 L794.2 900.2 L795.9 897.5 L797.5 894.8 L799.2 892.0 L800.8 889.2 L802.5 886.3 L804.1 883.4 L805.7 880.5 L807.4 877.6 L809.0 874.7 L810.7 871.8 L812.3 869.0 L814.0 866.1 L815.6 863.3 L817.3 860.4 L818.9 857.7 L820.6 854.9 L822.2 852.3 L823.9 849.6 L825.5 847.0 L827.2 844.3 L828.8 841.7 L830.5 839.0 L832.1 836.4 L833.8 833.8 L835.4 831.2 L837.1 828.6 L838.7 826.0 L840.3 823.4 L842.0 820.9 L843.6 818.3 L845.3 815.8 L846.9 813.2 L848.6 810.7 L850.2 808.3 L851.9 805.8 L853.5 803.4 L855.2 800.9 L856.8 798.5 L858.5 796.2 L860.1 793.8 L861.8 791.5 L863.4 789.2 L865.1 787.0 L866.7 784.7 L868.4 782.5 L870.0 780.3 L871.6 778.2 L873.3 776.1 L874.9 774.0 L876.6 771.8 L878.2 769.7 L879.9 767.6 L881.5 765.5 L883.2 763.4 L884.8 761.3 L886.5 759.2 L888.1 757.2 L889.8 755.1 L891.4 753.0 L893.1 751.0 L894.7 749.0 L896.4 747.0 L898.0 744.9 L899.7 743.0 L901.3 741.0 L903.0 739.0 L904.6 737.1 L906.2 735.1 L907.9 733.2 L909.5 731.3 L911.2 729.5 L912.8 727.6 L914.5 725.8 L916.1 724.0 L917.8 722.2 L919.4 720.4 L921.1 718.7 L922.7 716.9 L924.4 715.2 L926.0 713.6 L927.7 711.9 L929.3 710.3 L931.0 708.7 L932.6 707.2 L934.3 705.6 L935.9 704.1 L937.5 702.7 L939.2 701.2 L940.8 699.8 L942.5 698.4 L944.1 697.1 L945.8 695.8 L947.4 694.5 L949.1 693.2 L950.7 691.9 L952.4 690.7 L954.0 689.4 L955.7 688.2 L957.3 687.0 L959.0 685.8 L960.6 684.6 L962.3 683.4 L963.9 682.2 L965.6 681.1 L967.2 679.9 L968.9 678.8 L970.5 677.7 L972.1 676.6 L973.8 675.5 L975.4 674.4 L977.1 673.3 L978.7 672.3 L980.4 671.2 L982.0 670.2 L983.7 669.2 L985.3 668.2 L987.0 667.2 L988.6 666.3 L990.3 665.3 L991.9 664.4 L993.6 663.4 L995.2 662.5 L996.9 661.6 L998.5 660.7 L1000.2 659.9 L1001.8 659.0 L1003.4 658.2 L1005.1 657.3 L1006.7 656.5 L1008.4 655.7 L1010.0 655.0 L1011.7 654.2 L1013.3 653.4 L1015.0 652.7 L1016.6 652.0 L1018.3 651.3 L1019.9 650.6 L1021.6 649.9 L1023.2 649.2 L1024.9 648.5 L1026.5 647.8 L1028.2 647.2 L1029.8 646.5 L1031.5 645.8 L1033.1 645.2 L1034.8 644.5 L1036.4 643.8 L1038.0 643.2 L1039.7 642.5 L1041.3 641.9 L1043.0 641.2 L1044.6 640.6 L1046.3 640.0 L1047.9 639.3 L1049.6 638.7 L1051.2 638.1 L1052.9 637.5 L1054.5 636.8 L1056.2 636.2 L1057.8 635.6 L1059.5 635.0 L1061.1 634.4 L1062.8 633.8 L1064.4 633.3 L1066.1 632.7 L1067.7 632.1 L1069.3 631.5 L1071.0 631.0 L1072.6 630.4 L1074.3 629.9 L1075.9 629.3 L1077.6 628.8 L1079.2 628.2 L1080.9 627.7 L1082.5 627.2 L1084.2 626.7 L1085.8 626.2 L1087.5 625.7 L1089.1 625.2 L1090.8 624.7 L1092.4 624.2 L1094.1 623.7 L1095.7 623.3 L1097.4 622.8 L1099.0 622.3 L1100.7 621.9 L1102.3 621.5 L1103.9 621.0 L1105.6 620.6 L1107.2 620.2 L1108.9 619.8 L1110.5 619.4 L1112.2 619.0 L1113.8 618.6 L1115.5 618.2 L1117.1 617.9 L1118.8 617.5 L1120.4 617.2 L1122.1 616.8 L1123.7 616.5 L1125.4 616.2 L1127.0 615.8 L1128.7 615.5 L1130.3 615.2 L1132.0 615.0 L1133.6 614.7 L1135.2 614.4 L1136.9 614.2 L1138.5 613.9 L1140.2 613.7 L1141.8 613.4 L1143.5 613.2 L1145.1 613.0 L1146.8 612.8 L1148.4 612.5 L1150.1 612.3 L1151.7 612.1 L1153.4 611.9 L1155.0 611.7 L1156.7 611.4 L1158.3 611.2 L1160.0 611.0 L1161.6 610.8 L1163.3 610.6 L1164.9 610.4 L1166.6 610.2 L1168.2 610.0 L1169.8 609.8 L1171.5 609.5 L1173.1 609.3 L1174.8 609.1 L1176.4 608.9 L1178.1 608.7 L1179.7 608.5 L1181.4 608.4 L1183.0 608.2 L1184.7 608.0 L1186.3 607.8 L1188.0 607.6 L1189.6 607.4 L1191.3 607.2 L1192.9 607.1 L1194.6 606.9 L1196.2 606.7 L1197.9 606.5 L1199.5 606.4 L1201.1 606.2 L1202.8 606.0 L1204.4 605.9 L1206.1 605.7 L1207.7 605.6 L1209.4 605.4 L1211.0 605.3 L1212.7 605.1 L1214.3 605.0 L1216.0 604.8 L1217.6 604.7 L1219.3 604.6 L1220.9 604.5 L1222.6 604.3 L1224.2 604.2 L1225.9 604.1 L1227.5 604.0 L1229.2 603.9 L1230.8 603.8 L1232.5 603.7 L1234.1 603.6 L1235.7 603.5 L1237.4 603.4 L1239.0 603.3 L1240.7 603.2 L1242.3 603.2 L1244.0 603.1 L1245.6 603.0 L1247.3 603.0 L1248.9 602.9 L1250.6 602.9 L1252.2 602.8 L1253.9 602.8 L1255.5 602.8 L1257.2 602.7 L1258.8 602.7 L1260.5 602.7 L1262.1 602.7 L1263.8 602.7 L1265.4 602.7" stroke="#7a3bd3" stroke-width="2.9" stroke-dasharray="19 9.2 3.6 9.2"/>
</g>
<g stroke="#1a1a1a" stroke-width="2.6" fill="none">
<rect x="772.8" y="585.1" width="492.60" height="368.80"/>
<path d="M803.59 953.90V950.40M803.59 585.10V588.60M834.38 953.90V950.40M834.38 585.10V588.60M865.16 953.90V950.40M865.16 585.10V588.60M895.95 953.90V947.70M895.95 585.10V591.30M926.74 953.90V950.40M926.74 585.10V588.60M957.52 953.90V950.40M957.52 585.10V588.60M988.31 953.90V950.40M988.31 585.10V588.60M1019.10 953.90V947.70M1019.10 585.10V591.30M1049.89 953.90V950.40M1049.89 585.10V588.60M1080.67 953.90V950.40M1080.67 585.10V588.60M1111.46 953.90V950.40M1111.46 585.10V588.60M1142.25 953.90V947.70M1142.25 585.10V591.30M1173.04 953.90V950.40M1173.04 585.10V588.60M1203.83 953.90V950.40M1203.83 585.10V588.60M1234.61 953.90V950.40M1234.61 585.10V588.60M772.80 910.00H776.30M1265.40 910.00H1261.90M772.80 866.09H779.00M1265.40 866.09H1259.20M772.80 822.19H776.30M1265.40 822.19H1261.90M772.80 778.28H779.00M1265.40 778.28H1259.20M772.80 734.38H776.30M1265.40 734.38H1261.90M772.80 690.47H779.00M1265.40 690.47H1259.20M772.80 646.57H776.30M1265.40 646.57H1261.90M772.80 602.66H779.00M1265.40 602.66H1259.20"/>
</g>
<g font-family="'Liberation Sans', sans-serif" fill="#141414" stroke="#141414" stroke-width="0.45">
<text transform="translate(762.80,962.70) scale(1.06,1)" font-size="24.2" text-anchor="end" >0</text>
<text transform="translate(762.80,874.89) scale(1.06,1)" font-size="24.2" text-anchor="end" >0.25</text>
<text transform="translate(762.80,787.08) scale(1.06,1)" font-size="24.2" text-anchor="end" >0.5</text>
<text transform="translate(762.80,699.27) scale(1.06,1)" font-size="24.2" text-anchor="end" >0.75</text>
<text transform="translate(748.53,611.46) scale(1.06,1)" font-size="24.2" text-anchor="start" >&#8199;</text><path transform="translate(748.53,611.46) scale(0.02565,-0.02420)" d="M359 0L359 703L297 703C282 640 238 590 101 582L101 514L269 514L269 0Z"/>
<text transform="translate(772.80,983.90) scale(1.06,1)" font-size="24.2" text-anchor="middle" >0</text>
<text transform="translate(895.95,983.90) scale(1.06,1)" font-size="24.2" text-anchor="middle" >0.025</text>
<text transform="translate(1019.10,983.90) scale(1.06,1)" font-size="24.2" text-anchor="middle" >0.05</text>
<text transform="translate(1142.25,983.90) scale(1.06,1)" font-size="24.2" text-anchor="middle" >0.075</text>
<text transform="translate(1247.57,983.90) scale(1.06,1)" font-size="24.2" text-anchor="start" >0.&#8199;</text><path transform="translate(1268.96,983.90) scale(0.02565,-0.02420)" d="M359 0L359 703L297 703C282 640 238 590 101 582L101 514L269 514L269 0Z"/>
<text transform="translate(1018.90,1018.10) scale(1.046,1)" font-size="34.2" text-anchor="middle" >Potential vs. RHE, V</text>
<text transform="translate(680.80,771.50) rotate(-90)" font-size="34.2" text-anchor="middle"><tspan font-style="italic">i</tspan><tspan dx="2.6"> /</tspan><tspan font-style="italic">i</tspan><tspan font-size="27" dx="2.5" dy="17">lim</tspan></text>
</g>
<text transform="translate(368.40,45.20) scale(1.06,1)" font-family="'Liberation Sans', sans-serif" fill="#141414" stroke="#141414" stroke-width="0.45" font-size="34.2" text-anchor="middle">a) Pt</text>
<text transform="translate(1017.30,27.00) scale(1.06,1)" font-family="'Liberation Sans', sans-serif" fill="#141414" stroke="#141414" stroke-width="0.45" font-size="34.2" text-anchor="middle">b) Ru<tspan font-size="27" dy="18.3">0.2</tspan><tspan dy="-18.3">Pt</tspan><tspan font-size="27" dy="18.3">0.8</tspan></text>
<text transform="translate(366.30,550.10) scale(1.06,1)" font-family="'Liberation Sans', sans-serif" fill="#141414" stroke="#141414" stroke-width="0.45" font-size="34.2" text-anchor="middle">c) Ru<tspan font-size="27" dy="18.3">0.4</tspan><tspan dy="-18.3">Pt</tspan><tspan font-size="27" dy="18.3">0.6</tspan></text>
<text transform="translate(1016.50,552.80) scale(1.06,1)" font-family="'Liberation Sans', sans-serif" fill="#141414" stroke="#141414" stroke-width="0.45" font-size="34.2" text-anchor="middle">d) Ru<tspan font-size="27" dy="18.3">0.8</tspan><tspan dy="-18.3">Pt</tspan><tspan font-size="27" dy="18.3">0.2</tspan></text>
<g fill="none">
<path d="M1006.5 703.3H1083.5" stroke="#1c1c1c" stroke-width="2.8" stroke-dasharray="24 17"/>
<path d="M1005.0 762.3H1083.5" stroke="#202020" stroke-width="2.8"/>
<path d="M1006.5 792.0H1083.5" stroke="#bd3434" stroke-width="2.9" stroke-dasharray="24 17"/>
<path d="M1006.5 821.5H1083.5" stroke="#da9059" stroke-width="2.8" stroke-dasharray="19 9.2 3.6 9.2"/>
<path d="M1005.0 851.2H1083.5" stroke="#6690d6" stroke-width="2.2"/>
<path d="M1006.5 880.8H1083.5" stroke="#2420c0" stroke-width="2.8" stroke-dasharray="24 17"/>
<path d="M1006.5 910.3H1083.5" stroke="#7a3bd3" stroke-width="2.9" stroke-dasharray="19 9.2 3.6 9.2"/>
</g>
<g font-family="'Liberation Sans', sans-serif" fill="#141414" stroke="#141414" stroke-width="0.45">
<text transform="translate(1090.50,704.20) scale(1.11,1)" font-size="21.0" text-anchor="start" >Diffusion Lim</text>
<text transform="translate(1090.50,734.30) scale(1.11,1)" font-size="21.0" text-anchor="start" >pH&#160;&#160;(Table &#8199;)</text><path transform="translate(1205.80,734.30) scale(0.02331,-0.02100)" d="M359 0L359 703L297 703C282 640 238 590 101 582L101 514L269 514L269 0Z"/>
<text transform="translate(1090.50,764.10) scale(1.09,1)" font-size="21.0" text-anchor="start" >&#8199;2.95</text><path transform="translate(1090.50,764.10) scale(0.02289,-0.02100)" d="M359 0L359 703L297 703C282 640 238 590 101 582L101 514L269 514L269 0Z"/>
<text transform="translate(1090.50,793.80) scale(1.09,1)" font-size="21.0" text-anchor="start" >&#8199;2.95</text><path transform="translate(1090.50,793.80) scale(0.02289,-0.02100)" d="M359 0L359 703L297 703C282 640 238 590 101 582L101 514L269 514L269 0Z"/>
<text transform="translate(1090.50,823.30) scale(1.09,1)" font-size="21.0" text-anchor="start" >&#8199;3.03</text><path transform="translate(1090.50,823.30) scale(0.02289,-0.02100)" d="M359 0L359 703L297 703C282 640 238 590 101 582L101 514L269 514L269 0Z"/>
<text transform="translate(1090.50,853.00) scale(1.09,1)" font-size="21.0" text-anchor="start" >&#8199;2.37</text><path transform="translate(1090.50,853.00) scale(0.02289,-0.02100)" d="M359 0L359 703L297 703C282 640 238 590 101 582L101 514L269 514L269 0Z"/>
<text transform="translate(1090.50,882.60) scale(1.09,1)" font-size="21.0" text-anchor="start" >&#8199;2.&#8199;0</text><path transform="translate(1090.50,882.60) scale(0.02289,-0.02100)" d="M359 0L359 703L297 703C282 640 238 590 101 582L101 514L269 514L269 0Z"/><path transform="translate(1122.32,882.60) scale(0.02289,-0.02100)" d="M359 0L359 703L297 703C282 640 238 590 101 582L101 514L269 514L269 0Z"/>
<text transform="translate(1090.50,912.10) scale(1.09,1)" font-size="21.0" text-anchor="start" >&#8199;2.08</text><path transform="translate(1090.50,912.10) scale(0.02289,-0.02100)" d="M359 0L359 703L297 703C282 640 238 590 101 582L101 514L269 514L269 0Z"/>
</g>
</svg>
</body></html>
